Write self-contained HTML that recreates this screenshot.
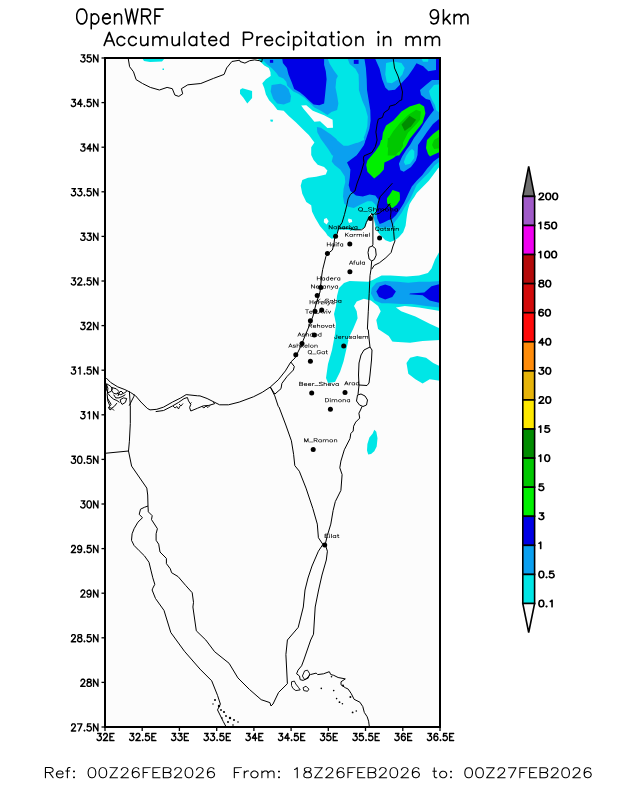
<!DOCTYPE html>
<html><head><meta charset="utf-8"><style>
html,body{margin:0;padding:0;background:#fff;}
svg{display:block;}
text{font-family:"Liberation Sans", sans-serif;fill:#000;}
.cl{font-size:7.2px;}
</style></head><body>
<svg width="618" height="800" viewBox="0 0 618 800">
<defs><clipPath id="mapclip"><rect x="105" y="58" width="335" height="669"/></clipPath></defs>
<rect x="106" y="59" width="333" height="667" fill="#fcfcfc"/>
<g clip-path="url(#mapclip)"><polygon points="256.2,57.0 441.0,57.0 441.0,167.0 438.5,167.8 433.7,174.3 428.8,180.7 422.4,187.2 416.7,192.9 414.3,197.0 412.1,199.9 409.6,203.9 408.0,209.6 407.2,213.6 406.4,219.3 405.6,225.7 403.2,232.2 399.1,237.1 395.1,240.3 390.2,241.9 385.4,240.3 381.3,236.3 378.1,232.2 375.7,228.2 374.5,221.7 374.0,219.3 371.2,212.8 368.8,216.0 367.2,221.7 364.7,227.4 359.9,229.8 353.4,230.6 346.9,229.8 338.8,229.8 334.8,237.9 331.6,238.7 327.5,235.5 325.8,232.7 320.1,226.2 315.2,218.1 312.0,211.6 311.2,205.2 306.3,201.9 302.3,193.8 300.7,185.7 302.3,180.1 308.0,177.7 316.1,176.8 325.8,174.4 327.4,170.4 324.1,167.1 317.7,164.7 313.6,159.9 311.2,155.0 311.2,147.2 314.4,142.4 308.8,135.1 303.1,129.4 295.8,122.2 288.5,115.7 283.7,110.8 277.5,110.0 273.2,104.4 269.1,100.3 265.9,94.6 264.3,88.2 262.3,83.3 265.9,79.3 270.7,76.0 270.4,72.0 268.8,67.9 264.3,65.5 260.2,61.5 256.2,57.0" fill="#00e6e6"/>
<polygon points="301.2,105.5 306.3,105.2 312.8,110.8 324.1,115.2 332.6,119.7 333.0,127.8 327.4,128.1 320.1,121.3 314.4,121.7 308.8,114.9 303.9,109.2" fill="#fcfcfc"/>
<polygon points="240.0,89.8 242.4,88.2 252.1,90.9 252.1,97.9 247.3,103.5 243.2,97.4 240.0,93.8" fill="#00e6e6"/>
<polygon points="270.4,119.4 273.2,119.7 272.4,122.0 270.4,121.3" fill="#00e6e6"/>
<polygon points="324.1,218.9 326.6,218.1 328.7,221.3 326.6,224.6 323.8,222.2" fill="#fcfcfc"/>
<polygon points="348.5,218.5 351.8,219.5 352.2,222.0 349.0,223.0 348.0,220.5" fill="#fcfcfc"/>
<polygon points="142.5,58.5 164.5,58.5 162.0,61.5 150.0,62.0 144.0,61.0" fill="#00e6e6"/>
<polygon points="162.5,68.5 164.0,68.5 164.0,70.0 162.5,70.0" fill="#00e6e6"/>
<polygon points="438.9,252.5 435.0,259.6 431.5,268.5 427.9,272.9 419.0,275.6 406.5,276.5 390.5,275.6 381.6,275.6 372.7,280.0 368.3,281.8 349.6,280.9 344.0,283.0 339.0,288.0 337.0,296.0 336.0,306.0 334.0,314.0 336.0,324.0 335.0,334.0 332.0,350.0 328.0,364.0 326.0,378.0 328.0,383.0 335.0,382.0 340.0,372.0 343.5,361.4 346.0,350.7 348.5,340.0 347.8,339.7 353.1,329.0 357.6,318.3 356.7,311.2 354.0,305.9 356.7,301.4 363.8,298.7 370.9,300.5 378.1,305.9 380.7,311.2 376.3,320.1 378.1,329.0 388.7,336.1 392.3,341.5 394.1,341.8 410.1,342.7 422.6,340.9 441.0,340.0 441.0,252.5" fill="#00e6e6"/>
<polygon points="441.0,329.0 429.7,323.7 415.4,316.5 401.2,311.2 395.9,307.6 404.8,305.9 419.0,307.6 441.0,311.2" fill="#fcfcfc"/>
<polygon points="441.0,280.9 429.7,281.8 419.0,281.8 408.3,282.7 397.6,281.8 385.2,280.9 376.3,282.7 371.8,288.1 370.9,293.4 374.5,300.5 381.6,303.2 388.7,303.2 401.2,304.1 411.9,304.1 426.1,305.9 441.0,307.6" fill="#0aa0f0"/>
<polygon points="376.3,291.6 379.8,286.3 385.2,284.5 390.5,286.3 395.9,291.6 392.3,297.0 385.2,299.6 379.0,297.0" fill="#0000e6"/>
<polygon points="441.0,283.6 431.5,286.3 424.3,292.5 410.1,293.4 409.2,294.3 422.6,295.2 429.7,300.5 441.0,303.2" fill="#0000e6"/>
<polygon points="406.5,363.1 410.1,357.8 417.2,356.0 426.1,357.8 433.2,363.1 441.0,366.7 441.0,380.9 429.7,379.2 422.6,383.6 415.4,379.2 408.3,373.8" fill="#00e6e6"/>
<polygon points="374.3,429.8 376.3,431.8 377.5,438.3 376.7,446.4 374.3,451.3 371.0,454.1 368.2,454.5 367.0,450.5 367.4,444.0 369.4,437.5 372.7,433.5" fill="#00e6e6"/>
<polygon points="261.0,57.9 266.7,63.9 272.4,68.8 276.4,73.1 278.8,76.5 283.4,78.6 286.3,81.7 287.2,85.7 290.2,88.5 293.4,91.4 298.3,93.8 304.7,97.9 309.6,102.7 314.4,107.6 320.9,110.8 327.4,114.9 331.4,112.0 337.1,110.0 338.4,103.5 337.1,95.5 335.5,87.4 336.3,79.3 337.9,76.0 333.9,70.4 329.8,63.9 327.4,57.9" fill="#0aa0f0"/>
<polygon points="271.6,84.9 280.5,83.8 285.3,85.7 288.5,89.3 291.0,96.3 290.2,101.9 283.7,104.4 277.2,103.5 273.2,98.7 270.7,91.4" fill="#0aa0f0"/>
<polygon points="316.9,127.0 320.9,127.8 330.6,134.3 340.6,142.4 340.6,155.6 332.2,155.6 328.2,148.9 320.9,139.1 317.3,132.3" fill="#0aa0f0"/>
<polygon points="347.3,57.9 349.7,63.9 355.4,68.8 358.6,74.4 358.9,83.3 358.9,90.0 362.2,100.5 365.4,107.8 367.8,116.7 367.3,126.4 365.4,133.6 362.8,140.0 356.2,144.0 346.5,145.6 339.5,146.4 339.5,155.6 439.0,155.6 439.0,57.9" fill="#0aa0f0"/>
<polygon points="330.0,146.8 332.3,147.9 333.4,154.7 331.7,161.5 334.5,164.9 340.2,169.4 344.7,176.2 345.3,181.9 343.6,188.7 343.0,196.6 344.2,203.4 348.1,206.8 353.8,208.0 360.6,204.6 367.4,201.2 371.9,201.2 375.3,204.6 377.6,210.0 374.0,217.7 374.9,221.7 376.5,224.9 379.7,227.4 386.2,227.4 392.7,227.4 394.3,222.5 397.5,218.5 401.6,212.8 404.8,207.1 409.8,199.5 413.0,193.0 416.7,184.8 422.4,179.1 428.8,172.7 434.5,165.4 441.0,160.5 441.0,150.0 330.0,140.0" fill="#0aa0f0"/>
<polygon points="336.8,140.0 343.6,145.7 348.1,145.7 358.3,142.3 364.0,140.0 364.0,138.0 336.8,138.0" fill="#00e6e6"/>
<polygon points="282.1,57.9 282.9,63.1 286.9,67.9 288.5,74.4 291.8,82.5 294.2,89.0 299.9,92.2 304.7,96.3 309.6,101.1 313.6,104.4 319.3,105.2 324.1,103.5 325.0,95.5 325.8,87.4 326.6,79.3 325.8,71.2 324.1,64.7 324.1,57.9" fill="#0000e6"/>
<polygon points="269.9,59.9 273.2,59.9 273.2,62.8 269.9,62.8" fill="#0000e6"/>
<polygon points="364.3,57.9 365.9,67.9 366.7,79.3 367.0,90.0 368.6,99.7 370.3,110.2 370.6,120.7 369.4,128.8 367.0,136.1 365.7,140.0 364.3,146.4 356.7,155.6 439.0,155.6 439.0,57.9" fill="#0000e6"/>
<polygon points="353.8,59.9 358.6,59.9 358.6,63.9 353.8,63.9" fill="#0000e6"/>
<polygon points="365.8,140.0 364.0,145.0 357.0,155.0 347.0,162.6 350.4,169.4 349.8,177.4 348.7,185.3 350.4,191.0 356.0,195.5 362.8,196.6 369.6,194.4 375.3,195.5 378.7,200.0 376.5,212.8 377.3,218.5 379.7,224.1 383.8,222.5 388.6,220.1 391.8,219.3 395.9,215.2 399.9,209.6 404.0,203.1 408.6,192.9 411.8,186.4 416.7,180.7 422.4,175.1 427.2,168.6 433.7,161.3 441.0,156.0 441.0,140.0" fill="#0000e6"/>
<polygon points="374.8,57.9 379.6,68.8 382.1,79.3 385.3,87.4 388.5,90.6 395.0,89.8 400.7,84.1 408.1,75.9 413.3,68.4 416.5,63.3 423.2,66.2 428.3,71.3 436.0,69.9 436.0,57.9" fill="#0aa0f0"/>
<polygon points="436.0,57.0 441.0,57.0 441.0,81.0 436.0,81.0" fill="#0000e6"/>
<polygon points="386.1,63.1 393.4,61.5 401.5,63.1 404.7,67.9 402.3,74.4 398.3,79.3 391.8,83.3 386.9,82.5 385.3,74.4" fill="#00e6e6"/>
<polygon points="421.0,58.0 428.5,58.0 428.0,61.7 423.0,61.7" fill="#00e6e6"/>
<polygon points="432.0,80.0 427.0,84.0 420.0,90.0 421.0,95.0 426.0,99.0 430.0,100.0 432.0,105.0 434.0,110.0 430.0,115.0 425.0,122.0 420.0,130.0 414.0,138.0 410.0,145.0 406.2,150.0 402.1,156.5 398.9,163.8 400.5,170.2 403.8,171.8 411.0,167.0 415.9,160.5 417.5,154.9 418.0,145.0 423.0,138.0 427.0,132.0 433.0,124.0 439.0,119.0 441.0,119.0 441.0,80.0" fill="#0aa0f0"/>
<polygon points="429.0,91.0 434.0,85.0 441.0,84.0 441.0,114.0 436.0,110.0 435.0,105.0 432.0,100.0 430.0,95.0" fill="#00e6e6"/>
<polygon points="412.0,149.0 409.4,151.0 406.2,155.7 403.8,162.1 405.4,165.0 410.2,163.8 414.3,158.1 414.3,151.0" fill="#00e6e6"/>
<polygon points="373.2,155.6 381.3,145.6 382.9,132.7 386.1,125.4 393.4,120.5 401.5,111.6 409.6,106.5 419.3,103.5 424.1,106.5 425.4,113.3 422.5,123.0 416.1,131.1 409.6,139.1 406.3,145.6 401.5,152.1 399.1,155.6" fill="#00f000"/>
<polygon points="381.0,140.0 379.8,144.5 375.3,151.3 367.4,160.4 366.2,164.9 367.4,171.7 374.2,178.5 379.8,174.0 383.8,169.4 384.4,162.6 388.9,160.4 393.4,158.1 399.1,153.6 403.0,148.0 400.0,138.0" fill="#00f000"/>
<polygon points="387.7,155.6 388.5,139.1 393.4,131.1 399.9,123.0 408.0,114.9 416.1,109.7 420.9,111.6 420.1,119.7 414.4,126.2 408.0,132.7 403.1,142.4 399.9,148.9 395.8,155.6" fill="#00c800"/>
<polygon points="387.8,138.0 387.8,140.0 387.2,146.8 391.2,152.5 395.7,153.6 400.0,151.3 403.0,146.0 403.0,138.0" fill="#00c800"/>
<polygon points="401.5,124.6 409.6,115.7 416.1,119.7 411.2,126.2 404.7,131.1" fill="#008c00"/>
<polygon points="441.0,128.0 433.0,134.0 427.0,140.0 426.0,148.0 428.0,154.0 430.0,156.5 432.9,154.9 438.5,152.4 441.0,152.0" fill="#00f000"/>
<polygon points="441.0,136.0 434.0,140.0 432.0,145.0 434.0,149.0 441.0,148.0" fill="#00c800"/>
<polygon points="392.6,190.0 399.4,192.3 399.9,195.0 399.9,199.9 396.7,204.7 392.7,207.9 388.6,206.3 387.0,202.3 387.0,198.2 389.8,194.5" fill="#00f000"/></g>
<g clip-path="url(#mapclip)"><polyline points="128.3,57.0 128.3,58.9 129.6,66.7 133.5,71.8 136.1,79.6 142.5,83.5 150.3,87.4 159.4,90.0 167.1,87.4 172.3,88.7 174.9,95.1 178.8,96.4 182.7,93.8 181.4,88.7 187.8,84.8 200.8,83.5 213.7,78.3 224.1,74.4 226.7,67.9 231.9,61.5 239.6,60.2 240.0,61.5 244.9,63.1 249.7,60.7 254.6,59.9 259.4,60.7 261.8,61.8 262.5,57.0" fill="none" stroke="#000" stroke-width="1.0" stroke-linejoin="round"/>
<polyline points="393.0,57.0 394.5,68.0 398.0,76.0 400.5,84.0 402.5,92.0 401.7,100.0 400.0,100.5 395.3,104.6 389.6,106.2 388.8,109.4 384.0,112.7 382.4,117.5 378.3,119.1 377.1,124.0 375.9,132.1 377.1,140.0 375.3,146.8 371.9,152.5 364.0,155.9 363.4,158.1 364.0,162.6 360.6,174.0 357.2,183.0 354.9,191.0 350.4,194.4 348.1,198.9 346.9,204.7 344.5,214.4 342.1,222.5 338.8,227.4 337.2,233.8 334.8,237.1 334.0,243.5 332.4,250.0 328.3,253.3 325.9,256.5 324.3,263.0 322.7,269.4 321.8,275.0 320.0,292.0 316.0,304.0 313.0,316.0 310.0,324.0 305.0,336.0 300.0,348.0 295.0,358.0 290.8,362.0 285.4,370.9 278.3,379.8 270.3,387.0 262.3,392.3 253.4,396.8 239.2,402.1 228.5,404.8 219.6,404.8 214.2,402.1 207.1,398.5 200.0,395.9 197.6,395.8 186.2,394.6 180.6,398.0 172.6,402.0 163.6,407.1 156.8,409.3 150.0,409.9 147.2,408.3 140.9,402.0 135.6,395.8 130.3,392.3 124.9,389.6 117.8,386.9 110.7,382.5 106.2,378.0" fill="none" stroke="#000" stroke-width="1.0" stroke-linejoin="round"/>
<polyline points="155.7,411.6 163.6,410.5 172.6,405.9 178.3,402.6 184.0,398.6 187.4,397.5 188.5,400.9 190.8,404.3 189.6,407.6 190.8,411.0 197.6,408.2 203.2,405.9 208.9,405.4 214.6,403.7 213.4,402.0" fill="none" stroke="#000" stroke-width="1.0" stroke-linejoin="round"/>
<polyline points="173.0,406.0 175.0,408.0 177.0,406.5 178.5,409.0 180.0,406.0" fill="none" stroke="#000" stroke-width="0.9" stroke-linejoin="round"/>
<polyline points="179.0,404.0 181.0,406.0 183.0,403.5" fill="none" stroke="#000" stroke-width="0.9" stroke-linejoin="round"/>
<polyline points="202.0,406.5 204.0,408.0 206.0,406.0 208.0,407.5 210.0,405.5" fill="none" stroke="#000" stroke-width="0.9" stroke-linejoin="round"/>
<polyline points="190.0,404.0 191.5,402.5" fill="none" stroke="#000" stroke-width="0.9" stroke-linejoin="round"/>
<polyline points="106.6,383.7 110.5,386.2 112.4,388.8 111.1,391.4 107.9,392.7 106.6,390.1 106.6,383.7" fill="none" stroke="#000" stroke-width="1.0" stroke-linejoin="round"/>
<polyline points="111.8,387.5 116.3,388.8 118.9,391.4 116.9,394.0 113.7,393.4 111.8,390.8 111.8,387.5" fill="none" stroke="#000" stroke-width="1.0" stroke-linejoin="round"/>
<polyline points="116.9,393.4 120.8,394.7 124.7,392.7 126.7,391.4" fill="none" stroke="#000" stroke-width="1.0" stroke-linejoin="round"/>
<polyline points="107.9,393.4 110.5,396.6 113.7,399.2 116.9,400.5 119.5,402.4" fill="none" stroke="#000" stroke-width="1.0" stroke-linejoin="round"/>
<polyline points="107.2,397.9 109.2,401.1 111.1,404.4 108.5,407.6 111.8,408.2 114.4,406.3 116.9,403.1" fill="none" stroke="#000" stroke-width="1.0" stroke-linejoin="round"/>
<polyline points="120.2,399.8 123.4,397.9 126.7,398.5 125.4,402.4 122.1,404.4 120.8,402.4 120.2,399.8" fill="none" stroke="#000" stroke-width="1.0" stroke-linejoin="round"/>
<polyline points="113.7,394.7 115.7,397.9 118.9,397.9 122.1,396.6 125.4,394.7" fill="none" stroke="#000" stroke-width="1.0" stroke-linejoin="round"/>
<polyline points="106.6,384.9 107.9,388.2 107.2,394.7 107.9,401.1 109.8,405.7" fill="none" stroke="#000" stroke-width="1.0" stroke-linejoin="round"/>
<polyline points="108.5,407.6 110.0,410.0 112.0,408.5 114.0,410.5" fill="none" stroke="#000" stroke-width="1.0" stroke-linejoin="round"/>
<polyline points="118.0,396.0 119.0,393.0 121.0,391.0 123.0,393.0" fill="none" stroke="#000" stroke-width="1.0" stroke-linejoin="round"/>
<polyline points="129.2,405.7 133.8,396.6 134.4,394.7" fill="none" stroke="#000" stroke-width="1.0" stroke-linejoin="round"/>
<polyline points="129.4,391.4 130.3,405.6 130.3,423.4 129.4,441.2 128.5,451.0 131.6,466.1 146.8,488.1 147.7,495.0 148.0,506.0" fill="none" stroke="#000" stroke-width="1.0" stroke-linejoin="round"/>
<polyline points="128.5,451.0 105.0,453.3" fill="none" stroke="#000" stroke-width="1.0" stroke-linejoin="round"/>
<polyline points="148.0,506.0 144.4,507.3 140.5,509.2 139.2,514.4 142.5,517.7 137.9,522.2 134.1,528.7 132.1,533.8 131.5,540.3 134.1,545.5 139.2,550.7 144.4,555.8 149.0,562.3 150.9,570.1 152.8,577.8 154.8,584.3 152.8,588.2 152.1,590.0 155.5,598.5 164.0,610.4 170.8,632.5 184.4,651.2 200.0,669.1 211.7,680.8 217.5,695.3 220.4,704.1 217.5,709.9 223.3,721.6 226.2,727.0" fill="none" stroke="#000" stroke-width="1.0" stroke-linejoin="round"/>
<polyline points="148.0,506.0 148.3,511.8 152.2,515.7 151.5,519.6 157.4,528.7 156.1,533.8 156.1,540.3 158.7,544.2 160.0,552.0 166.4,558.4 166.4,563.6 170.3,568.8 171.6,572.7 178.1,576.6 185.8,585.6 192.2,592.7 193.5,602.3 192.9,607.0 196.3,630.8 205.8,640.0 214.6,651.7 229.1,663.3 237.9,677.9 249.5,689.5 261.2,699.7 269.9,702.6 271.0,706.0 273.0,704.0 278.6,692.4 287.4,683.7 285.9,654.6 287.4,640.0 298.2,627.4 303.3,607.0 305.0,590.0 308.0,578.0 312.0,566.0 318.4,551.2 322.9,544.4" fill="none" stroke="#000" stroke-width="1.0" stroke-linejoin="round"/>
<polyline points="325.2,544.4 327.4,551.2 326.3,560.0 322.0,575.0 318.6,590.0 315.2,607.0 313.5,634.2 310.7,640.0 303.8,660.0 301.6,665.8 298.0,670.2 296.6,673.8 299.5,676.0 300.2,679.7 303.1,680.4 306.0,678.9 310.4,674.6 316.2,673.1 317.7,674.6 323.5,673.8 329.3,671.7 330.8,674.6 333.7,675.3 338.1,677.5 345.3,678.9 341.0,681.8 341.0,684.8 345.3,687.7 348.2,689.1 351.2,693.5 354.1,699.3 359.9,702.2 362.8,706.6 364.3,712.4 367.2,716.8 368.6,721.2 369.4,727.0" fill="none" stroke="#000" stroke-width="1.0" stroke-linejoin="round"/>
<polyline points="304.6,670.9 307.5,670.2 309.7,673.8 308.2,678.2 304.6,679.7 302.4,676.0 304.6,670.9" fill="none" stroke="#000" stroke-width="0.9" stroke-linejoin="round"/>
<polyline points="291.5,681.8 294.4,681.1 295.8,684.0 298.7,687.7 300.2,689.9 295.8,690.6 292.9,688.4 291.5,685.5 291.5,681.8" fill="none" stroke="#000" stroke-width="0.9" stroke-linejoin="round"/>
<polyline points="303.1,687.7 306.0,686.2 308.9,689.1 307.5,691.3 303.8,690.6 303.1,687.7" fill="none" stroke="#000" stroke-width="0.9" stroke-linejoin="round"/>
<polyline points="270.3,387.0 274.8,395.9 278.3,406.5 279.0,407.0 285.8,425.0 291.4,440.8 293.6,454.3 294.8,465.6 299.3,471.2 306.0,488.1 312.8,508.4 317.3,524.1 318.4,537.7 322.9,544.4" fill="none" stroke="#000" stroke-width="1.0" stroke-linejoin="round"/>
<polyline points="290.8,362.0 294.3,366.5 293.4,370.0 287.2,376.3 281.9,383.4 281.0,388.7 274.8,394.1 270.3,387.0" fill="none" stroke="#000" stroke-width="1.0" stroke-linejoin="round"/>
<polyline points="325.2,544.4 327.4,535.4 330.8,524.1 333.1,510.6 335.3,501.6 340.9,490.4 342.1,474.6 339.8,467.8 340.9,461.1 344.3,449.8 350.0,438.6 350.8,433.5 353.2,431.0 353.6,426.2 355.7,422.1 359.7,418.1 358.9,413.2 360.5,410.0 362.0,406.5" fill="none" stroke="#000" stroke-width="1.0" stroke-linejoin="round"/>
<polyline points="358.0,394.5 359.0,385.0" fill="none" stroke="#000" stroke-width="1.0" stroke-linejoin="round"/>
<polyline points="370.0,347.0 364.0,350.0 361.0,355.0 359.0,363.0 358.5,375.0 359.0,385.0 367.0,385.5 369.0,383.0 370.0,375.0 371.5,360.0 372.0,350.0 370.0,347.0" fill="none" stroke="#000" stroke-width="1.0" stroke-linejoin="round"/>
<polyline points="357.5,395.0 361.0,394.0 365.0,396.0 367.5,400.0 366.5,405.0 363.0,406.5 359.5,405.0 356.5,401.0 357.5,395.0" fill="none" stroke="#000" stroke-width="1.0" stroke-linejoin="round"/>
<polyline points="370.0,347.1 369.2,340.0 368.3,330.0 367.4,329.0 368.3,311.2 369.2,293.4 370.0,275.6 371.0,269.3 371.7,260.9" fill="none" stroke="#000" stroke-width="1.0" stroke-linejoin="round"/>
<polyline points="372.3,246.0 375.5,248.6 376.2,255.1 374.2,259.6 371.7,260.9 369.1,259.0 368.0,252.5 369.1,247.3 372.3,246.0" fill="none" stroke="#000" stroke-width="1.0" stroke-linejoin="round"/>
<polyline points="372.3,246.0 372.9,244.7 372.9,215.0 371.2,212.8" fill="none" stroke="#000" stroke-width="1.0" stroke-linejoin="round"/>
<polyline points="338.8,228.2 348.5,228.2 355.0,229.8 361.5,229.8 364.7,227.4 366.3,222.5 369.6,216.0 372.0,214.4 374.2,214.3" fill="none" stroke="#000" stroke-width="1.0" stroke-linejoin="round"/>
<polyline points="374.2,214.3 376.8,211.1 378.1,203.3 380.1,196.8 385.9,190.4 392.4,183.2" fill="none" stroke="#000" stroke-width="1.0" stroke-linejoin="round"/>
<polyline points="387.5,205.0 389.8,204.6 391.1,211.1 390.4,217.5 392.4,224.0 393.7,231.8 394.3,239.5 395.0,240.8 393.0,246.0 391.1,252.5 385.9,257.7 379.4,262.8 374.2,265.4 371.7,269.3" fill="none" stroke="#000" stroke-width="1.0" stroke-linejoin="round"/>
<polyline points="375.2,214.4 379.1,213.4 382.0,211.0 385.9,208.6 388.8,205.2 390.0,203.5" fill="none" stroke="#000" stroke-width="1.0" stroke-linejoin="round"/>
<circle cx="215" cy="700" r="1.0" fill="#000"/>
<circle cx="219" cy="706" r="1.2" fill="#000"/>
<circle cx="221" cy="710" r="0.9" fill="#000"/>
<circle cx="224" cy="712" r="1.1" fill="#000"/>
<circle cx="226" cy="716" r="0.9" fill="#000"/>
<circle cx="230" cy="718" r="1.2" fill="#000"/>
<circle cx="234" cy="720" r="1.0" fill="#000"/>
<circle cx="238" cy="722" r="0.8" fill="#000"/>
<circle cx="228" cy="722" r="1.0" fill="#000"/>
<circle cx="222" cy="718" r="0.8" fill="#000"/>
<circle cx="233" cy="725" r="0.8" fill="#000"/>
<circle cx="213" cy="704" r="0.7" fill="#000"/>
<circle cx="321.3" cy="688.4" r="0.8" fill="#000"/>
<circle cx="333.7" cy="690.6" r="0.8" fill="#000"/>
<circle cx="336.6" cy="698.6" r="0.8" fill="#000"/>
<circle cx="339.5" cy="702.2" r="0.9" fill="#000"/>
<circle cx="342.4" cy="703.7" r="0.8" fill="#000"/>
<circle cx="350.4" cy="697.1" r="1.0" fill="#000"/>
<circle cx="352.6" cy="712.4" r="0.9" fill="#000"/>
<circle cx="356.3" cy="711" r="0.8" fill="#000"/>
<circle cx="331.5" cy="676.7" r="0.8" fill="#000"/>
<circle cx="343" cy="685.5" r="1.0" fill="#000"/></g>
<circle cx="370.4" cy="218.5" r="2.5" fill="#000"/>
<circle cx="335.6" cy="236.3" r="2.5" fill="#000"/>
<circle cx="349.8" cy="243.9" r="2.5" fill="#000"/>
<circle cx="379.6" cy="237.9" r="2.5" fill="#000"/>
<circle cx="327.4" cy="253.5" r="2.5" fill="#000"/>
<circle cx="349.9" cy="271.7" r="2.5" fill="#000"/>
<circle cx="320.8" cy="287.5" r="2.5" fill="#000"/>
<circle cx="317.2" cy="295.6" r="2.5" fill="#000"/>
<circle cx="315.0" cy="311.2" r="2.5" fill="#000"/>
<circle cx="321.7" cy="309.9" r="2.5" fill="#000"/>
<circle cx="310.4" cy="320.7" r="2.5" fill="#000"/>
<circle cx="314.3" cy="334.9" r="2.5" fill="#000"/>
<circle cx="302.0" cy="343.6" r="2.5" fill="#000"/>
<circle cx="295.8" cy="354.7" r="2.5" fill="#000"/>
<circle cx="310.4" cy="361.2" r="2.5" fill="#000"/>
<circle cx="343.7" cy="345.9" r="2.5" fill="#000"/>
<circle cx="311.7" cy="393.1" r="2.5" fill="#000"/>
<circle cx="345.0" cy="392.4" r="2.5" fill="#000"/>
<circle cx="330.4" cy="409.3" r="2.5" fill="#000"/>
<circle cx="313.2" cy="449.4" r="2.5" fill="#000"/>
<circle cx="324.7" cy="545.1" r="2.5" fill="#000"/>
<path fill="#000" fill-rule="evenodd" d="M363.15 211.21L363.21 211.34L363.34 211.43L363.52 211.47L367.45 211.47L367.63 211.43L367.75 211.34L367.81 211.21L367.75 211.08L367.63 210.99L367.45 210.95L363.52 210.95L363.34 210.99L363.21 211.08ZM395.25 208.70L394.61 209.15L394.33 209.68L394.30 210.16L394.55 210.75L395.25 211.28L395.75 211.45L396.63 211.47L397.25 211.28L397.49 211.45L397.62 211.47L397.80 211.43L397.92 211.34L397.98 211.21L397.98 208.76L397.92 208.63L397.80 208.54L397.62 208.50L397.43 208.54L397.25 208.70L396.79 208.52L395.90 208.50ZM395.96 209.02L396.57 209.02L396.94 209.15L397.25 209.37L397.25 210.60L396.94 210.82L396.57 210.95L395.96 210.95L395.59 210.82L395.25 210.58L395.04 210.14L395.04 209.83L395.25 209.40L395.59 209.15ZM390.07 208.54L389.95 208.63L389.89 208.76L389.89 211.21L389.95 211.34L390.07 211.43L390.26 211.47L390.44 211.43L390.59 211.30L390.62 209.55L391.18 209.15L391.54 209.02L392.16 209.02L392.43 209.15L392.59 209.48L392.62 211.30L392.83 211.45L392.95 211.47L393.14 211.43L393.26 211.34L393.32 211.21L393.32 209.46L393.02 208.80L392.86 208.70L392.22 208.50L391.33 208.52L390.84 208.70L390.66 208.83L390.56 208.63L390.44 208.54L390.26 208.50ZM386.58 208.50L385.93 208.70L385.23 209.22L384.98 209.81L385.01 210.29L385.23 210.75L385.93 211.28L386.42 211.45L387.31 211.47L387.96 211.28L388.66 210.75L388.91 210.16L388.88 209.68L388.66 209.22L387.96 208.70L387.47 208.52ZM386.64 209.02L387.25 209.02L387.62 209.15L387.96 209.40L388.17 209.83L388.17 210.14L387.96 210.58L387.62 210.82L387.25 210.95L386.64 210.95L386.27 210.82L385.93 210.58L385.72 210.14L385.72 209.83L385.93 209.40L386.27 209.15ZM377.93 208.63L377.87 208.76L377.87 211.21L377.93 211.34L378.05 211.43L378.24 211.47L378.42 211.43L378.54 211.34L378.61 211.21L378.61 209.55L379.16 209.15L379.53 209.02L380.14 209.02L380.41 209.15L380.57 209.48L380.57 211.21L380.63 211.34L380.75 211.43L380.94 211.47L381.12 211.43L381.24 211.34L381.30 211.21L381.30 209.55L381.86 209.15L382.22 209.02L382.84 209.02L383.11 209.15L383.27 209.48L383.30 211.30L383.45 211.43L383.63 211.47L383.82 211.43L383.94 211.34L384.00 211.21L384.00 209.46L383.76 208.87L383.54 208.70L383.05 208.52L382.16 208.50L381.52 208.70L381.12 208.98L381.00 208.80L380.84 208.70L380.20 208.50L379.31 208.52L378.82 208.70L378.64 208.83L378.54 208.63L378.36 208.52L378.12 208.52ZM373.39 207.32L373.27 207.40L373.21 207.54L373.21 211.21L373.27 211.34L373.39 211.43L373.58 211.47L373.76 211.43L373.91 211.30L373.95 209.55L374.50 209.15L374.87 209.02L375.48 209.02L375.75 209.15L375.91 209.48L375.94 211.30L376.15 211.45L376.28 211.47L376.46 211.43L376.58 211.34L376.64 211.21L376.64 209.46L376.40 208.87L376.18 208.70L375.54 208.50L374.65 208.52L374.16 208.70L373.98 208.83L373.91 207.45L373.70 207.30L373.58 207.27ZM369.47 207.30L368.83 207.45L368.12 207.93L368.06 208.06L368.09 208.52L368.33 208.87L368.76 209.18L369.32 209.37L370.76 209.70L371.19 209.85L371.31 209.94L371.49 210.20L371.49 210.60L371.22 210.80L370.60 210.95L369.68 210.95L369.13 210.82L368.61 210.47L368.43 210.42L368.24 210.47L368.12 210.55L368.06 210.69L368.12 210.82L368.83 211.30L369.65 211.47L370.82 211.45L371.46 211.30L372.17 210.82L372.23 210.69L372.20 210.05L371.95 209.70L371.52 209.40L370.97 209.20L369.53 208.87L369.10 208.72L368.98 208.63L368.79 208.37L368.79 208.15L369.07 207.95L369.68 207.80L370.60 207.80L371.16 207.93L371.68 208.28L371.86 208.32L372.04 208.28L372.17 208.19L372.23 208.06L372.17 207.93L371.46 207.45L370.63 207.27ZM359.93 207.30L359.44 207.47L358.77 207.95L358.49 208.35L358.28 208.80L358.25 209.81L358.49 210.40L358.77 210.80L359.44 211.28L360.09 211.47L361.07 211.47L361.50 211.34L362.11 211.78L362.29 211.82L362.42 211.80L362.63 211.65L362.63 211.47L362.05 211.04L362.39 210.80L362.66 210.40L362.91 209.81L362.91 208.94L362.66 208.35L362.39 207.95L361.71 207.47L361.07 207.27ZM360.15 207.80L361.01 207.80L361.37 207.93L361.74 208.19L361.96 208.50L362.17 208.96L362.17 209.79L361.96 210.25L361.74 210.55L361.56 210.69L361.01 210.29L360.82 210.25L360.64 210.29L360.49 210.42L360.45 210.51L360.52 210.64L360.91 210.93L360.88 210.95L360.15 210.95L359.78 210.82L359.41 210.55L359.20 210.25L358.98 209.79L358.98 208.96L359.20 208.50L359.41 208.19L359.78 207.93ZM354.99 226.50L354.41 226.95L354.16 227.48L354.14 227.96L354.36 228.55L354.99 229.08L355.43 229.25L356.23 229.27L356.78 229.08L357.00 229.25L357.11 229.27L357.28 229.23L357.39 229.14L357.44 229.01L357.44 226.56L357.39 226.43L357.28 226.34L357.11 226.30L356.95 226.34L356.78 226.50L356.37 226.32L355.57 226.30ZM355.63 226.82L356.18 226.82L356.51 226.95L356.78 227.17L356.78 228.40L356.51 228.62L356.18 228.75L355.63 228.75L355.29 228.62L354.99 228.38L354.80 227.94L354.80 227.63L354.99 227.20L355.29 226.95ZM353.53 226.34L353.37 226.30L353.26 226.32L353.06 226.45L352.04 228.33L351.02 226.45L350.89 226.34L350.72 226.30L350.55 226.34L350.44 226.43L350.39 226.56L350.42 226.69L351.68 229.01L351.33 229.58L351.00 229.84L350.66 229.97L350.39 230.00L350.22 230.10L350.17 230.24L350.22 230.37L350.33 230.45L350.72 230.50L351.30 230.30L351.91 229.82L352.43 228.99L353.67 226.69L353.67 226.47ZM349.40 226.30L349.23 226.34L349.12 226.43L349.07 226.56L349.07 229.01L349.12 229.14L349.23 229.23L349.40 229.27L349.56 229.23L349.67 229.14L349.73 229.01L349.73 226.56L349.67 226.43L349.56 226.34ZM348.46 226.34L348.29 226.30L347.50 226.32L347.05 226.50L346.89 226.63L346.81 226.43L346.64 226.32L346.42 226.32L346.26 226.43L346.20 226.56L346.20 229.01L346.26 229.14L346.37 229.23L346.53 229.27L346.64 229.25L346.83 229.10L346.86 227.63L347.05 227.20L347.36 226.95L347.69 226.82L348.29 226.82L348.46 226.78L348.57 226.69L348.63 226.56L348.57 226.43ZM342.65 226.50L342.07 226.95L341.82 227.48L341.79 227.96L342.01 228.55L342.65 229.08L343.09 229.25L343.89 229.27L344.44 229.08L344.66 229.25L344.77 229.27L344.93 229.23L345.04 229.14L345.10 229.01L345.10 226.56L345.04 226.43L344.93 226.34L344.77 226.30L344.60 226.34L344.44 226.50L344.02 226.32L343.22 226.30ZM343.28 226.82L343.83 226.82L344.16 226.95L344.44 227.17L344.44 228.40L344.16 228.62L343.83 228.75L343.28 228.75L342.95 228.62L342.65 228.38L342.45 227.94L342.45 227.63L342.65 227.20L342.95 226.95ZM334.27 226.50L333.69 226.95L333.44 227.48L333.41 227.96L333.63 228.55L334.27 229.08L334.71 229.25L335.51 229.27L336.06 229.08L336.28 229.25L336.39 229.27L336.55 229.23L336.66 229.14L336.72 229.01L336.72 226.56L336.66 226.43L336.55 226.34L336.39 226.30L336.22 226.34L336.06 226.50L335.65 226.32L334.85 226.30ZM334.90 226.82L335.45 226.82L335.78 226.95L336.06 227.17L336.06 228.40L335.78 228.62L335.45 228.75L334.90 228.75L334.57 228.62L334.27 228.38L334.07 227.94L334.07 227.63L334.27 227.20L334.57 226.95ZM337.99 225.12L337.88 225.20L337.82 225.34L337.82 229.01L337.88 229.14L337.99 229.23L338.15 229.27L338.32 229.23L338.46 229.10L338.48 227.35L338.98 226.95L339.31 226.82L339.86 226.82L340.11 226.95L340.25 227.28L340.28 229.10L340.47 229.25L340.58 229.27L340.74 229.23L340.85 229.14L340.91 229.01L340.91 227.26L340.69 226.67L340.50 226.50L339.92 226.30L339.12 226.32L338.68 226.50L338.51 226.63L338.46 225.25L338.26 225.10L338.15 225.07ZM328.95 225.12L328.84 225.20L328.78 225.34L328.78 229.01L328.84 229.14L329.00 229.25L329.22 229.25L329.39 229.14L329.44 229.01L329.47 226.25L331.90 229.14L332.20 229.27L332.37 229.23L332.48 229.14L332.53 229.01L332.53 225.34L332.48 225.20L332.31 225.10L332.09 225.10L331.92 225.20L331.87 225.34L331.84 228.09L329.42 225.20L329.11 225.07ZM349.40 224.90L349.23 224.94L348.90 225.20L348.85 225.34L348.90 225.47L349.23 225.73L349.40 225.77L349.56 225.73L349.89 225.47L349.95 225.34L349.89 225.20L349.56 224.94ZM366.23 233.90L365.65 234.10L365.02 234.62L364.80 235.21L364.83 235.69L365.02 236.15L365.65 236.68L366.09 236.85L366.89 236.87L367.47 236.68L368.05 236.22L368.10 236.09L368.05 235.95L367.88 235.85L367.66 235.85L367.17 236.22L366.84 236.35L366.29 236.35L365.96 236.22L365.65 235.98L365.46 235.50L367.88 235.45L368.08 235.30L368.10 234.86L367.86 234.40L367.47 234.10L367.03 233.92ZM365.60 234.90L365.65 234.80L365.96 234.55L366.29 234.42L366.84 234.42L367.17 234.55L367.28 234.64L367.44 234.93L365.63 234.95ZM363.59 233.90L363.42 233.94L363.31 234.03L363.26 234.16L363.26 236.61L363.31 236.74L363.42 236.83L363.59 236.87L363.75 236.83L363.86 236.74L363.92 236.61L363.92 234.16L363.86 234.03L363.75 233.94ZM356.71 234.03L356.65 234.16L356.65 236.61L356.71 236.74L356.82 236.83L356.98 236.87L357.15 236.83L357.26 236.74L357.31 236.61L357.31 234.95L357.81 234.55L358.14 234.42L358.69 234.42L358.94 234.55L359.08 234.88L359.08 236.61L359.13 236.74L359.24 236.83L359.41 236.87L359.57 236.83L359.68 236.74L359.74 236.61L359.74 234.95L360.23 234.55L360.56 234.42L361.11 234.42L361.36 234.55L361.50 234.88L361.52 236.70L361.66 236.83L361.83 236.87L361.99 236.83L362.10 236.74L362.16 236.61L362.16 234.86L361.94 234.27L361.74 234.10L361.30 233.92L360.51 233.90L359.93 234.10L359.57 234.38L359.46 234.20L359.32 234.10L358.74 233.90L357.95 233.92L357.51 234.10L357.34 234.23L357.26 234.03L357.09 233.92L356.87 233.92ZM356.05 233.94L355.88 233.90L355.08 233.92L354.64 234.10L354.48 234.23L354.40 234.03L354.23 233.92L354.01 233.92L353.85 234.03L353.79 234.16L353.79 236.61L353.85 236.74L353.96 236.83L354.12 236.87L354.23 236.85L354.42 236.70L354.45 235.23L354.64 234.80L354.95 234.55L355.28 234.42L355.88 234.42L356.05 234.38L356.16 234.29L356.21 234.16L356.16 234.03ZM350.24 234.10L349.66 234.55L349.41 235.08L349.39 235.56L349.61 236.15L350.24 236.68L350.68 236.85L351.48 236.87L352.03 236.68L352.25 236.85L352.36 236.87L352.52 236.83L352.63 236.74L352.69 236.61L352.69 234.16L352.63 234.03L352.52 233.94L352.36 233.90L352.19 233.94L352.03 234.10L351.62 233.92L350.82 233.90ZM350.87 234.42L351.42 234.42L351.75 234.55L352.03 234.77L352.03 236.00L351.75 236.22L351.42 236.35L350.87 236.35L350.54 236.22L350.24 235.98L350.05 235.54L350.05 235.23L350.24 234.80L350.54 234.55ZM369.31 232.67L369.15 232.72L369.04 232.80L368.98 232.94L368.98 236.61L369.04 236.74L369.15 236.83L369.31 236.87L369.48 236.83L369.59 236.74L369.64 236.61L369.64 232.94L369.59 232.80L369.48 232.72ZM345.15 232.72L345.04 232.80L344.98 232.94L344.98 236.61L345.04 236.74L345.15 236.83L345.31 236.87L345.48 236.83L345.59 236.74L345.64 236.61L345.64 235.47L346.36 234.90L348.12 236.76L348.40 236.87L348.56 236.83L348.67 236.74L348.73 236.61L348.67 236.46L346.86 234.51L348.67 233.07L348.73 232.94L348.67 232.80L348.51 232.70L348.40 232.67L348.23 232.72L345.67 234.75L345.64 232.94L345.59 232.80L345.48 232.72L345.31 232.67ZM363.59 232.50L363.42 232.54L363.09 232.80L363.04 232.94L363.09 233.07L363.42 233.33L363.59 233.37L363.75 233.33L364.08 233.07L364.14 232.94L364.08 232.80L363.75 232.54ZM395.80 227.94L395.69 228.03L395.63 228.16L395.63 230.61L395.69 230.74L395.80 230.83L395.97 230.87L396.14 230.83L396.27 230.70L396.30 228.95L396.80 228.55L397.14 228.42L397.69 228.42L397.94 228.55L398.08 228.88L398.11 230.70L398.30 230.85L398.41 230.87L398.58 230.83L398.69 230.74L398.75 230.61L398.75 228.86L398.47 228.20L398.33 228.10L397.75 227.90L396.94 227.92L396.50 228.10L396.33 228.23L396.25 228.03L396.14 227.94L395.97 227.90ZM394.19 227.90L394.02 227.94L393.91 228.03L393.86 228.16L393.86 230.61L393.91 230.74L394.02 230.83L394.19 230.87L394.36 230.83L394.47 230.74L394.52 230.61L394.52 228.16L394.47 228.03L394.36 227.94ZM393.24 227.94L393.08 227.90L392.27 227.92L391.83 228.10L391.66 228.23L391.58 228.03L391.41 227.92L391.19 227.92L391.02 228.03L390.97 228.16L390.97 230.61L391.02 230.74L391.13 230.83L391.30 230.87L391.41 230.85L391.61 230.70L391.63 229.23L391.83 228.80L392.13 228.55L392.47 228.42L393.08 228.42L393.24 228.38L393.36 228.29L393.41 228.16L393.36 228.03ZM387.44 228.07L387.21 228.23L386.96 228.69L387.21 229.15L387.38 229.28L387.83 229.45L388.96 229.63L389.24 229.74L389.41 229.95L389.41 230.04L389.24 230.24L388.83 230.35L388.21 230.35L387.80 230.24L387.60 229.98L387.46 229.87L387.30 229.82L387.19 229.85L387.02 229.95L386.96 230.09L387.21 230.55L387.44 230.70L388.19 230.87L389.02 230.85L389.69 230.65L389.83 230.55L390.08 230.09L390.05 229.80L389.83 229.45L389.66 229.32L389.21 229.15L388.08 228.97L387.80 228.86L387.66 228.69L387.80 228.53L388.21 228.42L388.83 228.42L389.24 228.53L389.44 228.80L389.58 228.90L389.74 228.95L389.85 228.93L390.02 228.82L390.08 228.69L389.83 228.23L389.60 228.07L388.85 227.90L388.19 227.90ZM380.93 228.10L380.35 228.55L380.10 229.08L380.07 229.56L380.29 230.15L380.93 230.68L381.38 230.85L382.18 230.87L382.74 230.68L382.96 230.85L383.07 230.87L383.24 230.83L383.35 230.74L383.41 230.61L383.41 228.16L383.35 228.03L383.24 227.94L383.07 227.90L382.91 227.94L382.74 228.10L382.32 227.92L381.52 227.90ZM381.57 228.42L382.13 228.42L382.46 228.55L382.74 228.77L382.74 230.00L382.46 230.22L382.13 230.35L381.57 230.35L381.24 230.22L380.93 229.98L380.74 229.54L380.74 229.23L380.93 228.80L381.24 228.55ZM385.07 226.67L384.91 226.72L384.80 226.80L384.74 226.94L384.74 227.88L384.24 227.94L384.13 228.03L384.07 228.16L384.13 228.29L384.24 228.38L384.74 228.45L384.74 229.91L384.96 230.50L385.16 230.68L385.60 230.85L386.19 230.87L386.35 230.83L386.46 230.74L386.52 230.61L386.46 230.48L386.30 230.37L385.80 230.35L385.55 230.22L385.41 229.89L385.41 228.45L386.07 228.40L386.24 228.29L386.30 228.16L386.24 228.03L386.07 227.92L385.41 227.88L385.41 226.94L385.35 226.80L385.24 226.72ZM376.71 226.70L376.26 226.87L375.65 227.35L375.40 227.75L375.21 228.20L375.18 229.21L375.40 229.80L375.65 230.20L376.26 230.68L376.85 230.87L377.74 230.87L378.13 230.74L378.68 231.18L378.85 231.22L378.96 231.20L379.15 231.05L379.15 230.87L378.63 230.44L378.93 230.20L379.18 229.80L379.40 229.21L379.40 228.34L379.18 227.75L378.93 227.35L378.32 226.87L377.74 226.67ZM376.90 227.20L377.68 227.20L378.02 227.33L378.35 227.59L378.54 227.90L378.74 228.36L378.74 229.19L378.54 229.65L378.35 229.95L378.18 230.09L377.68 229.69L377.51 229.65L377.35 229.69L377.21 229.82L377.18 229.91L377.24 230.04L377.60 230.33L377.57 230.35L376.90 230.35L376.57 230.22L376.24 229.95L376.04 229.65L375.85 229.19L375.85 228.36L376.04 227.90L376.24 227.59L376.57 227.33ZM394.19 226.50L394.02 226.54L393.69 226.80L393.63 226.94L393.69 227.07L394.02 227.33L394.19 227.37L394.36 227.33L394.69 227.07L394.75 226.94L394.69 226.80L394.36 226.54ZM340.70 243.67L340.11 244.18L339.89 244.68L339.86 245.16L340.11 245.80L340.70 246.30L341.13 246.47L341.95 246.50L342.11 246.47L342.46 246.32L342.68 246.47L342.95 246.47L343.08 246.39L343.17 246.21L343.14 243.65L343.03 243.54L342.81 243.48L342.68 243.50L342.49 243.65L342.11 243.50L341.30 243.48L341.13 243.50ZM341.38 244.05L341.87 244.05L342.19 244.18L342.46 244.40L342.46 245.58L342.19 245.80L341.87 245.93L341.38 245.93L341.05 245.80L340.73 245.53L340.57 245.14L340.57 244.83L340.73 244.44L341.05 244.18ZM336.10 243.48L335.88 243.54L335.77 243.65L335.74 243.76L335.74 246.21L335.83 246.39L335.96 246.47L336.10 246.50L336.31 246.43L336.42 246.32L336.45 246.21L336.45 243.76L336.37 243.59L336.23 243.50ZM332.25 243.67L331.66 244.18L331.44 244.68L331.41 245.16L331.66 245.80L332.25 246.30L332.68 246.47L333.50 246.50L333.66 246.47L334.01 246.32L334.23 246.47L334.50 246.47L334.63 246.39L334.72 246.21L334.69 243.65L334.58 243.54L334.36 243.48L334.23 243.50L334.04 243.65L333.66 243.50L332.85 243.48L332.68 243.50ZM332.93 244.05L333.42 244.05L333.74 244.18L334.01 244.40L334.01 245.58L333.74 245.80L333.42 245.93L332.93 245.93L332.60 245.80L332.28 245.53L332.12 245.14L332.12 244.83L332.28 244.44L332.60 244.18ZM339.27 242.27L338.53 242.27L338.10 242.45L337.91 242.65L337.72 243.10L337.69 243.45L337.26 243.50L337.07 243.65L337.07 243.87L337.26 244.02L337.69 244.07L337.69 246.21L337.72 246.32L337.91 246.47L338.18 246.47L338.32 246.39L338.40 246.21L338.40 244.07L339.05 244.02L339.18 243.94L339.27 243.76L339.24 243.65L339.05 243.50L338.43 243.48L338.40 243.26L338.56 242.91L338.78 242.82L339.27 242.80L339.40 242.71L339.48 242.54L339.46 242.43ZM327.08 242.27L326.94 242.36L326.86 242.54L326.89 246.32L327.00 246.43L327.21 246.50L327.35 246.47L327.54 246.32L327.59 244.57L329.87 244.57L329.92 246.32L330.11 246.47L330.38 246.47L330.52 246.39L330.60 246.21L330.57 242.43L330.46 242.32L330.25 242.25L330.11 242.27L329.92 242.43L329.87 244.00L327.59 244.00L327.54 242.43L327.35 242.27ZM336.10 242.08L335.88 242.14L335.61 242.36L335.53 242.54L335.61 242.71L335.88 242.93L336.10 243.00L336.31 242.93L336.58 242.71L336.67 242.54L336.58 242.36L336.31 242.14ZM362.53 261.87L361.94 262.38L361.72 262.88L361.70 263.36L361.94 264.00L362.53 264.50L362.95 264.67L363.76 264.70L363.92 264.67L364.27 264.52L364.48 264.67L364.75 264.67L364.88 264.59L364.96 264.41L364.93 261.85L364.83 261.74L364.61 261.68L364.48 261.70L364.29 261.85L363.92 261.70L363.11 261.68L362.95 261.70ZM363.20 262.25L363.68 262.25L364.00 262.38L364.27 262.60L364.27 263.78L364.00 264.00L363.68 264.13L363.20 264.13L362.87 264.00L362.55 263.73L362.39 263.34L362.39 263.03L362.55 262.64L362.87 262.38ZM356.26 261.74L356.16 261.85L356.13 261.96L356.13 263.71L356.34 264.30L356.53 264.50L356.96 264.67L357.12 264.70L357.92 264.67L358.35 264.50L358.46 264.41L358.51 264.43L358.57 264.59L358.70 264.67L358.83 264.70L359.05 264.63L359.15 264.52L359.18 264.41L359.18 261.96L359.10 261.79L358.97 261.70L358.83 261.68L358.70 261.70L358.51 261.85L358.49 263.60L358.00 264.00L357.68 264.13L357.20 264.13L356.96 264.02L356.83 263.69L356.80 261.85L356.61 261.70L356.48 261.68ZM360.55 260.45L360.33 260.52L360.22 260.63L360.20 260.74L360.20 264.41L360.28 264.59L360.41 264.67L360.55 264.70L360.76 264.63L360.87 264.52L360.89 264.41L360.89 260.74L360.81 260.56L360.68 260.47ZM355.33 260.47L354.60 260.47L354.18 260.65L353.99 260.85L353.80 261.30L353.78 261.65L353.35 261.70L353.16 261.85L353.16 262.07L353.35 262.22L353.78 262.27L353.78 264.41L353.80 264.52L353.99 264.67L354.26 264.67L354.39 264.59L354.47 264.41L354.47 262.27L355.11 262.22L355.25 262.14L355.33 261.96L355.30 261.85L355.11 261.70L354.50 261.68L354.47 261.46L354.63 261.11L354.85 261.02L355.33 261.00L355.46 260.91L355.54 260.74L355.51 260.63ZM351.26 260.47L350.99 260.47L350.78 260.65L349.09 264.28L349.09 264.52L349.28 264.67L349.55 264.67L349.76 264.50L350.24 263.47L352.01 263.47L352.49 264.50L352.70 264.67L352.84 264.70L352.97 264.67L353.16 264.52L353.19 264.41L353.13 264.21L351.47 260.65ZM351.13 261.57L351.74 262.84L351.71 262.90L350.51 262.88ZM337.77 277.70L337.19 278.15L336.94 278.68L336.91 279.16L337.13 279.75L337.77 280.28L338.22 280.45L339.02 280.47L339.58 280.28L339.80 280.45L339.91 280.47L340.08 280.43L340.19 280.34L340.25 280.21L340.25 277.76L340.19 277.63L340.08 277.54L339.91 277.50L339.75 277.54L339.58 277.70L339.16 277.52L338.36 277.50ZM338.41 278.02L338.97 278.02L339.30 278.15L339.58 278.37L339.58 279.60L339.30 279.82L338.97 279.95L338.41 279.95L338.08 279.82L337.77 279.58L337.58 279.14L337.58 278.83L337.77 278.40L338.08 278.15ZM336.52 277.54L336.35 277.50L335.55 277.52L335.10 277.70L334.93 277.83L334.85 277.63L334.68 277.52L334.46 277.52L334.29 277.63L334.24 277.76L334.24 280.21L334.29 280.34L334.41 280.43L334.57 280.47L334.68 280.45L334.88 280.30L334.91 278.83L335.10 278.40L335.41 278.15L335.74 278.02L336.35 278.02L336.52 277.98L336.63 277.89L336.69 277.76L336.63 277.63ZM331.46 277.50L330.87 277.70L330.23 278.22L330.01 278.81L330.04 279.29L330.23 279.75L330.87 280.28L331.32 280.45L332.12 280.47L332.71 280.28L333.29 279.82L333.35 279.69L333.29 279.55L333.13 279.45L332.90 279.45L332.40 279.82L332.07 279.95L331.51 279.95L331.18 279.82L330.87 279.58L330.68 279.10L333.13 279.05L333.32 278.90L333.35 278.46L333.10 278.00L332.71 277.70L332.26 277.52ZM330.82 278.50L330.87 278.40L331.18 278.15L331.51 278.02L332.07 278.02L332.40 278.15L332.51 278.24L332.68 278.53L330.85 278.55ZM322.42 277.70L321.83 278.15L321.58 278.68L321.55 279.16L321.78 279.75L322.42 280.28L322.86 280.45L323.67 280.47L324.22 280.28L324.45 280.45L324.56 280.47L324.72 280.43L324.84 280.34L324.89 280.21L324.89 277.76L324.84 277.63L324.72 277.54L324.56 277.50L324.39 277.54L324.22 277.70L323.81 277.52L323.00 277.50ZM323.06 278.02L323.61 278.02L323.95 278.15L324.22 278.37L324.22 279.60L323.95 279.82L323.61 279.95L323.06 279.95L322.72 279.82L322.42 279.58L322.22 279.14L322.22 278.83L322.42 278.40L322.72 278.15ZM328.90 276.30L328.68 276.30L328.48 276.45L328.42 277.67L327.90 277.50L327.09 277.52L326.64 277.70L326.00 278.22L325.78 278.81L325.81 279.29L326.00 279.75L326.64 280.28L327.09 280.45L327.90 280.47L328.45 280.28L328.62 280.43L328.79 280.47L328.95 280.43L329.09 280.30L329.12 276.54L329.06 276.40ZM327.28 278.02L327.84 278.02L328.17 278.15L328.45 278.37L328.45 279.60L328.17 279.82L327.84 279.95L327.28 279.95L326.95 279.82L326.64 279.58L326.45 279.14L326.45 278.83L326.64 278.40L326.95 278.15ZM317.05 276.32L316.94 276.40L316.88 276.54L316.88 280.21L316.94 280.34L317.05 280.43L317.21 280.47L317.38 280.43L317.52 280.30L317.58 278.55L319.97 278.55L320.00 280.21L320.05 280.34L320.16 280.43L320.33 280.47L320.50 280.43L320.61 280.34L320.66 280.21L320.66 276.54L320.61 276.40L320.50 276.32L320.33 276.27L320.16 276.32L320.02 276.45L319.97 278.02L317.58 278.02L317.55 276.54L317.49 276.40L317.38 276.32L317.21 276.27ZM335.55 285.80L334.96 286.25L334.71 286.78L334.68 287.26L334.90 287.85L335.55 288.38L336.00 288.55L336.81 288.57L337.38 288.38L337.60 288.55L337.71 288.57L337.88 288.53L338.00 288.44L338.05 288.31L338.05 285.86L338.00 285.73L337.88 285.64L337.71 285.60L337.55 285.64L337.38 285.80L336.96 285.62L336.14 285.60ZM336.20 286.12L336.76 286.12L337.10 286.25L337.38 286.47L337.38 287.70L337.10 287.92L336.76 288.05L336.20 288.05L335.86 287.92L335.55 287.68L335.35 287.24L335.35 286.93L335.55 286.50L335.86 286.25ZM334.06 285.64L333.89 285.60L333.78 285.62L333.58 285.75L332.54 287.63L331.50 285.75L331.36 285.64L331.20 285.60L331.03 285.64L330.91 285.73L330.86 285.86L330.89 285.99L332.18 288.31L331.81 288.88L331.48 289.14L331.14 289.27L330.86 289.30L330.69 289.40L330.63 289.54L330.69 289.67L330.80 289.75L331.20 289.80L331.79 289.60L332.40 289.12L332.94 288.29L334.20 285.99L334.20 285.77ZM327.21 285.64L327.09 285.73L327.04 285.86L327.04 288.31L327.09 288.44L327.21 288.53L327.37 288.57L327.54 288.53L327.68 288.40L327.71 286.65L328.22 286.25L328.55 286.12L329.12 286.12L329.37 286.25L329.51 286.58L329.54 288.40L329.73 288.55L329.85 288.57L330.02 288.53L330.13 288.44L330.18 288.31L330.18 286.56L329.90 285.90L329.76 285.80L329.17 285.60L328.36 285.62L327.91 285.80L327.74 285.93L327.65 285.73L327.54 285.64L327.37 285.60ZM323.41 285.80L322.82 286.25L322.57 286.78L322.54 287.26L322.77 287.85L323.41 288.38L323.86 288.55L324.68 288.57L325.24 288.38L325.46 288.55L325.58 288.57L325.74 288.53L325.86 288.44L325.91 288.31L325.91 285.86L325.86 285.73L325.74 285.64L325.58 285.60L325.41 285.64L325.24 285.80L324.82 285.62L324.00 285.60ZM324.06 286.12L324.62 286.12L324.96 286.25L325.24 286.47L325.24 287.70L324.96 287.92L324.62 288.05L324.06 288.05L323.72 287.92L323.41 287.68L323.22 287.24L323.22 286.93L323.41 286.50L323.72 286.25ZM317.26 285.60L316.67 285.80L316.02 286.32L315.80 286.91L315.83 287.39L316.02 287.85L316.67 288.38L317.12 288.55L317.93 288.57L318.52 288.38L319.11 287.92L319.17 287.79L319.11 287.65L318.94 287.55L318.72 287.55L318.21 287.92L317.88 288.05L317.31 288.05L316.98 287.92L316.67 287.68L316.47 287.20L318.94 287.15L319.14 287.00L319.17 286.56L318.92 286.10L318.52 285.80L318.07 285.62ZM316.61 286.60L316.67 286.50L316.98 286.25L317.31 286.12L317.88 286.12L318.21 286.25L318.33 286.34L318.49 286.63L316.64 286.65ZM320.63 284.37L320.46 284.42L320.35 284.50L320.29 284.64L320.29 285.58L319.79 285.64L319.67 285.73L319.62 285.86L319.67 285.99L319.79 286.08L320.29 286.15L320.29 287.61L320.52 288.20L320.71 288.38L321.16 288.55L321.75 288.57L321.92 288.53L322.04 288.44L322.09 288.31L322.04 288.18L321.87 288.07L321.36 288.05L321.11 287.92L320.97 287.59L320.97 286.15L321.64 286.10L321.81 285.99L321.87 285.86L321.81 285.73L321.64 285.62L320.97 285.58L320.97 284.64L320.91 284.50L320.80 284.42ZM311.25 284.42L311.13 284.50L311.08 284.64L311.08 288.31L311.13 288.44L311.30 288.55L311.53 288.55L311.70 288.44L311.75 288.31L311.78 285.55L314.25 288.44L314.56 288.57L314.73 288.53L314.84 288.44L314.90 288.31L314.90 284.64L314.84 284.50L314.67 284.40L314.45 284.40L314.28 284.50L314.22 284.64L314.20 287.39L311.72 284.50L311.41 284.37ZM332.03 301.37L331.45 301.88L331.23 302.38L331.21 302.86L331.45 303.50L332.03 304.00L332.46 304.17L333.26 304.20L333.42 304.17L333.77 304.02L333.98 304.17L334.25 304.17L334.38 304.09L334.46 303.91L334.43 301.35L334.33 301.24L334.11 301.18L333.98 301.20L333.79 301.35L333.42 301.20L332.62 301.18L332.46 301.20ZM332.70 301.75L333.18 301.75L333.50 301.88L333.77 302.10L333.77 303.28L333.50 303.50L333.18 303.63L332.70 303.63L332.38 303.50L332.06 303.23L331.90 302.84L331.90 302.53L332.06 302.14L332.38 301.88ZM330.62 301.20L330.35 301.20L330.17 301.35L329.21 303.17L328.19 301.29L328.06 301.20L327.93 301.18L327.80 301.20L327.61 301.35L327.61 301.59L328.81 303.85L328.81 303.93L328.49 304.46L328.17 304.72L327.85 304.85L327.58 304.87L327.45 304.96L327.37 305.14L327.40 305.25L327.58 305.40L328.09 305.40L328.51 305.22L329.10 304.74L329.53 304.04L330.81 301.59L330.81 301.35ZM326.65 301.18L326.44 301.24L326.33 301.35L326.30 301.46L326.30 303.91L326.38 304.09L326.52 304.17L326.65 304.20L326.86 304.13L326.97 304.02L327.00 303.91L327.00 301.46L326.92 301.29L326.78 301.20ZM320.89 301.24L320.78 301.35L320.76 301.46L320.78 301.57L320.97 301.72L322.68 301.75L322.70 301.79L320.86 303.69L320.76 303.91L320.84 304.09L320.97 304.17L321.10 304.20L323.45 304.20L323.66 304.13L323.77 304.02L323.80 303.91L323.77 303.80L323.58 303.65L321.88 303.63L321.85 303.58L323.69 301.68L323.80 301.46L323.72 301.29L323.58 301.20L323.45 301.18L321.10 301.18ZM320.38 301.20L319.45 301.20L319.02 301.37L318.92 301.46L318.86 301.44L318.86 301.35L318.76 301.24L318.54 301.18L318.41 301.20L318.22 301.35L318.20 303.91L318.22 304.02L318.41 304.17L318.68 304.17L318.86 304.02L318.89 302.53L319.05 302.14L319.37 301.88L319.69 301.75L320.25 301.75L320.46 301.68L320.57 301.57L320.60 301.46L320.57 301.35ZM315.40 301.20L314.97 301.37L314.39 301.88L314.15 302.51L314.17 302.99L314.39 303.50L314.97 304.00L315.40 304.17L315.56 304.20L316.36 304.17L316.78 304.00L317.32 303.56L317.40 303.39L317.32 303.21L317.18 303.12L316.92 303.12L316.44 303.50L316.12 303.63L315.64 303.63L315.32 303.50L315.00 303.23L314.84 302.82L317.18 302.77L317.37 302.62L317.37 302.03L317.16 301.68L316.78 301.37L316.36 301.20L316.20 301.18ZM314.97 302.20L315.00 302.14L315.32 301.88L315.64 301.75L316.12 301.75L316.44 301.88L316.54 301.96L316.68 302.18L316.65 302.23ZM324.94 299.95L324.73 300.02L324.62 300.13L324.60 300.24L324.60 303.91L324.68 304.09L324.81 304.17L324.94 304.20L325.16 304.13L325.26 304.02L325.29 303.91L325.29 300.24L325.21 300.06L325.08 299.97ZM309.88 299.97L309.75 300.06L309.67 300.24L309.69 304.02L309.80 304.13L310.01 304.20L310.15 304.17L310.33 304.02L310.39 302.27L312.63 302.27L312.68 304.02L312.87 304.17L313.13 304.17L313.27 304.09L313.35 303.91L313.32 300.13L313.21 300.02L313.00 299.95L312.87 299.97L312.68 300.13L312.63 301.70L310.39 301.70L310.33 300.13L310.15 299.97ZM326.65 299.78L326.44 299.84L326.17 300.06L326.09 300.24L326.17 300.41L326.44 300.63L326.65 300.70L326.86 300.63L327.13 300.41L327.21 300.24L327.13 300.06L326.86 299.84ZM320.83 302.61L320.88 302.74L320.99 302.83L321.16 302.87L324.69 302.87L324.86 302.83L324.97 302.74L325.03 302.61L324.97 302.48L324.86 302.39L324.69 302.35L321.16 302.35L320.99 302.39L320.88 302.48ZM338.92 300.10L338.34 300.55L338.09 301.08L338.06 301.56L338.29 302.15L338.92 302.68L339.36 302.85L340.16 302.87L340.72 302.68L340.94 302.85L341.05 302.87L341.21 302.83L341.32 302.74L341.38 302.61L341.38 300.16L341.32 300.03L341.21 299.94L341.05 299.90L340.88 299.94L340.72 300.10L340.30 299.92L339.50 299.90ZM339.56 300.42L340.11 300.42L340.44 300.55L340.72 300.77L340.72 302.00L340.44 302.22L340.11 302.35L339.56 302.35L339.22 302.22L338.92 301.98L338.73 301.54L338.73 301.23L338.92 300.80L339.22 300.55ZM330.52 300.10L329.94 300.55L329.69 301.08L329.67 301.56L329.89 302.15L330.52 302.68L330.96 302.85L331.77 302.87L332.32 302.68L332.54 302.85L332.65 302.87L332.82 302.83L332.93 302.74L332.98 302.61L332.98 300.16L332.93 300.03L332.82 299.94L332.65 299.90L332.48 299.94L332.32 300.10L331.90 299.92L331.10 299.90ZM331.16 300.42L331.71 300.42L332.04 300.55L332.32 300.77L332.32 302.00L332.04 302.22L331.71 302.35L331.16 302.35L330.83 302.22L330.52 301.98L330.33 301.54L330.33 301.23L330.52 300.80L330.83 300.55ZM334.31 298.70L334.14 298.80L334.09 298.94L334.11 302.70L334.25 302.83L334.42 302.87L334.58 302.83L334.75 302.68L335.30 302.87L336.10 302.85L336.54 302.68L337.18 302.15L337.40 301.56L337.37 301.08L337.18 300.62L336.54 300.10L336.10 299.92L335.30 299.90L334.78 300.07L334.72 298.85L334.53 298.70ZM335.36 300.42L335.91 300.42L336.24 300.55L336.54 300.80L336.74 301.23L336.74 301.54L336.54 301.98L336.24 302.22L335.91 302.35L335.36 302.35L335.03 302.22L334.75 302.00L334.75 300.77L335.03 300.55ZM326.52 298.70L325.94 298.85L325.30 299.33L325.25 299.46L325.27 299.92L325.49 300.27L325.88 300.58L326.38 300.77L327.68 301.10L328.06 301.25L328.17 301.34L328.34 301.60L328.34 302.00L328.09 302.20L327.54 302.35L326.71 302.35L326.21 302.22L325.74 301.87L325.58 301.82L325.41 301.87L325.30 301.95L325.25 302.09L325.30 302.22L325.94 302.70L326.68 302.87L327.73 302.85L328.31 302.70L328.95 302.22L329.00 302.09L328.98 301.45L328.75 301.10L328.37 300.80L327.87 300.60L326.57 300.27L326.19 300.12L326.08 300.03L325.91 299.77L325.91 299.55L326.16 299.35L326.71 299.20L327.54 299.20L328.04 299.33L328.51 299.68L328.67 299.72L328.84 299.68L328.95 299.59L329.00 299.46L328.95 299.33L328.31 298.85L327.57 298.67ZM317.01 298.72L316.90 298.80L316.85 298.94L316.85 302.61L316.90 302.74L317.01 302.83L317.18 302.87L317.35 302.83L317.46 302.74L317.51 302.61L317.51 301.47L318.23 300.90L320.00 302.76L320.27 302.87L320.44 302.83L320.55 302.74L320.61 302.61L320.55 302.46L318.73 300.51L320.55 299.07L320.61 298.94L320.55 298.80L320.38 298.70L320.27 298.67L320.11 298.72L317.54 300.75L317.51 298.94L317.46 298.80L317.35 298.72L317.18 298.67ZM328.06 310.72L327.87 310.87L327.87 311.09L329.19 313.52L329.38 313.65L329.60 313.65L329.80 313.52L331.12 311.09L331.12 310.87L330.98 310.74L330.81 310.70L330.65 310.74L330.51 310.85L329.49 312.73L328.48 310.85L328.28 310.72ZM326.85 310.70L326.69 310.74L326.58 310.83L326.52 310.96L326.52 313.41L326.58 313.54L326.69 313.63L326.85 313.67L327.02 313.63L327.13 313.54L327.18 313.41L327.18 310.96L327.13 310.83L327.02 310.74ZM322.78 310.72L322.59 310.87L322.59 311.09L323.91 313.52L324.10 313.65L324.32 313.65L324.52 313.52L325.84 311.09L325.84 310.87L325.70 310.74L325.53 310.70L325.37 310.74L325.23 310.85L324.21 312.73L323.20 310.85L323.00 310.72ZM310.57 310.70L310.00 310.90L309.36 311.42L309.14 312.01L309.17 312.49L309.36 312.95L310.00 313.48L310.44 313.65L311.23 313.67L311.81 313.48L312.39 313.02L312.44 312.89L312.39 312.75L312.22 312.65L312.00 312.65L311.51 313.02L311.18 313.15L310.63 313.15L310.30 313.02L310.00 312.78L309.80 312.30L312.22 312.25L312.42 312.10L312.44 311.66L312.20 311.20L311.81 310.90L311.37 310.72ZM309.94 311.70L310.00 311.60L310.30 311.35L310.63 311.22L311.18 311.22L311.51 311.35L311.62 311.44L311.78 311.73L309.97 311.75ZM322.56 313.41L320.80 309.67L320.64 309.52L320.47 309.47L320.31 309.52L320.14 309.67L318.58 313.00L318.44 313.19L318.27 313.15L314.75 313.15L314.59 313.19L314.48 313.28L314.42 313.41L314.48 313.54L314.59 313.63L314.75 313.67L318.27 313.67L318.49 313.59L318.71 313.67L318.88 313.63L319.04 313.48L319.54 312.45L321.41 312.45L321.96 313.54L322.12 313.65L322.34 313.65L322.51 313.54ZM320.47 310.48L321.16 311.88L321.13 311.92L319.79 311.90ZM313.65 309.47L313.49 309.52L313.38 309.60L313.32 309.74L313.32 313.41L313.38 313.54L313.49 313.63L313.65 313.67L313.82 313.63L313.93 313.54L313.98 313.41L313.98 309.74L313.93 309.60L313.82 309.52ZM305.40 309.50L305.24 309.60L305.18 309.74L305.24 309.87L305.35 309.95L305.51 310.00L306.72 310.02L306.72 313.41L306.78 313.54L306.89 313.63L307.05 313.67L307.16 313.65L307.33 313.54L307.38 313.41L307.38 310.02L308.70 309.98L308.90 309.82L308.90 309.65L308.76 309.52L308.59 309.47ZM326.85 309.30L326.69 309.34L326.36 309.60L326.30 309.74L326.36 309.87L326.69 310.13L326.85 310.17L327.02 310.13L327.35 309.87L327.40 309.74L327.35 309.60L327.02 309.34ZM330.10 324.90L329.53 325.10L328.90 325.62L328.68 326.21L328.71 326.69L328.90 327.15L329.53 327.68L329.97 327.85L330.76 327.87L331.34 327.68L331.97 327.15L332.19 326.56L332.16 326.08L331.97 325.62L331.34 325.10L330.90 324.92ZM330.16 325.42L330.71 325.42L331.04 325.55L331.34 325.80L331.53 326.23L331.53 326.54L331.34 326.98L331.04 327.22L330.71 327.35L330.16 327.35L329.83 327.22L329.53 326.98L329.34 326.54L329.34 326.23L329.53 325.80L329.83 325.55ZM325.17 324.92L324.97 325.07L324.97 325.29L326.29 327.72L326.48 327.85L326.70 327.85L326.89 327.72L328.21 325.29L328.21 325.07L328.07 324.94L327.91 324.90L327.74 324.94L327.61 325.05L326.59 326.93L325.58 325.05L325.39 324.92ZM322.42 324.90L321.85 325.10L321.21 325.62L321.00 326.21L321.02 326.69L321.21 327.15L321.85 327.68L322.29 327.85L323.08 327.87L323.66 327.68L324.29 327.15L324.51 326.56L324.48 326.08L324.29 325.62L323.66 325.10L323.22 324.92ZM322.48 325.42L323.03 325.42L323.36 325.55L323.66 325.80L323.85 326.23L323.85 326.54L323.66 326.98L323.36 327.22L323.03 327.35L322.48 327.35L322.15 327.22L321.85 326.98L321.65 326.54L321.65 326.23L321.85 325.80L322.15 325.55ZM314.30 324.90L313.72 325.10L313.09 325.62L312.87 326.21L312.90 326.69L313.09 327.15L313.72 327.68L314.16 327.85L314.96 327.87L315.54 327.68L316.11 327.22L316.17 327.09L316.11 326.95L315.95 326.85L315.73 326.85L315.23 327.22L314.90 327.35L314.36 327.35L314.03 327.22L313.72 326.98L313.53 326.50L315.95 326.45L316.14 326.30L316.17 325.86L315.92 325.40L315.54 325.10L315.10 324.92ZM313.67 325.90L313.72 325.80L314.03 325.55L314.36 325.42L314.90 325.42L315.23 325.55L315.34 325.64L315.51 325.93L313.70 325.95ZM333.62 323.67L333.45 323.72L333.34 323.80L333.29 323.94L333.29 324.88L332.79 324.94L332.68 325.03L332.63 325.16L332.68 325.29L332.79 325.38L333.29 325.45L333.29 326.91L333.51 327.50L333.70 327.68L334.14 327.85L334.71 327.87L334.88 327.83L334.99 327.74L335.04 327.61L334.99 327.48L334.82 327.37L334.33 327.35L334.08 327.22L333.95 326.89L333.95 325.45L334.60 325.40L334.77 325.29L334.82 325.16L334.77 325.03L334.60 324.92L333.95 324.88L333.95 323.94L333.89 323.80L333.78 323.72ZM317.21 323.72L317.10 323.80L317.04 323.94L317.04 327.61L317.10 327.74L317.21 327.83L317.37 327.87L317.54 327.83L317.68 327.70L317.70 325.95L318.20 325.55L318.53 325.42L319.07 325.42L319.32 325.55L319.46 325.88L319.49 327.70L319.68 327.85L319.79 327.87L319.95 327.83L320.06 327.74L320.12 327.61L320.12 325.86L319.90 325.27L319.71 325.10L319.13 324.90L318.33 324.92L317.90 325.10L317.73 325.23L317.68 323.85L317.48 323.70L317.37 323.67ZM308.65 323.72L308.54 323.80L308.48 323.94L308.48 327.61L308.54 327.74L308.65 327.83L308.81 327.87L308.98 327.83L309.12 327.70L309.14 325.97L310.16 325.95L311.58 327.72L311.78 327.85L311.89 327.87L312.05 327.83L312.19 327.70L312.19 327.52L310.95 325.97L310.98 325.90L311.61 325.73L311.97 325.45L312.19 325.10L312.22 324.64L311.97 324.18L311.53 323.85L310.95 323.70L308.81 323.67ZM309.14 324.22L310.76 324.20L311.26 324.33L311.39 324.42L311.56 324.68L311.56 324.94L311.31 325.27L310.76 325.42L309.17 325.42ZM315.40 333.60L314.82 333.80L314.19 334.32L313.97 334.91L314.00 335.39L314.19 335.85L314.82 336.38L315.26 336.55L316.06 336.57L316.64 336.38L317.27 335.85L317.49 335.26L317.46 334.78L317.27 334.32L316.64 333.80L316.20 333.62ZM315.45 334.12L316.00 334.12L316.33 334.25L316.64 334.50L316.83 334.93L316.83 335.24L316.64 335.68L316.33 335.92L316.00 336.05L315.45 336.05L315.12 335.92L314.82 335.68L314.63 335.24L314.63 334.93L314.82 334.50L315.12 334.25ZM302.35 333.77L302.13 333.93L301.88 334.39L302.13 334.85L302.29 334.98L302.73 335.15L303.86 335.33L304.13 335.44L304.30 335.65L304.30 335.74L304.13 335.94L303.72 336.05L303.12 336.05L302.70 335.94L302.51 335.68L302.37 335.57L302.21 335.52L302.10 335.55L301.94 335.65L301.88 335.79L302.13 336.25L302.35 336.40L303.09 336.57L303.91 336.55L304.57 336.35L304.71 336.25L304.96 335.79L304.93 335.50L304.71 335.15L304.55 335.02L304.11 334.85L302.98 334.67L302.70 334.56L302.57 334.39L302.70 334.23L303.12 334.12L303.72 334.12L304.13 334.23L304.33 334.50L304.46 334.60L304.63 334.65L304.74 334.63L304.90 334.52L304.96 334.39L304.71 333.93L304.49 333.77L303.75 333.60L303.09 333.60ZM321.22 332.40L321.00 332.40L320.81 332.55L320.76 333.77L320.23 333.60L319.44 333.62L319.00 333.80L318.37 334.32L318.15 334.91L318.17 335.39L318.37 335.85L319.00 336.38L319.44 336.55L320.23 336.57L320.78 336.38L320.95 336.53L321.11 336.57L321.28 336.53L321.42 336.40L321.44 332.64L321.39 332.50ZM319.63 334.12L320.18 334.12L320.51 334.25L320.78 334.47L320.78 335.70L320.51 335.92L320.18 336.05L319.63 336.05L319.30 335.92L319.00 335.68L318.81 335.24L318.81 334.93L319.00 334.50L319.30 334.25ZM312.87 332.40L312.65 332.40L312.46 332.55L312.40 333.77L311.88 333.60L311.08 333.62L310.65 333.80L310.01 334.32L309.79 334.91L309.82 335.39L310.01 335.85L310.65 336.38L311.08 336.55L311.88 336.57L312.43 336.38L312.60 336.53L312.76 336.57L312.93 336.53L313.06 336.40L313.09 332.64L313.04 332.50ZM311.28 334.12L311.83 334.12L312.16 334.25L312.43 334.47L312.43 335.70L312.16 335.92L311.83 336.05L311.28 336.05L310.95 335.92L310.65 335.68L310.45 335.24L310.45 334.93L310.65 334.50L310.95 334.25ZM306.00 332.42L305.89 332.50L305.84 332.64L305.84 336.31L305.89 336.44L306.00 336.53L306.17 336.57L306.33 336.53L306.47 336.40L306.50 334.65L306.99 334.25L307.32 334.12L307.87 334.12L308.12 334.25L308.25 334.58L308.28 336.40L308.47 336.55L308.58 336.57L308.75 336.53L308.86 336.44L308.91 336.31L308.91 334.56L308.69 333.97L308.50 333.80L307.93 333.60L307.13 333.62L306.69 333.80L306.52 333.93L306.47 332.55L306.28 332.40L306.17 332.37ZM299.68 332.40L299.46 332.40L299.24 332.57L297.57 336.07L297.48 336.31L297.54 336.44L297.70 336.55L297.92 336.55L298.14 336.38L298.64 335.35L300.51 335.35L301.06 336.44L301.17 336.53L301.33 336.57L301.50 336.53L301.63 336.40L301.66 336.31L301.58 336.07L299.90 332.57ZM299.57 333.38L300.26 334.78L300.23 334.82L298.89 334.80ZM314.64 344.74L314.53 344.83L314.47 344.96L314.47 347.41L314.53 347.54L314.64 347.63L314.80 347.67L314.97 347.63L315.10 347.50L315.13 345.75L315.62 345.35L315.95 345.22L316.50 345.22L316.75 345.35L316.88 345.68L316.91 347.50L317.10 347.65L317.21 347.67L317.38 347.63L317.49 347.54L317.54 347.41L317.54 345.66L317.27 345.00L317.13 344.90L316.56 344.70L315.76 344.72L315.32 344.90L315.16 345.03L315.08 344.83L314.97 344.74L314.80 344.70ZM311.51 344.70L310.94 344.90L310.31 345.42L310.09 346.01L310.12 346.49L310.31 346.95L310.94 347.48L311.38 347.65L312.17 347.67L312.75 347.48L313.38 346.95L313.60 346.36L313.57 345.88L313.38 345.42L312.75 344.90L312.31 344.72ZM311.57 345.22L312.12 345.22L312.45 345.35L312.75 345.60L312.94 346.03L312.94 346.34L312.75 346.78L312.45 347.02L312.12 347.15L311.57 347.15L311.24 347.02L310.94 346.78L310.75 346.34L310.75 346.03L310.94 345.60L311.24 345.35ZM305.81 344.70L305.24 344.90L304.61 345.42L304.39 346.01L304.42 346.49L304.61 346.95L305.24 347.48L305.68 347.65L306.47 347.67L307.05 347.48L307.62 347.02L307.68 346.89L307.62 346.75L307.46 346.65L307.24 346.65L306.75 347.02L306.42 347.15L305.87 347.15L305.54 347.02L305.24 346.78L305.05 346.30L307.46 346.25L307.65 346.10L307.68 345.66L307.43 345.20L307.05 344.90L306.61 344.72ZM305.18 345.70L305.24 345.60L305.54 345.35L305.87 345.22L306.42 345.22L306.75 345.35L306.86 345.44L307.02 345.73L305.21 345.75ZM293.24 344.87L293.02 345.03L292.77 345.49L293.02 345.95L293.18 346.08L293.62 346.25L294.74 346.43L295.02 346.54L295.18 346.75L295.18 346.84L295.02 347.04L294.61 347.15L294.00 347.15L293.59 347.04L293.40 346.78L293.26 346.67L293.10 346.62L292.99 346.65L292.82 346.75L292.77 346.89L293.02 347.35L293.24 347.50L293.98 347.67L294.80 347.65L295.46 347.45L295.59 347.35L295.84 346.89L295.81 346.60L295.59 346.25L295.43 346.12L294.99 345.95L293.87 345.77L293.59 345.66L293.45 345.49L293.59 345.33L294.00 345.22L294.61 345.22L295.02 345.33L295.21 345.60L295.35 345.70L295.51 345.75L295.62 345.73L295.78 345.62L295.84 345.49L295.59 345.03L295.37 344.87L294.63 344.70L293.98 344.70ZM308.88 343.47L308.72 343.52L308.61 343.60L308.55 343.74L308.55 347.41L308.61 347.54L308.72 347.63L308.88 347.67L309.05 347.63L309.16 347.54L309.21 347.41L309.21 343.74L309.16 343.60L309.05 343.52ZM301.05 343.52L300.94 343.60L300.88 343.74L300.88 347.41L300.94 347.54L301.05 347.63L301.21 347.67L301.37 347.63L301.48 347.54L301.54 347.41L301.54 346.80L302.06 346.38L303.37 347.59L303.62 347.67L303.79 347.63L303.90 347.54L303.95 347.41L303.87 347.24L302.53 346.01L303.68 345.09L303.73 344.96L303.68 344.83L303.51 344.72L303.40 344.70L303.24 344.74L301.57 346.08L301.54 343.74L301.48 343.60L301.37 343.52L301.21 343.47ZM296.88 343.52L296.77 343.60L296.72 343.74L296.72 347.41L296.77 347.54L296.88 347.63L297.04 347.67L297.21 347.63L297.35 347.50L297.37 345.75L297.87 345.35L298.20 345.22L298.74 345.22L298.99 345.35L299.13 345.68L299.15 347.50L299.35 347.65L299.46 347.67L299.62 347.63L299.73 347.54L299.78 347.41L299.78 345.66L299.57 345.07L299.37 344.90L298.80 344.70L298.00 344.72L297.57 344.90L297.40 345.03L297.35 343.65L297.15 343.50L297.04 343.47ZM290.58 343.50L290.36 343.50L290.14 343.67L288.47 347.17L288.38 347.41L288.44 347.54L288.60 347.65L288.82 347.65L289.04 347.48L289.54 346.45L291.40 346.45L291.95 347.54L292.06 347.63L292.22 347.67L292.39 347.63L292.52 347.50L292.55 347.41L292.47 347.17L290.80 343.67ZM290.47 344.48L291.15 345.88L291.13 345.92L289.78 345.90ZM312.26 353.91L312.32 354.04L312.43 354.13L312.60 354.17L316.18 354.17L316.35 354.13L316.46 354.04L316.52 353.91L316.46 353.78L316.35 353.69L316.18 353.65L312.60 353.65L312.43 353.69L312.32 353.78ZM322.32 351.40L321.73 351.85L321.48 352.38L321.45 352.86L321.67 353.45L322.32 353.98L322.77 354.15L323.58 354.17L324.14 353.98L324.36 354.15L324.48 354.17L324.64 354.13L324.76 354.04L324.81 353.91L324.81 351.46L324.76 351.33L324.64 351.24L324.48 351.20L324.31 351.24L324.14 351.40L323.72 351.22L322.91 351.20ZM322.96 351.72L323.52 351.72L323.86 351.85L324.14 352.07L324.14 353.30L323.86 353.52L323.52 353.65L322.96 353.65L322.63 353.52L322.32 353.28L322.12 352.84L322.12 352.53L322.32 352.10L322.63 351.85ZM326.49 349.97L326.33 350.02L326.21 350.10L326.16 350.24L326.16 351.18L325.65 351.24L325.54 351.33L325.48 351.46L325.54 351.59L325.65 351.68L326.16 351.75L326.16 353.21L326.38 353.80L326.58 353.98L327.03 354.15L327.61 354.17L327.78 354.13L327.89 354.04L327.95 353.91L327.89 353.78L327.73 353.67L327.22 353.65L326.97 353.52L326.83 353.19L326.83 351.75L327.50 351.70L327.67 351.59L327.73 351.46L327.67 351.33L327.50 351.22L326.83 351.18L326.83 350.24L326.77 350.10L326.66 350.02ZM318.42 349.97L317.84 350.17L317.22 350.65L316.97 351.05L316.77 351.50L316.74 352.51L316.97 353.10L317.22 353.50L317.84 353.98L318.42 354.17L319.32 354.17L319.91 353.98L320.53 353.50L320.78 353.04L320.75 352.42L320.61 352.29L320.44 352.25L319.32 352.25L319.15 352.29L319.04 352.38L318.98 352.51L319.04 352.64L319.15 352.73L319.32 352.77L320.08 352.77L320.11 352.99L319.94 353.25L319.60 353.52L319.26 353.65L318.48 353.65L318.14 353.52L317.81 353.25L317.61 352.95L317.42 352.49L317.42 351.66L317.61 351.20L317.81 350.89L318.14 350.63L318.48 350.50L319.26 350.50L319.60 350.63L319.94 350.89L320.13 351.22L320.33 351.35L320.44 351.37L320.61 351.33L320.72 351.24L320.78 351.11L320.53 350.65L319.91 350.17L319.32 349.97ZM309.32 350.00L308.87 350.17L308.25 350.65L308.00 351.05L307.81 351.50L307.78 352.51L308.00 353.10L308.25 353.50L308.87 353.98L309.46 354.17L310.36 354.17L310.75 354.04L311.31 354.48L311.48 354.52L311.59 354.50L311.78 354.35L311.78 354.17L311.25 353.74L311.56 353.50L311.81 353.10L312.04 352.51L312.04 351.64L311.81 351.05L311.56 350.65L310.94 350.17L310.36 349.97ZM309.51 350.50L310.30 350.50L310.64 350.63L310.97 350.89L311.17 351.20L311.36 351.66L311.36 352.49L311.17 352.95L310.97 353.25L310.80 353.39L310.30 352.99L310.13 352.95L309.96 352.99L309.82 353.12L309.80 353.21L309.85 353.34L310.22 353.63L310.19 353.65L309.51 353.65L309.18 353.52L308.84 353.25L308.65 352.95L308.45 352.49L308.45 351.66L308.65 351.20L308.84 350.89L309.18 350.63ZM362.67 336.03L362.61 336.16L362.61 338.61L362.67 338.74L362.77 338.83L362.94 338.87L363.10 338.83L363.21 338.74L363.26 338.61L363.26 336.95L363.75 336.55L364.08 336.42L364.62 336.42L364.86 336.55L365.00 336.88L365.00 338.61L365.05 338.74L365.16 338.83L365.33 338.87L365.49 338.83L365.60 338.74L365.65 338.61L365.65 336.95L366.14 336.55L366.47 336.42L367.01 336.42L367.25 336.55L367.39 336.88L367.42 338.70L367.55 338.83L367.71 338.87L367.88 338.83L367.98 338.74L368.04 338.61L368.04 336.86L367.82 336.27L367.63 336.10L367.20 335.92L366.41 335.90L365.84 336.10L365.49 336.38L365.38 336.20L365.24 336.10L364.67 335.90L363.89 335.92L363.45 336.10L363.29 336.23L363.21 336.03L363.05 335.92L362.83 335.92ZM359.90 335.90L359.33 336.10L358.70 336.62L358.49 337.21L358.51 337.69L358.70 338.15L359.33 338.68L359.76 338.85L360.55 338.87L361.12 338.68L361.69 338.22L361.74 338.09L361.69 337.95L361.53 337.85L361.31 337.85L360.82 338.22L360.49 338.35L359.95 338.35L359.63 338.22L359.33 337.98L359.14 337.50L361.53 337.45L361.72 337.30L361.74 336.86L361.50 336.40L361.12 336.10L360.68 335.92ZM359.27 336.90L359.33 336.80L359.63 336.55L359.95 336.42L360.49 336.42L360.82 336.55L360.93 336.64L361.09 336.93L359.30 336.95ZM353.47 336.10L352.90 336.55L352.65 337.08L352.62 337.56L352.84 338.15L353.47 338.68L353.90 338.85L354.69 338.87L355.23 338.68L355.45 338.85L355.56 338.87L355.72 338.83L355.83 338.74L355.88 338.61L355.88 336.16L355.83 336.03L355.72 335.94L355.56 335.90L355.39 335.94L355.23 336.10L354.82 335.92L354.04 335.90ZM354.09 336.42L354.63 336.42L354.96 336.55L355.23 336.77L355.23 338.00L354.96 338.22L354.63 338.35L354.09 338.35L353.76 338.22L353.47 337.98L353.28 337.54L353.28 337.23L353.47 336.80L353.76 336.55ZM349.40 336.07L349.18 336.23L348.93 336.69L349.18 337.15L349.34 337.28L349.78 337.45L350.89 337.63L351.16 337.74L351.32 337.95L351.32 338.04L351.16 338.24L350.75 338.35L350.16 338.35L349.75 338.24L349.56 337.98L349.42 337.87L349.26 337.82L349.15 337.85L348.99 337.95L348.93 338.09L349.18 338.55L349.40 338.70L350.13 338.87L350.94 338.85L351.59 338.65L351.73 338.55L351.97 338.09L351.95 337.80L351.73 337.45L351.57 337.32L351.13 337.15L350.02 336.97L349.75 336.86L349.61 336.69L349.75 336.53L350.16 336.42L350.75 336.42L351.16 336.53L351.35 336.80L351.48 336.90L351.65 336.95L351.76 336.93L351.92 336.82L351.97 336.69L351.73 336.23L351.51 336.07L350.78 335.90L350.13 335.90ZM345.19 335.94L345.08 336.03L345.03 336.16L345.03 337.91L345.30 338.57L345.43 338.68L346.00 338.87L346.79 338.85L347.22 338.68L347.39 338.55L347.47 338.74L347.58 338.83L347.74 338.87L347.90 338.83L348.01 338.74L348.07 338.61L348.07 336.16L348.01 336.03L347.90 335.94L347.74 335.90L347.58 335.94L347.44 336.07L347.41 337.82L346.93 338.22L346.60 338.35L346.06 338.35L345.81 338.22L345.68 337.89L345.65 336.07L345.46 335.92L345.35 335.90ZM344.43 335.94L344.27 335.90L343.48 335.92L343.04 336.10L342.88 336.23L342.80 336.03L342.64 335.92L342.42 335.92L342.26 336.03L342.20 336.16L342.20 338.61L342.26 338.74L342.37 338.83L342.53 338.87L342.64 338.85L342.83 338.70L342.86 337.23L343.04 336.80L343.34 336.55L343.67 336.42L344.27 336.42L344.43 336.38L344.54 336.29L344.59 336.16L344.54 336.03ZM339.49 335.90L338.92 336.10L338.30 336.62L338.08 337.21L338.11 337.69L338.30 338.15L338.92 338.68L339.35 338.85L340.14 338.87L340.71 338.68L341.28 338.22L341.34 338.09L341.28 337.95L341.12 337.85L340.90 337.85L340.41 338.22L340.09 338.35L339.54 338.35L339.22 338.22L338.92 337.98L338.73 337.50L341.12 337.45L341.31 337.30L341.34 336.86L341.09 336.40L340.71 336.10L340.28 335.92ZM338.87 336.90L338.92 336.80L339.22 336.55L339.54 336.42L340.09 336.42L340.41 336.55L340.52 336.64L340.68 336.93L338.89 336.95ZM357.29 334.67L357.13 334.72L357.02 334.80L356.97 334.94L356.97 338.61L357.02 338.74L357.13 338.83L357.29 338.87L357.46 338.83L357.56 338.74L357.62 338.61L357.62 334.94L357.56 334.80L357.46 334.72ZM336.99 334.70L336.88 334.67L336.72 334.72L336.61 334.80L336.56 334.94L336.56 337.71L336.37 338.15L335.96 338.35L335.64 338.35L335.31 338.22L335.20 338.11L335.04 337.71L335.04 337.39L334.98 337.25L334.88 337.17L334.71 337.12L334.55 337.17L334.42 337.30L334.39 337.74L334.61 338.33L335.01 338.68L335.45 338.85L336.02 338.87L336.59 338.68L336.99 338.33L337.18 337.87L337.21 334.94L337.16 334.80ZM314.39 385.81L314.45 385.94L314.56 386.03L314.73 386.07L318.34 386.07L318.51 386.03L318.62 385.94L318.68 385.81L318.62 385.68L318.51 385.59L318.34 385.55L314.73 385.55L314.56 385.59L314.45 385.68ZM336.24 383.30L335.65 383.75L335.40 384.28L335.37 384.76L335.59 385.35L336.24 385.88L336.69 386.05L337.51 386.07L338.08 385.88L338.30 386.05L338.41 386.07L338.58 386.03L338.70 385.94L338.75 385.81L338.75 383.36L338.70 383.23L338.58 383.14L338.41 383.10L338.24 383.14L338.08 383.30L337.65 383.12L336.84 383.10ZM336.89 383.62L337.46 383.62L337.79 383.75L338.08 383.97L338.08 385.20L337.79 385.42L337.46 385.55L336.89 385.55L336.55 385.42L336.24 385.18L336.05 384.74L336.05 384.43L336.24 384.00L336.55 383.75ZM331.76 383.12L331.56 383.27L331.56 383.49L332.92 385.92L333.11 386.05L333.34 386.05L333.54 385.92L334.89 383.49L334.89 383.27L334.75 383.14L334.58 383.10L334.41 383.14L334.27 383.25L333.23 385.13L332.18 383.25L331.99 383.12ZM329.17 383.10L328.57 383.30L327.92 383.82L327.70 384.41L327.73 384.89L327.92 385.35L328.57 385.88L329.02 386.05L329.84 386.07L330.43 385.88L331.03 385.42L331.08 385.29L331.03 385.15L330.86 385.05L330.63 385.05L330.12 385.42L329.79 385.55L329.22 385.55L328.88 385.42L328.57 385.18L328.38 384.70L330.86 384.65L331.05 384.50L331.08 384.06L330.83 383.60L330.43 383.30L329.98 383.12ZM328.52 384.10L328.57 384.00L328.88 383.75L329.22 383.62L329.79 383.62L330.12 383.75L330.24 383.84L330.41 384.13L328.54 384.15ZM314.45 383.14L314.28 383.10L313.46 383.12L313.01 383.30L312.84 383.43L312.75 383.23L312.59 383.12L312.36 383.12L312.19 383.23L312.13 383.36L312.13 385.81L312.19 385.94L312.30 386.03L312.47 386.07L312.59 386.05L312.78 385.90L312.81 384.43L313.01 384.00L313.32 383.75L313.66 383.62L314.28 383.62L314.45 383.58L314.56 383.49L314.62 383.36L314.56 383.23ZM309.31 383.10L308.72 383.30L308.07 383.82L307.85 384.41L307.88 384.89L308.07 385.35L308.72 385.88L309.17 386.05L309.99 386.07L310.58 385.88L311.18 385.42L311.23 385.29L311.18 385.15L311.01 385.05L310.78 385.05L310.27 385.42L309.93 385.55L309.37 385.55L309.03 385.42L308.72 385.18L308.52 384.70L311.01 384.65L311.20 384.50L311.23 384.06L310.98 383.60L310.58 383.30L310.13 383.12ZM308.67 384.10L308.72 384.00L309.03 383.75L309.37 383.62L309.93 383.62L310.27 383.75L310.39 383.84L310.55 384.13L308.69 384.15ZM305.25 383.10L304.66 383.30L304.01 383.82L303.79 384.41L303.82 384.89L304.01 385.35L304.66 385.88L305.11 386.05L305.93 386.07L306.52 385.88L307.11 385.42L307.17 385.29L307.11 385.15L306.95 385.05L306.72 385.05L306.21 385.42L305.87 385.55L305.31 385.55L304.97 385.42L304.66 385.18L304.46 384.70L306.95 384.65L307.14 384.50L307.17 384.06L306.92 383.60L306.52 383.30L306.07 383.12ZM304.61 384.10L304.66 384.00L304.97 383.75L305.31 383.62L305.87 383.62L306.21 383.75L306.33 383.84L306.49 384.13L304.63 384.15ZM323.81 381.92L323.69 382.00L323.64 382.14L323.64 385.81L323.69 385.94L323.81 386.03L323.98 386.07L324.15 386.03L324.29 385.90L324.32 384.15L324.82 383.75L325.16 383.62L325.73 383.62L325.98 383.75L326.12 384.08L326.15 385.90L326.35 386.05L326.46 386.07L326.63 386.03L326.74 385.94L326.80 385.81L326.80 384.06L326.57 383.47L326.37 383.30L325.78 383.10L324.96 383.12L324.51 383.30L324.34 383.43L324.29 382.05L324.09 381.90L323.98 381.87ZM320.20 381.90L319.61 382.05L318.96 382.53L318.90 382.66L318.93 383.12L319.16 383.47L319.55 383.78L320.06 383.97L321.38 384.30L321.78 384.45L321.89 384.54L322.06 384.80L322.06 385.20L321.81 385.40L321.24 385.55L320.40 385.55L319.89 385.42L319.41 385.07L319.24 385.02L319.07 385.07L318.96 385.15L318.90 385.29L318.96 385.42L319.61 385.90L320.37 386.07L321.44 386.05L322.03 385.90L322.68 385.42L322.74 385.29L322.71 384.65L322.48 384.30L322.09 384.00L321.58 383.80L320.25 383.47L319.86 383.32L319.75 383.23L319.58 382.97L319.58 382.75L319.83 382.55L320.40 382.40L321.24 382.40L321.75 382.53L322.23 382.88L322.40 382.92L322.57 382.88L322.68 382.79L322.74 382.66L322.68 382.53L322.03 382.05L321.27 381.87ZM299.44 381.92L299.33 382.00L299.28 382.14L299.28 385.81L299.33 385.94L299.44 386.03L299.61 386.07L301.64 386.07L302.41 385.90L302.86 385.57L303.11 385.11L303.08 384.48L302.86 384.13L302.55 383.89L302.86 383.65L303.11 383.19L303.08 382.73L302.86 382.38L302.41 382.05L301.81 381.90L299.61 381.87ZM299.95 384.17L301.62 384.15L302.18 384.30L302.43 384.63L302.43 385.07L302.26 385.33L302.12 385.42L301.62 385.55L299.98 385.55ZM299.95 382.42L301.62 382.40L302.12 382.53L302.26 382.62L302.43 382.88L302.43 383.14L302.18 383.47L301.62 383.62L299.98 383.62ZM352.41 382.60L351.83 383.05L351.58 383.58L351.55 384.06L351.77 384.65L352.41 385.18L352.85 385.35L353.65 385.37L354.20 385.18L354.42 385.35L354.53 385.37L354.69 385.33L354.80 385.24L354.86 385.11L354.86 382.66L354.80 382.53L354.69 382.44L354.53 382.40L354.36 382.44L354.20 382.60L353.78 382.42L352.99 382.40ZM353.04 382.92L353.59 382.92L353.92 383.05L354.20 383.27L354.20 384.50L353.92 384.72L353.59 384.85L353.04 384.85L352.71 384.72L352.41 384.48L352.21 384.04L352.21 383.73L352.41 383.30L352.71 383.05ZM351.17 382.44L351.00 382.40L350.20 382.42L349.76 382.60L349.60 382.73L349.52 382.53L349.35 382.42L349.13 382.42L348.96 382.53L348.91 382.66L348.91 385.11L348.96 385.24L349.08 385.33L349.24 385.37L349.35 385.35L349.54 385.20L349.57 383.73L349.76 383.30L350.07 383.05L350.40 382.92L351.00 382.92L351.17 382.88L351.28 382.79L351.33 382.66L351.28 382.53ZM358.82 381.20L358.60 381.20L358.41 381.35L358.36 382.57L357.83 382.40L357.03 382.42L356.59 382.60L355.96 383.12L355.74 383.71L355.77 384.19L355.96 384.65L356.59 385.18L357.03 385.35L357.83 385.37L358.38 385.18L358.55 385.33L358.71 385.37L358.88 385.33L359.02 385.20L359.04 381.44L358.99 381.30ZM357.23 382.92L357.78 382.92L358.11 383.05L358.38 383.27L358.38 384.50L358.11 384.72L357.78 384.85L357.23 384.85L356.90 384.72L356.59 384.48L356.40 384.04L356.40 383.73L356.59 383.30L356.90 383.05ZM346.49 381.20L346.27 381.20L346.05 381.37L344.37 384.87L344.28 385.11L344.34 385.24L344.50 385.35L344.72 385.35L344.94 385.18L345.44 384.15L347.31 384.15L347.86 385.24L347.97 385.33L348.14 385.37L348.30 385.33L348.44 385.20L348.47 385.11L348.39 384.87L346.71 381.37ZM346.38 382.18L347.06 383.58L347.04 383.62L345.69 383.60ZM347.56 399.50L346.97 399.95L346.72 400.48L346.69 400.96L346.91 401.55L347.56 402.08L348.01 402.25L348.82 402.27L349.38 402.08L349.60 402.25L349.71 402.27L349.88 402.23L349.99 402.14L350.05 402.01L350.05 399.56L349.99 399.43L349.88 399.34L349.71 399.30L349.55 399.34L349.38 399.50L348.96 399.32L348.15 399.30ZM348.20 399.82L348.76 399.82L349.10 399.95L349.38 400.17L349.38 401.40L349.10 401.62L348.76 401.75L348.20 401.75L347.87 401.62L347.56 401.38L347.36 400.94L347.36 400.63L347.56 400.20L347.87 399.95ZM342.82 399.34L342.71 399.43L342.66 399.56L342.66 402.01L342.71 402.14L342.82 402.23L342.99 402.27L343.16 402.23L343.30 402.10L343.33 400.35L343.83 399.95L344.17 399.82L344.73 399.82L344.98 399.95L345.12 400.28L345.15 402.10L345.34 402.25L345.46 402.27L345.62 402.23L345.74 402.14L345.79 402.01L345.79 400.26L345.51 399.60L345.37 399.50L344.78 399.30L343.97 399.32L343.52 399.50L343.36 399.63L343.27 399.43L343.16 399.34L342.99 399.30ZM339.63 399.30L339.04 399.50L338.40 400.02L338.17 400.61L338.20 401.09L338.40 401.55L339.04 402.08L339.49 402.25L340.30 402.27L340.89 402.08L341.54 401.55L341.76 400.96L341.73 400.48L341.54 400.02L340.89 399.50L340.44 399.32ZM339.69 399.82L340.25 399.82L340.58 399.95L340.89 400.20L341.09 400.63L341.09 400.94L340.89 401.38L340.58 401.62L340.25 401.75L339.69 401.75L339.35 401.62L339.04 401.38L338.85 400.94L338.85 400.63L339.04 400.20L339.35 399.95ZM331.73 399.43L331.68 399.56L331.68 402.01L331.73 402.14L331.84 402.23L332.01 402.27L332.18 402.23L332.29 402.14L332.35 402.01L332.35 400.35L332.85 399.95L333.19 399.82L333.75 399.82L334.00 399.95L334.14 400.28L334.14 402.01L334.20 402.14L334.31 402.23L334.48 402.27L334.65 402.23L334.76 402.14L334.81 402.01L334.81 400.35L335.32 399.95L335.65 399.82L336.21 399.82L336.47 399.95L336.61 400.28L336.63 402.10L336.77 402.23L336.94 402.27L337.11 402.23L337.22 402.14L337.28 402.01L337.28 400.26L337.05 399.67L336.86 399.50L336.41 399.32L335.60 399.30L335.01 399.50L334.65 399.78L334.53 399.60L334.39 399.50L333.80 399.30L332.99 399.32L332.54 399.50L332.38 399.63L332.29 399.43L332.12 399.32L331.90 399.32ZM330.22 399.30L330.05 399.34L329.94 399.43L329.88 399.56L329.88 402.01L329.94 402.14L330.05 402.23L330.22 402.27L330.39 402.23L330.50 402.14L330.56 402.01L330.56 399.56L330.50 399.43L330.39 399.34ZM325.40 398.10L325.23 398.20L325.18 398.34L325.21 402.10L325.35 402.23L325.51 402.27L327.08 402.27L327.84 402.10L328.51 401.60L328.76 401.20L328.96 400.74L328.99 399.74L328.76 399.15L328.51 398.75L327.84 398.25L327.08 398.07ZM325.88 398.60L327.05 398.60L327.56 398.73L327.92 398.99L328.12 399.30L328.31 399.76L328.31 400.59L328.12 401.05L327.92 401.35L327.56 401.62L327.05 401.75L325.85 401.73ZM330.22 397.90L330.05 397.94L329.72 398.20L329.66 398.34L329.72 398.47L330.05 398.73L330.22 398.77L330.39 398.73L330.72 398.47L330.78 398.34L330.72 398.20L330.39 397.94ZM308.95 442.11L309.01 442.24L309.12 442.33L309.29 442.37L312.93 442.37L313.10 442.33L313.21 442.24L313.27 442.11L313.21 441.98L313.10 441.89L312.93 441.85L309.29 441.85L309.12 441.89L309.01 441.98ZM334.14 439.44L334.03 439.53L333.97 439.66L333.97 442.11L334.03 442.24L334.14 442.33L334.31 442.37L334.48 442.33L334.62 442.20L334.65 440.45L335.17 440.05L335.51 439.92L336.07 439.92L336.33 440.05L336.47 440.38L336.50 442.20L336.70 442.35L336.81 442.37L336.98 442.33L337.10 442.24L337.16 442.11L337.16 440.36L336.87 439.70L336.73 439.60L336.13 439.40L335.31 439.42L334.85 439.60L334.68 439.73L334.60 439.53L334.48 439.44L334.31 439.40ZM330.90 439.40L330.30 439.60L329.65 440.12L329.42 440.71L329.45 441.19L329.65 441.65L330.30 442.18L330.76 442.35L331.58 442.37L332.18 442.18L332.83 441.65L333.06 441.06L333.03 440.58L332.83 440.12L332.18 439.60L331.72 439.42ZM330.96 439.92L331.53 439.92L331.87 440.05L332.18 440.30L332.38 440.73L332.38 441.04L332.18 441.48L331.87 441.72L331.53 441.85L330.96 441.85L330.62 441.72L330.30 441.48L330.10 441.04L330.10 440.73L330.30 440.30L330.62 440.05ZM322.88 439.53L322.83 439.66L322.83 442.11L322.88 442.24L323.00 442.33L323.17 442.37L323.34 442.33L323.45 442.24L323.51 442.11L323.51 440.45L324.02 440.05L324.36 439.92L324.93 439.92L325.19 440.05L325.33 440.38L325.33 442.11L325.38 442.24L325.50 442.33L325.67 442.37L325.84 442.33L325.95 442.24L326.01 442.11L326.01 440.45L326.52 440.05L326.86 439.92L327.43 439.92L327.69 440.05L327.83 440.38L327.86 442.20L328.00 442.33L328.17 442.37L328.34 442.33L328.45 442.24L328.51 442.11L328.51 440.36L328.28 439.77L328.09 439.60L327.63 439.42L326.81 439.40L326.21 439.60L325.84 439.88L325.73 439.70L325.58 439.60L324.99 439.40L324.16 439.42L323.71 439.60L323.54 439.73L323.45 439.53L323.28 439.42L323.05 439.42ZM319.16 439.60L318.56 440.05L318.30 440.58L318.28 441.06L318.50 441.65L319.16 442.18L319.61 442.35L320.44 442.37L321.01 442.18L321.23 442.35L321.35 442.37L321.52 442.33L321.63 442.24L321.69 442.11L321.69 439.66L321.63 439.53L321.52 439.44L321.35 439.40L321.18 439.44L321.01 439.60L320.58 439.42L319.75 439.40ZM319.81 439.92L320.38 439.92L320.72 440.05L321.01 440.27L321.01 441.50L320.72 441.72L320.38 441.85L319.81 441.85L319.47 441.72L319.16 441.48L318.96 441.04L318.96 440.73L319.16 440.30L319.47 440.05ZM313.90 438.22L313.78 438.30L313.73 438.44L313.73 442.11L313.78 442.24L313.90 442.33L314.07 442.37L314.24 442.33L314.38 442.20L314.41 440.47L315.46 440.45L316.94 442.22L317.14 442.35L317.25 442.37L317.42 442.33L317.57 442.20L317.57 442.02L316.29 440.47L316.31 440.40L316.97 440.23L317.34 439.95L317.57 439.60L317.59 439.14L317.34 438.68L316.88 438.35L316.29 438.20L314.07 438.17ZM314.41 438.72L316.09 438.70L316.60 438.83L316.74 438.92L316.91 439.18L316.91 439.44L316.66 439.77L316.09 439.92L314.44 439.92ZM304.34 438.22L304.23 438.30L304.17 438.44L304.17 442.11L304.23 442.24L304.40 442.35L304.63 442.35L304.80 442.24L304.86 442.11L304.88 439.92L305.99 442.18L306.16 442.33L306.33 442.37L306.50 442.33L306.68 442.18L307.78 439.92L307.81 442.11L307.87 442.24L307.98 442.33L308.15 442.37L308.32 442.33L308.44 442.24L308.49 442.11L308.49 438.44L308.44 438.30L308.32 438.22L308.15 438.17L307.98 438.22L307.81 438.37L306.33 441.37L304.86 438.37L304.63 438.20L304.51 438.17ZM333.56 535.30L332.95 535.75L332.68 536.28L332.65 536.76L332.89 537.35L333.56 537.88L334.03 538.05L334.88 538.07L335.47 537.88L335.71 538.05L335.82 538.07L336.00 538.03L336.12 537.94L336.18 537.81L336.18 535.36L336.12 535.23L336.00 535.14L335.82 535.10L335.65 535.14L335.47 535.30L335.03 535.12L334.18 535.10ZM334.24 535.62L334.83 535.62L335.18 535.75L335.47 535.97L335.47 537.20L335.18 537.42L334.83 537.55L334.24 537.55L333.89 537.42L333.56 537.18L333.36 536.74L333.36 536.43L333.56 536.00L333.89 535.75ZM329.48 535.10L329.30 535.14L329.19 535.23L329.13 535.36L329.13 537.81L329.19 537.94L329.30 538.03L329.48 538.07L329.66 538.03L329.77 537.94L329.83 537.81L329.83 535.36L329.77 535.23L329.66 535.14ZM337.94 533.87L337.76 533.92L337.65 534.00L337.59 534.14L337.59 535.08L337.06 535.14L336.94 535.23L336.88 535.36L336.94 535.49L337.06 535.58L337.59 535.65L337.59 537.11L337.82 537.70L338.03 537.88L338.50 538.05L339.11 538.07L339.29 538.03L339.41 537.94L339.47 537.81L339.41 537.68L339.23 537.57L338.70 537.55L338.44 537.42L338.29 537.09L338.29 535.65L339.00 535.60L339.17 535.49L339.23 535.36L339.17 535.23L339.00 535.12L338.29 535.08L338.29 534.14L338.23 534.00L338.12 533.92ZM331.36 533.87L331.18 533.92L331.07 534.00L331.01 534.14L331.01 537.81L331.07 537.94L331.18 538.03L331.36 538.07L331.54 538.03L331.65 537.94L331.71 537.81L331.71 534.14L331.65 534.00L331.54 533.92ZM324.84 533.92L324.72 534.00L324.66 534.14L324.66 537.81L324.72 537.94L324.84 538.03L325.01 538.07L328.07 538.07L328.25 538.03L328.39 537.90L328.39 537.72L328.25 537.59L328.07 537.55L325.37 537.53L325.37 536.17L326.89 536.15L327.07 536.10L327.19 536.02L327.25 535.89L327.19 535.75L327.07 535.67L326.89 535.62L325.37 535.60L325.37 534.42L328.07 534.40L328.25 534.35L328.36 534.27L328.42 534.14L328.36 534.00L328.25 533.92L328.07 533.87L325.01 533.87ZM329.48 533.70L329.30 533.74L328.95 534.00L328.89 534.14L328.95 534.27L329.30 534.53L329.48 534.57L329.66 534.53L330.01 534.27L330.07 534.14L330.01 534.00L329.66 533.74Z"/>
<rect x="105" y="58" width="335" height="669" fill="none" stroke="#000" stroke-width="2"/>
<line x1="101.5" y1="58.0" x2="105" y2="58.0" stroke="#000" stroke-width="1.3"/>
<line x1="101.5" y1="102.6" x2="105" y2="102.6" stroke="#000" stroke-width="1.3"/>
<line x1="101.5" y1="147.2" x2="105" y2="147.2" stroke="#000" stroke-width="1.3"/>
<line x1="101.5" y1="191.8" x2="105" y2="191.8" stroke="#000" stroke-width="1.3"/>
<line x1="101.5" y1="236.4" x2="105" y2="236.4" stroke="#000" stroke-width="1.3"/>
<line x1="101.5" y1="281.0" x2="105" y2="281.0" stroke="#000" stroke-width="1.3"/>
<line x1="101.5" y1="325.6" x2="105" y2="325.6" stroke="#000" stroke-width="1.3"/>
<line x1="101.5" y1="370.2" x2="105" y2="370.2" stroke="#000" stroke-width="1.3"/>
<line x1="101.5" y1="414.8" x2="105" y2="414.8" stroke="#000" stroke-width="1.3"/>
<line x1="101.5" y1="459.4" x2="105" y2="459.4" stroke="#000" stroke-width="1.3"/>
<line x1="101.5" y1="504.0" x2="105" y2="504.0" stroke="#000" stroke-width="1.3"/>
<line x1="101.5" y1="548.6" x2="105" y2="548.6" stroke="#000" stroke-width="1.3"/>
<line x1="101.5" y1="593.2" x2="105" y2="593.2" stroke="#000" stroke-width="1.3"/>
<line x1="101.5" y1="637.8" x2="105" y2="637.8" stroke="#000" stroke-width="1.3"/>
<line x1="101.5" y1="682.4" x2="105" y2="682.4" stroke="#000" stroke-width="1.3"/>
<line x1="101.5" y1="727.0" x2="105" y2="727.0" stroke="#000" stroke-width="1.3"/>
<line x1="105.0" y1="727" x2="105.0" y2="731" stroke="#000" stroke-width="1.3"/>
<line x1="142.2" y1="727" x2="142.2" y2="731" stroke="#000" stroke-width="1.3"/>
<line x1="179.4" y1="727" x2="179.4" y2="731" stroke="#000" stroke-width="1.3"/>
<line x1="216.7" y1="727" x2="216.7" y2="731" stroke="#000" stroke-width="1.3"/>
<line x1="253.9" y1="727" x2="253.9" y2="731" stroke="#000" stroke-width="1.3"/>
<line x1="291.1" y1="727" x2="291.1" y2="731" stroke="#000" stroke-width="1.3"/>
<line x1="328.3" y1="727" x2="328.3" y2="731" stroke="#000" stroke-width="1.3"/>
<line x1="365.5" y1="727" x2="365.5" y2="731" stroke="#000" stroke-width="1.3"/>
<line x1="402.8" y1="727" x2="402.8" y2="731" stroke="#000" stroke-width="1.3"/>
<line x1="440.0" y1="727" x2="440.0" y2="731" stroke="#000" stroke-width="1.3"/>
<polygon points="522.8,196.4 528.7,166.3 534.6,196.4" fill="#6e6e6e" stroke="#000" stroke-width="1.6" stroke-linejoin="miter"/>
<rect x="522.8" y="196.40" width="11.80" height="29.08" fill="#a05ac8" stroke="#000" stroke-width="1.6"/>
<rect x="522.8" y="225.48" width="11.80" height="29.08" fill="#f000f0" stroke="#000" stroke-width="1.6"/>
<rect x="522.8" y="254.56" width="11.80" height="29.08" fill="#b40a0a" stroke="#000" stroke-width="1.6"/>
<rect x="522.8" y="283.64" width="11.80" height="29.08" fill="#d20a0a" stroke="#000" stroke-width="1.6"/>
<rect x="522.8" y="312.72" width="11.80" height="29.08" fill="#ff0a0a" stroke="#000" stroke-width="1.6"/>
<rect x="522.8" y="341.80" width="11.80" height="29.08" fill="#ff8c0a" stroke="#000" stroke-width="1.6"/>
<rect x="522.8" y="370.88" width="11.80" height="29.08" fill="#e6b40a" stroke="#000" stroke-width="1.6"/>
<rect x="522.8" y="399.96" width="11.80" height="29.08" fill="#fde800" stroke="#000" stroke-width="1.6"/>
<rect x="522.8" y="429.04" width="11.80" height="29.08" fill="#008c00" stroke="#000" stroke-width="1.6"/>
<rect x="522.8" y="458.12" width="11.80" height="29.08" fill="#00c800" stroke="#000" stroke-width="1.6"/>
<rect x="522.8" y="487.20" width="11.80" height="29.08" fill="#00f000" stroke="#000" stroke-width="1.6"/>
<rect x="522.8" y="516.28" width="11.80" height="29.08" fill="#0000e6" stroke="#000" stroke-width="1.6"/>
<rect x="522.8" y="545.36" width="11.80" height="29.08" fill="#0aa0f0" stroke="#000" stroke-width="1.6"/>
<rect x="522.8" y="574.44" width="11.80" height="29.08" fill="#00e6e6" stroke="#000" stroke-width="1.6"/>
<polygon points="522.8,603.52 528.7,632.5 534.6,603.52" fill="#fcfcfc" stroke="#000" stroke-width="1.6"/>
<path fill="#000" fill-rule="evenodd" d="M93.24 54.22L92.97 54.52L92.89 54.86L92.89 61.95L92.97 62.28L93.24 62.58L93.55 62.66L93.87 62.58L94.18 62.16L94.26 57.26L97.47 62.45L97.94 62.66L98.26 62.58L98.53 62.28L98.61 61.95L98.61 54.86L98.53 54.52L98.26 54.22L97.94 54.14L97.63 54.22L97.32 54.65L97.24 59.54L94.02 54.35L93.55 54.14ZM87.40 54.18L87.13 54.35L86.93 54.77L86.62 57.68L86.69 58.23L86.97 58.53L87.28 58.61L87.60 58.53L87.99 58.15L88.58 57.94L89.44 57.94L90.03 58.15L90.50 58.65L90.69 59.29L90.69 59.88L90.50 60.51L90.03 61.02L89.44 61.23L88.58 61.23L87.99 61.02L87.44 60.09L86.97 59.88L86.65 59.96L86.38 60.26L86.30 60.60L86.38 60.98L86.65 61.57L87.13 62.11L88.30 62.62L89.48 62.66L90.73 62.24L91.63 61.27L91.99 60.17L92.03 59.25L91.63 57.89L90.73 56.92L89.48 56.50L88.54 56.50L88.14 56.63L88.11 56.25L88.22 55.57L90.73 55.57L91.05 55.49L91.36 55.07L91.32 54.52L91.05 54.22L90.73 54.14ZM81.13 54.18L80.85 54.35L80.66 54.86L80.74 55.19L81.01 55.49L81.32 55.57L83.40 55.62L82.34 57.14L82.23 57.56L82.26 57.77L82.58 58.19L83.68 58.27L84.07 58.49L84.22 58.65L84.42 59.29L84.42 59.88L84.22 60.51L83.75 61.02L83.17 61.23L82.30 61.23L81.72 61.02L81.17 60.09L80.70 59.88L80.38 59.96L80.11 60.26L80.03 60.60L80.11 60.98L80.38 61.57L80.85 62.11L82.03 62.62L83.21 62.66L84.46 62.24L85.36 61.27L85.75 59.92L85.71 58.99L85.36 57.89L84.73 57.22L84.19 56.92L85.32 55.28L85.44 54.86L85.36 54.52L85.09 54.22L84.77 54.14ZM84.46 105.15L83.99 105.36L83.56 105.87L83.48 106.21L83.68 106.71L84.15 107.18L84.46 107.26L84.93 107.05L85.36 106.55L85.44 106.21L85.24 105.70L84.77 105.24ZM93.24 98.82L92.97 99.12L92.89 99.46L92.89 106.55L92.97 106.88L93.24 107.18L93.55 107.26L93.87 107.18L94.18 106.76L94.26 101.86L97.47 107.05L97.94 107.26L98.26 107.18L98.53 106.88L98.61 106.55L98.61 99.46L98.53 99.12L98.26 98.82L97.94 98.74L97.63 98.82L97.32 99.25L97.24 104.14L94.02 98.95L93.55 98.74ZM87.40 98.78L87.13 98.95L86.93 99.37L86.62 102.28L86.69 102.83L86.97 103.13L87.28 103.21L87.60 103.13L87.99 102.75L88.58 102.54L89.44 102.54L90.03 102.75L90.50 103.25L90.69 103.89L90.69 104.48L90.50 105.11L90.03 105.62L89.44 105.83L88.58 105.83L87.99 105.62L87.44 104.69L86.97 104.48L86.65 104.56L86.38 104.86L86.30 105.20L86.38 105.58L86.65 106.17L87.13 106.71L88.30 107.22L89.48 107.26L90.73 106.84L91.63 105.87L91.99 104.77L92.03 103.85L91.63 102.49L90.73 101.52L89.48 101.10L88.54 101.10L88.14 101.23L88.11 100.85L88.22 100.17L90.73 100.17L91.05 100.09L91.36 99.67L91.32 99.12L91.05 98.82L90.73 98.74ZM80.70 98.74L80.38 98.82L80.11 99.08L77.17 103.51L76.89 104.18L76.97 104.52L77.36 104.86L79.99 104.90L80.07 106.76L80.23 107.05L80.70 107.26L81.01 107.18L81.32 106.76L81.36 104.94L82.58 104.82L82.85 104.52L82.93 104.18L82.85 103.85L82.58 103.55L81.36 103.42L81.36 99.46L81.17 98.95ZM79.99 101.78L80.03 103.42L78.93 103.47L79.01 103.21ZM71.72 98.78L71.45 98.95L71.25 99.46L71.33 99.79L71.60 100.09L71.92 100.17L73.99 100.22L72.93 101.74L72.82 102.16L72.86 102.37L73.17 102.79L74.27 102.87L74.66 103.09L74.82 103.25L75.01 103.89L75.01 104.48L74.82 105.11L74.35 105.62L73.76 105.83L72.90 105.83L72.31 105.62L71.76 104.69L71.29 104.48L70.97 104.56L70.70 104.86L70.62 105.20L70.70 105.58L70.97 106.17L71.45 106.71L72.62 107.22L73.80 107.26L75.05 106.84L75.95 105.87L76.35 104.52L76.31 103.59L75.95 102.49L75.33 101.82L74.78 101.52L75.91 99.88L76.03 99.46L75.95 99.12L75.68 98.82L75.37 98.74ZM93.24 143.42L92.97 143.72L92.89 144.06L92.89 151.15L92.97 151.48L93.24 151.78L93.55 151.86L93.87 151.78L94.18 151.36L94.26 146.46L97.47 151.65L97.94 151.86L98.26 151.78L98.53 151.48L98.61 151.15L98.61 144.06L98.53 143.72L98.26 143.42L97.94 143.34L97.63 143.42L97.32 143.85L97.24 148.74L94.02 143.55L93.55 143.34ZM90.10 143.34L89.79 143.42L89.52 143.68L86.58 148.11L86.30 148.78L86.38 149.12L86.77 149.46L89.40 149.50L89.48 151.36L89.63 151.65L90.10 151.86L90.42 151.78L90.73 151.36L90.77 149.54L91.99 149.42L92.26 149.12L92.34 148.78L92.26 148.45L91.99 148.15L90.77 148.02L90.77 144.06L90.57 143.55ZM89.40 146.38L89.44 148.02L88.34 148.07L88.42 147.81ZM81.13 143.38L80.85 143.55L80.66 144.06L80.74 144.39L81.01 144.69L81.32 144.77L83.40 144.82L82.34 146.34L82.23 146.76L82.26 146.97L82.58 147.39L83.68 147.47L84.07 147.69L84.22 147.85L84.42 148.49L84.42 149.08L84.22 149.71L83.75 150.22L83.17 150.43L82.30 150.43L81.72 150.22L81.17 149.29L80.70 149.08L80.38 149.16L80.11 149.46L80.03 149.80L80.11 150.18L80.38 150.77L80.85 151.31L82.03 151.82L83.21 151.86L84.46 151.44L85.36 150.47L85.75 149.12L85.71 148.19L85.36 147.09L84.73 146.42L84.19 146.12L85.32 144.48L85.44 144.06L85.36 143.72L85.09 143.42L84.77 143.34ZM84.46 194.35L83.99 194.56L83.56 195.07L83.48 195.41L83.68 195.91L84.15 196.38L84.46 196.46L84.93 196.25L85.36 195.75L85.44 195.41L85.24 194.90L84.77 194.44ZM93.24 188.02L92.97 188.32L92.89 188.66L92.89 195.75L92.97 196.08L93.24 196.38L93.55 196.46L93.87 196.38L94.18 195.96L94.26 191.06L97.47 196.25L97.94 196.46L98.26 196.38L98.53 196.08L98.61 195.75L98.61 188.66L98.53 188.32L98.26 188.02L97.94 187.94L97.63 188.02L97.32 188.45L97.24 193.34L94.02 188.15L93.55 187.94ZM87.40 187.98L87.13 188.15L86.93 188.57L86.62 191.48L86.69 192.03L86.97 192.33L87.28 192.41L87.60 192.33L87.99 191.95L88.58 191.74L89.44 191.74L90.03 191.95L90.50 192.45L90.69 193.09L90.69 193.68L90.50 194.31L90.03 194.82L89.44 195.03L88.58 195.03L87.99 194.82L87.44 193.89L86.97 193.68L86.65 193.76L86.38 194.06L86.30 194.40L86.38 194.78L86.65 195.37L87.13 195.91L88.30 196.42L89.48 196.46L90.73 196.04L91.63 195.07L91.99 193.97L92.03 193.05L91.63 191.69L90.73 190.72L89.48 190.30L88.54 190.30L88.14 190.43L88.11 190.05L88.22 189.37L90.73 189.37L91.05 189.29L91.36 188.87L91.32 188.32L91.05 188.02L90.73 187.94ZM77.99 187.98L77.72 188.15L77.52 188.66L77.60 188.99L77.87 189.29L78.19 189.37L80.27 189.42L79.21 190.94L79.09 191.36L79.13 191.57L79.44 191.99L80.54 192.07L80.93 192.29L81.09 192.45L81.28 193.09L81.28 193.68L81.09 194.31L80.62 194.82L80.03 195.03L79.17 195.03L78.58 194.82L78.03 193.89L77.56 193.68L77.25 193.76L76.97 194.06L76.89 194.40L76.97 194.78L77.25 195.37L77.72 195.91L78.89 196.42L80.07 196.46L81.32 196.04L82.23 195.07L82.62 193.72L82.58 192.79L82.23 191.69L81.60 191.02L81.05 190.72L82.19 189.08L82.30 188.66L82.23 188.32L81.95 188.02L81.64 187.94ZM71.72 187.98L71.45 188.15L71.25 188.66L71.33 188.99L71.60 189.29L71.92 189.37L73.99 189.42L72.93 190.94L72.82 191.36L72.86 191.57L73.17 191.99L74.27 192.07L74.66 192.29L74.82 192.45L75.01 193.09L75.01 193.68L74.82 194.31L74.35 194.82L73.76 195.03L72.90 195.03L72.31 194.82L71.76 193.89L71.29 193.68L70.97 193.76L70.70 194.06L70.62 194.40L70.70 194.78L70.97 195.37L71.45 195.91L72.62 196.42L73.80 196.46L75.05 196.04L75.95 195.07L76.35 193.72L76.31 192.79L75.95 191.69L75.33 191.02L74.78 190.72L75.91 189.08L76.03 188.66L75.95 188.32L75.68 188.02L75.37 187.94ZM93.24 232.62L92.97 232.92L92.89 233.26L92.89 240.35L92.97 240.68L93.24 240.98L93.55 241.06L93.87 240.98L94.18 240.56L94.26 235.66L97.47 240.85L97.94 241.06L98.26 240.98L98.53 240.68L98.61 240.35L98.61 233.26L98.53 232.92L98.26 232.62L97.94 232.54L97.63 232.62L97.32 233.05L97.24 237.94L94.02 232.75L93.55 232.54ZM87.40 232.58L87.13 232.75L86.93 233.26L87.01 233.59L87.28 233.89L87.60 233.97L89.67 234.02L88.61 235.54L88.50 235.96L88.54 236.17L88.85 236.59L89.95 236.67L90.34 236.89L90.50 237.05L90.69 237.69L90.69 238.28L90.50 238.91L90.03 239.42L89.44 239.63L88.58 239.63L87.99 239.42L87.44 238.49L86.97 238.28L86.65 238.36L86.38 238.66L86.30 239.00L86.38 239.38L86.65 239.97L87.13 240.51L88.30 241.02L89.48 241.06L90.73 240.64L91.63 239.67L92.03 238.32L91.99 237.39L91.63 236.29L91.01 235.62L90.46 235.32L91.59 233.68L91.71 233.26L91.63 232.92L91.36 232.62L91.05 232.54ZM81.13 232.58L80.85 232.75L80.66 233.26L80.74 233.59L81.01 233.89L81.32 233.97L83.40 234.02L82.34 235.54L82.23 235.96L82.26 236.17L82.58 236.59L83.68 236.67L84.07 236.89L84.22 237.05L84.42 237.69L84.42 238.28L84.22 238.91L83.75 239.42L83.17 239.63L82.30 239.63L81.72 239.42L81.17 238.49L80.70 238.28L80.38 238.36L80.11 238.66L80.03 239.00L80.11 239.38L80.38 239.97L80.85 240.51L82.03 241.02L83.21 241.06L84.46 240.64L85.36 239.67L85.75 238.32L85.71 237.39L85.36 236.29L84.73 235.62L84.19 235.32L85.32 233.68L85.44 233.26L85.36 232.92L85.09 232.62L84.77 232.54ZM84.46 283.55L83.99 283.76L83.56 284.27L83.48 284.61L83.68 285.11L84.15 285.58L84.46 285.66L84.93 285.45L85.36 284.95L85.44 284.61L85.24 284.10L84.77 283.64ZM93.24 277.22L92.97 277.52L92.89 277.86L92.89 284.95L92.97 285.28L93.24 285.58L93.55 285.66L93.87 285.58L94.18 285.16L94.26 280.26L97.47 285.45L97.94 285.66L98.26 285.58L98.53 285.28L98.61 284.95L98.61 277.86L98.53 277.52L98.26 277.22L97.94 277.14L97.63 277.22L97.32 277.65L97.24 282.54L94.02 277.35L93.55 277.14ZM87.40 277.18L87.13 277.35L86.93 277.77L86.62 280.68L86.69 281.23L86.97 281.53L87.28 281.61L87.60 281.53L87.99 281.15L88.58 280.94L89.44 280.94L90.03 281.15L90.50 281.65L90.69 282.29L90.69 282.88L90.50 283.51L90.03 284.02L89.44 284.23L88.58 284.23L87.99 284.02L87.44 283.09L86.97 282.88L86.65 282.96L86.38 283.26L86.30 283.60L86.38 283.98L86.65 284.57L87.13 285.11L88.30 285.62L89.48 285.66L90.73 285.24L91.63 284.27L91.99 283.17L92.03 282.25L91.63 280.89L90.73 279.92L89.48 279.50L88.54 279.50L88.14 279.63L88.11 279.25L88.22 278.57L90.73 278.57L91.05 278.49L91.36 278.07L91.32 277.52L91.05 277.22L90.73 277.14ZM78.78 277.22L78.23 277.52L77.56 278.24L77.21 279.21L77.25 279.76L77.40 280.05L77.87 280.26L78.19 280.18L78.46 279.88L78.54 279.38L78.74 278.95L79.29 278.57L80.23 278.57L80.62 278.78L80.97 279.38L80.97 279.71L80.27 281.02L77.09 284.44L76.89 284.95L76.97 285.28L77.25 285.58L77.56 285.66L81.95 285.66L82.26 285.58L82.54 285.28L82.62 284.95L82.54 284.61L82.26 284.31L81.95 284.23L79.21 284.19L81.17 282.08L81.95 280.85L82.30 279.88L82.23 278.83L81.79 278.03L81.28 277.52L80.74 277.22L80.38 277.14L79.13 277.14ZM71.72 277.18L71.45 277.35L71.25 277.86L71.33 278.19L71.60 278.49L71.92 278.57L73.99 278.62L72.93 280.14L72.82 280.56L72.86 280.77L73.17 281.19L74.27 281.27L74.66 281.49L74.82 281.65L75.01 282.29L75.01 282.88L74.82 283.51L74.35 284.02L73.76 284.23L72.90 284.23L72.31 284.02L71.76 283.09L71.29 282.88L70.97 282.96L70.70 283.26L70.62 283.60L70.70 283.98L70.97 284.57L71.45 285.11L72.62 285.62L73.80 285.66L75.05 285.24L75.95 284.27L76.35 282.92L76.31 281.99L75.95 280.89L75.33 280.22L74.78 279.92L75.91 278.28L76.03 277.86L75.95 277.52L75.68 277.22L75.37 277.14ZM93.24 321.82L92.97 322.12L92.89 322.46L92.89 329.55L92.97 329.88L93.24 330.18L93.55 330.26L93.87 330.18L94.18 329.76L94.26 324.86L97.47 330.05L97.94 330.26L98.26 330.18L98.53 329.88L98.61 329.55L98.61 322.46L98.53 322.12L98.26 321.82L97.94 321.74L97.63 321.82L97.32 322.25L97.24 327.14L94.02 321.95L93.55 321.74ZM88.18 321.82L87.63 322.12L86.97 322.84L86.62 323.81L86.65 324.36L86.81 324.65L87.28 324.86L87.60 324.78L87.87 324.48L87.95 323.98L88.14 323.55L88.69 323.17L89.63 323.17L90.03 323.38L90.38 323.98L90.38 324.31L89.67 325.62L86.50 329.04L86.30 329.55L86.38 329.88L86.65 330.18L86.97 330.26L91.36 330.26L91.67 330.18L91.95 329.88L92.03 329.55L91.95 329.21L91.67 328.91L91.36 328.83L88.61 328.79L90.57 326.68L91.36 325.45L91.71 324.48L91.63 323.43L91.20 322.63L90.69 322.12L90.14 321.82L89.79 321.74L88.54 321.74ZM81.13 321.78L80.85 321.95L80.66 322.46L80.74 322.79L81.01 323.09L81.32 323.17L83.40 323.22L82.34 324.74L82.23 325.16L82.26 325.37L82.58 325.79L83.68 325.87L84.07 326.09L84.22 326.25L84.42 326.89L84.42 327.48L84.22 328.11L83.75 328.62L83.17 328.83L82.30 328.83L81.72 328.62L81.17 327.69L80.70 327.48L80.38 327.56L80.11 327.86L80.03 328.20L80.11 328.58L80.38 329.17L80.85 329.71L82.03 330.22L83.21 330.26L84.46 329.84L85.36 328.87L85.75 327.52L85.71 326.59L85.36 325.49L84.73 324.82L84.19 324.52L85.32 322.88L85.44 322.46L85.36 322.12L85.09 321.82L84.77 321.74ZM84.46 372.75L83.99 372.96L83.56 373.47L83.48 373.81L83.68 374.31L84.15 374.78L84.46 374.86L84.93 374.65L85.36 374.15L85.44 373.81L85.24 373.30L84.77 372.84ZM93.24 366.42L92.97 366.72L92.89 367.06L92.89 374.15L92.97 374.48L93.24 374.78L93.55 374.86L93.87 374.78L94.18 374.36L94.26 369.46L97.47 374.65L97.94 374.86L98.26 374.78L98.53 374.48L98.61 374.15L98.61 367.06L98.53 366.72L98.26 366.42L97.94 366.34L97.63 366.42L97.32 366.85L97.24 371.74L94.02 366.55L93.55 366.34ZM87.40 366.38L87.13 366.55L86.93 366.97L86.62 369.88L86.69 370.43L86.97 370.73L87.28 370.81L87.60 370.73L87.99 370.35L88.58 370.14L89.44 370.14L90.03 370.35L90.50 370.85L90.69 371.49L90.69 372.08L90.50 372.71L90.03 373.22L89.44 373.43L88.58 373.43L87.99 373.22L87.44 372.29L86.97 372.08L86.65 372.16L86.38 372.46L86.30 372.80L86.38 373.18L86.65 373.77L87.13 374.31L88.30 374.82L89.48 374.86L90.73 374.44L91.63 373.47L91.99 372.37L92.03 371.45L91.63 370.09L90.73 369.12L89.48 368.70L88.54 368.70L88.14 368.83L88.11 368.45L88.22 367.77L90.73 367.77L91.05 367.69L91.36 367.27L91.32 366.72L91.05 366.42L90.73 366.34ZM80.07 366.34L79.76 366.42L78.74 367.48L78.03 367.90L77.83 368.41L77.91 368.74L78.31 369.08L78.70 369.08L79.40 368.79L79.40 374.15L79.60 374.65L80.07 374.86L80.54 374.65L80.74 374.15L80.74 367.06L80.54 366.55ZM71.72 366.38L71.45 366.55L71.25 367.06L71.33 367.39L71.60 367.69L71.92 367.77L73.99 367.82L72.93 369.34L72.82 369.76L72.86 369.97L73.17 370.39L74.27 370.47L74.66 370.69L74.82 370.85L75.01 371.49L75.01 372.08L74.82 372.71L74.35 373.22L73.76 373.43L72.90 373.43L72.31 373.22L71.76 372.29L71.29 372.08L70.97 372.16L70.70 372.46L70.62 372.80L70.70 373.18L70.97 373.77L71.45 374.31L72.62 374.82L73.80 374.86L75.05 374.44L75.95 373.47L76.35 372.12L76.31 371.19L75.95 370.09L75.33 369.42L74.78 369.12L75.91 367.48L76.03 367.06L75.95 366.72L75.68 366.42L75.37 366.34ZM93.24 411.02L92.97 411.32L92.89 411.66L92.89 418.75L92.97 419.08L93.24 419.38L93.55 419.46L93.87 419.38L94.18 418.96L94.26 414.06L97.47 419.25L97.94 419.46L98.26 419.38L98.53 419.08L98.61 418.75L98.61 411.66L98.53 411.32L98.26 411.02L97.94 410.94L97.63 411.02L97.32 411.45L97.24 416.34L94.02 411.15L93.55 410.94ZM89.48 410.94L89.16 411.02L88.14 412.08L87.44 412.50L87.24 413.01L87.32 413.34L87.71 413.68L88.11 413.68L88.81 413.39L88.81 418.75L89.01 419.25L89.48 419.46L89.95 419.25L90.14 418.75L90.14 411.66L89.95 411.15ZM81.13 410.98L80.85 411.15L80.66 411.66L80.74 411.99L81.01 412.29L81.32 412.37L83.40 412.42L82.34 413.94L82.23 414.36L82.26 414.57L82.58 414.99L83.68 415.07L84.07 415.29L84.22 415.45L84.42 416.09L84.42 416.68L84.22 417.31L83.75 417.82L83.17 418.03L82.30 418.03L81.72 417.82L81.17 416.89L80.70 416.68L80.38 416.76L80.11 417.06L80.03 417.40L80.11 417.78L80.38 418.37L80.85 418.91L82.03 419.42L83.21 419.46L84.46 419.04L85.36 418.07L85.75 416.72L85.71 415.79L85.36 414.69L84.73 414.02L84.19 413.72L85.32 412.08L85.44 411.66L85.36 411.32L85.09 411.02L84.77 410.94ZM84.46 461.95L83.99 462.16L83.56 462.67L83.48 463.01L83.68 463.51L84.15 463.98L84.46 464.06L84.93 463.85L85.36 463.35L85.44 463.01L85.24 462.50L84.77 462.04ZM93.24 455.62L92.97 455.92L92.89 456.26L92.89 463.35L92.97 463.68L93.24 463.98L93.55 464.06L93.87 463.98L94.18 463.56L94.26 458.66L97.47 463.85L97.94 464.06L98.26 463.98L98.53 463.68L98.61 463.35L98.61 456.26L98.53 455.92L98.26 455.62L97.94 455.54L97.63 455.62L97.32 456.05L97.24 460.94L94.02 455.75L93.55 455.54ZM87.40 455.58L87.13 455.75L86.93 456.17L86.62 459.08L86.69 459.63L86.97 459.93L87.28 460.01L87.60 459.93L87.99 459.55L88.58 459.34L89.44 459.34L90.03 459.55L90.50 460.05L90.69 460.69L90.69 461.28L90.50 461.91L90.03 462.42L89.44 462.63L88.58 462.63L87.99 462.42L87.44 461.49L86.97 461.28L86.65 461.36L86.38 461.66L86.30 462.00L86.38 462.38L86.65 462.97L87.13 463.51L88.30 464.02L89.48 464.06L90.73 463.64L91.63 462.67L91.99 461.57L92.03 460.65L91.63 459.29L90.73 458.32L89.48 457.90L88.54 457.90L88.14 458.03L88.11 457.65L88.22 456.97L90.73 456.97L91.05 456.89L91.36 456.47L91.32 455.92L91.05 455.62L90.73 455.54ZM79.44 455.54L78.19 455.96L77.29 457.27L76.89 459.17L76.89 460.43L77.21 462.12L78.03 463.51L79.21 464.02L80.07 464.06L81.32 463.64L82.23 462.33L82.62 460.43L82.62 459.17L82.30 457.48L81.48 456.09L80.30 455.58ZM79.48 456.97L80.03 456.97L80.66 457.27L81.01 457.86L81.28 459.25L81.28 460.35L81.01 461.74L80.58 462.42L80.03 462.63L79.48 462.63L78.85 462.33L78.50 461.74L78.23 460.35L78.23 459.25L78.50 457.86L78.93 457.18ZM71.72 455.58L71.45 455.75L71.25 456.26L71.33 456.59L71.60 456.89L71.92 456.97L73.99 457.02L72.93 458.54L72.82 458.96L72.86 459.17L73.17 459.59L74.27 459.67L74.66 459.89L74.82 460.05L75.01 460.69L75.01 461.28L74.82 461.91L74.35 462.42L73.76 462.63L72.90 462.63L72.31 462.42L71.76 461.49L71.29 461.28L70.97 461.36L70.70 461.66L70.62 462.00L70.70 462.38L70.97 462.97L71.45 463.51L72.62 464.02L73.80 464.06L75.05 463.64L75.95 462.67L76.35 461.32L76.31 460.39L75.95 459.29L75.33 458.62L74.78 458.32L75.91 456.68L76.03 456.26L75.95 455.92L75.68 455.62L75.37 455.54ZM93.24 500.22L92.97 500.52L92.89 500.86L92.89 507.95L92.97 508.28L93.24 508.58L93.55 508.66L93.87 508.58L94.18 508.16L94.26 503.26L97.47 508.45L97.94 508.66L98.26 508.58L98.53 508.28L98.61 507.95L98.61 500.86L98.53 500.52L98.26 500.22L97.94 500.14L97.63 500.22L97.32 500.65L97.24 505.54L94.02 500.35L93.55 500.14ZM88.85 500.14L87.60 500.56L86.69 501.87L86.30 503.77L86.30 505.03L86.62 506.72L87.44 508.11L88.61 508.62L89.48 508.66L90.73 508.24L91.63 506.93L92.03 505.03L92.03 503.77L91.71 502.08L90.89 500.69L89.71 500.18ZM88.89 501.57L89.44 501.57L90.07 501.87L90.42 502.46L90.69 503.85L90.69 504.95L90.42 506.34L89.99 507.02L89.44 507.23L88.89 507.23L88.26 506.93L87.91 506.34L87.63 504.95L87.63 503.85L87.91 502.46L88.34 501.78ZM81.13 500.18L80.85 500.35L80.66 500.86L80.74 501.19L81.01 501.49L81.32 501.57L83.40 501.62L82.34 503.14L82.23 503.56L82.26 503.77L82.58 504.19L83.68 504.27L84.07 504.49L84.22 504.65L84.42 505.29L84.42 505.88L84.22 506.51L83.75 507.02L83.17 507.23L82.30 507.23L81.72 507.02L81.17 506.09L80.70 505.88L80.38 505.96L80.11 506.26L80.03 506.60L80.11 506.98L80.38 507.57L80.85 508.11L82.03 508.62L83.21 508.66L84.46 508.24L85.36 507.27L85.75 505.92L85.71 504.99L85.36 503.89L84.73 503.22L84.19 502.92L85.32 501.28L85.44 500.86L85.36 500.52L85.09 500.22L84.77 500.14ZM84.46 551.15L83.99 551.36L83.56 551.87L83.48 552.21L83.68 552.71L84.15 553.18L84.46 553.26L84.93 553.05L85.36 552.55L85.44 552.21L85.24 551.70L84.77 551.24ZM93.24 544.82L92.97 545.12L92.89 545.46L92.89 552.55L92.97 552.88L93.24 553.18L93.55 553.26L93.87 553.18L94.18 552.76L94.26 547.86L97.47 553.05L97.94 553.26L98.26 553.18L98.53 552.88L98.61 552.55L98.61 545.46L98.53 545.12L98.26 544.82L97.94 544.74L97.63 544.82L97.32 545.25L97.24 550.14L94.02 544.95L93.55 544.74ZM87.40 544.78L87.13 544.95L86.93 545.37L86.62 548.28L86.69 548.83L86.97 549.13L87.28 549.21L87.60 549.13L87.99 548.75L88.58 548.54L89.44 548.54L90.03 548.75L90.50 549.25L90.69 549.89L90.69 550.48L90.50 551.11L90.03 551.62L89.44 551.83L88.58 551.83L87.99 551.62L87.44 550.69L86.97 550.48L86.65 550.56L86.38 550.86L86.30 551.20L86.38 551.58L86.65 552.17L87.13 552.71L88.30 553.22L89.48 553.26L90.73 552.84L91.63 551.87L91.99 550.77L92.03 549.85L91.63 548.49L90.73 547.52L89.48 547.10L88.54 547.10L88.14 547.23L88.11 546.85L88.22 546.17L90.73 546.17L91.05 546.09L91.36 545.67L91.32 545.12L91.05 544.82L90.73 544.74ZM79.76 544.74L79.21 544.78L78.03 545.29L77.29 546.13L76.89 547.48L76.93 548.07L77.29 549.17L78.19 550.14L79.44 550.56L79.99 550.52L80.74 550.23L80.81 550.27L80.70 550.94L80.34 551.53L79.72 551.83L79.17 551.83L78.70 551.66L78.34 551.03L78.07 550.86L77.56 550.90L77.29 551.20L77.21 551.53L77.29 551.91L77.72 552.71L78.07 552.93L79.13 553.26L79.99 553.22L81.17 552.71L81.99 551.32L82.30 549.63L82.30 547.82L81.91 546.13L81.01 545.16ZM79.48 546.17L80.30 546.38L80.74 546.85L80.93 547.65L80.77 548.41L80.30 548.92L79.72 549.13L78.89 548.92L78.42 548.41L78.23 547.78L78.42 546.89L78.89 546.38ZM72.50 544.82L71.95 545.12L71.29 545.84L70.94 546.81L70.97 547.36L71.13 547.65L71.60 547.86L71.92 547.78L72.19 547.48L72.27 546.98L72.46 546.55L73.01 546.17L73.95 546.17L74.35 546.38L74.70 546.98L74.70 547.31L73.99 548.62L70.82 552.04L70.62 552.55L70.70 552.88L70.97 553.18L71.29 553.26L75.68 553.26L75.99 553.18L76.27 552.88L76.35 552.55L76.27 552.21L75.99 551.91L75.68 551.83L72.93 551.79L74.89 549.68L75.68 548.45L76.03 547.48L75.95 546.43L75.52 545.63L75.01 545.12L74.46 544.82L74.11 544.74L72.86 544.74ZM93.24 589.42L92.97 589.72L92.89 590.06L92.89 597.15L92.97 597.48L93.24 597.78L93.55 597.86L93.87 597.78L94.18 597.36L94.26 592.46L97.47 597.65L97.94 597.86L98.26 597.78L98.53 597.48L98.61 597.15L98.61 590.06L98.53 589.72L98.26 589.42L97.94 589.34L97.63 589.42L97.32 589.85L97.24 594.74L94.02 589.55L93.55 589.34ZM89.16 589.34L88.61 589.38L87.44 589.89L86.69 590.73L86.30 592.08L86.34 592.67L86.69 593.77L87.60 594.74L88.85 595.16L89.40 595.12L90.14 594.83L90.22 594.87L90.10 595.54L89.75 596.13L89.12 596.43L88.58 596.43L88.11 596.26L87.75 595.63L87.48 595.46L86.97 595.50L86.69 595.80L86.62 596.13L86.69 596.51L87.13 597.31L87.48 597.53L88.54 597.86L89.40 597.82L90.57 597.31L91.40 595.92L91.71 594.23L91.71 592.42L91.32 590.73L90.42 589.76ZM88.89 590.77L89.71 590.98L90.14 591.45L90.34 592.25L90.18 593.01L89.71 593.52L89.12 593.73L88.30 593.52L87.83 593.01L87.63 592.38L87.83 591.49L88.30 590.98ZM81.91 589.42L81.36 589.72L80.70 590.44L80.34 591.41L80.38 591.96L80.54 592.25L81.01 592.46L81.32 592.38L81.60 592.08L81.68 591.58L81.87 591.15L82.42 590.77L83.36 590.77L83.75 590.98L84.11 591.58L84.11 591.91L83.40 593.22L80.23 596.64L80.03 597.15L80.11 597.48L80.38 597.78L80.70 597.86L85.09 597.86L85.40 597.78L85.67 597.48L85.75 597.15L85.67 596.81L85.40 596.51L85.09 596.43L82.34 596.39L84.30 594.28L85.09 593.05L85.44 592.08L85.36 591.03L84.93 590.23L84.42 589.72L83.87 589.42L83.52 589.34L82.26 589.34ZM84.46 640.35L83.99 640.56L83.56 641.07L83.48 641.41L83.68 641.91L84.15 642.38L84.46 642.46L84.93 642.25L85.36 641.75L85.44 641.41L85.24 640.90L84.77 640.44ZM93.24 634.02L92.97 634.32L92.89 634.66L92.89 641.75L92.97 642.08L93.24 642.38L93.55 642.46L93.87 642.38L94.18 641.96L94.26 637.06L97.47 642.25L97.94 642.46L98.26 642.38L98.53 642.08L98.61 641.75L98.61 634.66L98.53 634.32L98.26 634.02L97.94 633.94L97.63 634.02L97.32 634.45L97.24 639.34L94.02 634.15L93.55 633.94ZM87.40 633.98L87.13 634.15L86.93 634.57L86.62 637.48L86.69 638.03L86.97 638.33L87.28 638.41L87.60 638.33L87.99 637.95L88.58 637.74L89.44 637.74L90.03 637.95L90.50 638.45L90.69 639.09L90.69 639.68L90.50 640.31L90.03 640.82L89.44 641.03L88.58 641.03L87.99 640.82L87.44 639.89L86.97 639.68L86.65 639.76L86.38 640.06L86.30 640.40L86.38 640.78L86.65 641.37L87.13 641.91L88.30 642.42L89.48 642.46L90.73 642.04L91.63 641.07L91.99 639.97L92.03 639.05L91.63 637.69L90.73 636.72L89.48 636.30L88.54 636.30L88.14 636.43L88.11 636.05L88.22 635.37L90.73 635.37L91.05 635.29L91.36 634.87L91.32 634.32L91.05 634.02L90.73 633.94ZM78.89 633.98L77.72 634.49L77.29 635.29L77.21 635.67L77.29 636.72L77.56 637.32L77.87 637.69L77.25 638.41L76.97 639.00L76.89 639.38L76.93 640.61L77.25 641.37L77.87 642.04L79.13 642.46L80.62 642.42L81.79 641.91L82.26 641.37L82.54 640.78L82.62 640.40L82.54 639.00L82.26 638.41L81.64 637.69L81.95 637.32L82.23 636.72L82.30 636.34L82.26 635.46L81.95 634.70L81.64 634.36L80.38 633.94ZM78.42 639.13L78.89 638.62L79.76 638.33L80.62 638.62L81.09 639.13L81.28 639.55L81.28 640.23L80.93 640.82L80.34 641.03L79.17 641.03L78.58 640.82L78.23 640.23L78.23 639.55ZM78.54 635.84L78.70 635.54L79.17 635.37L80.34 635.37L80.85 635.58L80.97 635.84L80.97 636.18L80.77 636.51L79.76 636.89L78.74 636.51L78.54 636.18ZM72.50 634.02L71.95 634.32L71.29 635.04L70.94 636.01L70.97 636.56L71.13 636.85L71.60 637.06L71.92 636.98L72.19 636.68L72.27 636.18L72.46 635.75L73.01 635.37L73.95 635.37L74.35 635.58L74.70 636.18L74.70 636.51L73.99 637.82L70.82 641.24L70.62 641.75L70.70 642.08L70.97 642.38L71.29 642.46L75.68 642.46L75.99 642.38L76.27 642.08L76.35 641.75L76.27 641.41L75.99 641.11L75.68 641.03L72.93 640.99L74.89 638.88L75.68 637.65L76.03 636.68L75.95 635.63L75.52 634.83L75.01 634.32L74.46 634.02L74.11 633.94L72.86 633.94ZM93.24 678.62L92.97 678.92L92.89 679.26L92.89 686.35L92.97 686.68L93.24 686.98L93.55 687.06L93.87 686.98L94.18 686.56L94.26 681.66L97.47 686.85L97.94 687.06L98.26 686.98L98.53 686.68L98.61 686.35L98.61 679.26L98.53 678.92L98.26 678.62L97.94 678.54L97.63 678.62L97.32 679.05L97.24 683.94L94.02 678.75L93.55 678.54ZM88.30 678.58L87.13 679.09L86.69 679.89L86.62 680.27L86.69 681.32L86.97 681.92L87.28 682.29L86.65 683.01L86.38 683.60L86.30 683.98L86.34 685.21L86.65 685.97L87.28 686.64L88.54 687.06L90.03 687.02L91.20 686.51L91.67 685.97L91.95 685.38L92.03 685.00L91.95 683.60L91.67 683.01L91.05 682.29L91.36 681.92L91.63 681.32L91.71 680.94L91.67 680.06L91.36 679.30L91.05 678.96L89.79 678.54ZM87.83 683.73L88.30 683.22L89.16 682.93L90.03 683.22L90.50 683.73L90.69 684.15L90.69 684.83L90.34 685.42L89.75 685.63L88.58 685.63L87.99 685.42L87.63 684.83L87.63 684.15ZM87.95 680.44L88.11 680.14L88.58 679.97L89.75 679.97L90.26 680.18L90.38 680.44L90.38 680.78L90.18 681.11L89.16 681.49L88.14 681.11L87.95 680.78ZM81.91 678.62L81.36 678.92L80.70 679.64L80.34 680.61L80.38 681.16L80.54 681.45L81.01 681.66L81.32 681.58L81.60 681.28L81.68 680.78L81.87 680.35L82.42 679.97L83.36 679.97L83.75 680.18L84.11 680.78L84.11 681.11L83.40 682.42L80.23 685.84L80.03 686.35L80.11 686.68L80.38 686.98L80.70 687.06L85.09 687.06L85.40 686.98L85.67 686.68L85.75 686.35L85.67 686.01L85.40 685.71L85.09 685.63L82.34 685.59L84.30 683.48L85.09 682.25L85.44 681.28L85.36 680.23L84.93 679.43L84.42 678.92L83.87 678.62L83.52 678.54L82.26 678.54ZM84.46 729.55L83.99 729.76L83.56 730.27L83.48 730.61L83.68 731.11L84.15 731.58L84.46 731.66L84.93 731.45L85.36 730.95L85.44 730.61L85.24 730.10L84.77 729.64ZM93.24 723.22L92.97 723.52L92.89 723.86L92.89 730.95L92.97 731.28L93.24 731.58L93.55 731.66L93.87 731.58L94.18 731.16L94.26 726.26L97.47 731.45L97.94 731.66L98.26 731.58L98.53 731.28L98.61 730.95L98.61 723.86L98.53 723.52L98.26 723.22L97.94 723.14L97.63 723.22L97.32 723.65L97.24 728.54L94.02 723.35L93.55 723.14ZM87.40 723.18L87.13 723.35L86.93 723.77L86.62 726.68L86.69 727.23L86.97 727.53L87.28 727.61L87.60 727.53L87.99 727.15L88.58 726.94L89.44 726.94L90.03 727.15L90.50 727.65L90.69 728.29L90.69 728.88L90.50 729.51L90.03 730.02L89.44 730.23L88.58 730.23L87.99 730.02L87.44 729.09L86.97 728.88L86.65 728.96L86.38 729.26L86.30 729.60L86.38 729.98L86.65 730.57L87.13 731.11L88.30 731.62L89.48 731.66L90.73 731.24L91.63 730.27L91.99 729.17L92.03 728.25L91.63 726.89L90.73 725.92L89.48 725.50L88.54 725.50L88.14 725.63L88.11 725.25L88.22 724.57L90.73 724.57L91.05 724.49L91.36 724.07L91.32 723.52L91.05 723.22L90.73 723.14ZM82.26 723.22L81.95 723.14L77.56 723.14L77.25 723.22L76.97 723.52L76.89 723.86L76.97 724.19L77.36 724.53L80.89 724.62L78.23 730.61L78.19 731.16L78.50 731.58L78.81 731.66L79.13 731.58L79.40 731.28L82.54 724.19L82.58 723.65ZM72.50 723.22L71.95 723.52L71.29 724.24L70.94 725.21L70.97 725.76L71.13 726.05L71.60 726.26L71.92 726.18L72.19 725.88L72.27 725.38L72.46 724.95L73.01 724.57L73.95 724.57L74.35 724.78L74.70 725.38L74.70 725.71L73.99 727.02L70.82 730.44L70.62 730.95L70.70 731.28L70.97 731.58L71.29 731.66L75.68 731.66L75.99 731.58L76.27 731.28L76.35 730.95L76.27 730.61L75.99 730.31L75.68 730.23L72.93 730.19L74.89 728.08L75.68 726.85L76.03 725.88L75.95 724.83L75.52 724.03L75.01 723.52L74.46 723.22L74.11 723.14L72.86 723.14ZM109.60 732.82L109.32 733.12L109.24 733.46L109.24 740.55L109.32 740.88L109.60 741.18L109.91 741.26L113.99 741.26L114.30 741.18L114.57 740.88L114.65 740.55L114.57 740.21L114.30 739.91L113.99 739.83L110.58 739.79L110.58 737.59L112.61 737.51L112.89 737.34L113.09 736.83L113.01 736.49L112.61 736.16L110.62 736.12L110.58 734.22L114.18 734.13L114.57 733.79L114.65 733.46L114.57 733.12L114.30 732.82L113.99 732.74L109.91 732.74ZM104.54 732.82L103.99 733.12L103.32 733.84L102.97 734.81L103.01 735.36L103.17 735.65L103.64 735.86L103.95 735.78L104.23 735.48L104.30 734.98L104.50 734.55L105.05 734.17L105.99 734.17L106.38 734.38L106.73 734.98L106.73 735.31L106.03 736.62L102.85 740.04L102.66 740.55L102.74 740.88L103.01 741.18L103.32 741.26L107.71 741.26L108.03 741.18L108.30 740.88L108.38 740.55L108.30 740.21L108.03 739.91L107.71 739.83L104.97 739.79L106.93 737.68L107.71 736.45L108.07 735.48L107.99 734.43L107.56 733.63L107.05 733.12L106.50 732.82L106.15 732.74L104.89 732.74ZM97.48 732.78L97.21 732.95L97.01 733.46L97.09 733.79L97.37 734.09L97.68 734.17L99.76 734.22L98.70 735.74L98.58 736.16L98.62 736.37L98.93 736.79L100.03 736.87L100.42 737.09L100.58 737.25L100.78 737.89L100.78 738.48L100.58 739.11L100.11 739.62L99.52 739.83L98.66 739.83L98.07 739.62L97.52 738.69L97.05 738.48L96.74 738.56L96.46 738.86L96.39 739.20L96.46 739.58L96.74 740.17L97.21 740.71L98.39 741.22L99.56 741.26L100.82 740.84L101.72 739.87L102.11 738.52L102.07 737.59L101.72 736.49L101.09 735.82L100.54 735.52L101.68 733.88L101.80 733.46L101.72 733.12L101.44 732.82L101.13 732.74ZM142.74 739.15L142.27 739.36L141.84 739.87L141.76 740.21L141.96 740.71L142.43 741.18L142.74 741.26L143.21 741.05L143.64 740.55L143.72 740.21L143.52 739.70L143.05 739.24ZM151.52 732.82L151.25 733.12L151.17 733.46L151.17 740.55L151.25 740.88L151.52 741.18L151.83 741.26L155.91 741.26L156.22 741.18L156.50 740.88L156.58 740.55L156.50 740.21L156.22 739.91L155.91 739.83L152.50 739.79L152.50 737.59L154.54 737.51L154.81 737.34L155.01 736.83L154.93 736.49L154.54 736.16L152.54 736.12L152.50 734.22L156.11 734.13L156.50 733.79L156.58 733.46L156.50 733.12L156.22 732.82L155.91 732.74L151.83 732.74ZM145.68 732.78L145.41 732.95L145.21 733.37L144.90 736.28L144.97 736.83L145.25 737.13L145.56 737.21L145.88 737.13L146.27 736.75L146.86 736.54L147.72 736.54L148.31 736.75L148.78 737.25L148.97 737.89L148.97 738.48L148.78 739.11L148.31 739.62L147.72 739.83L146.86 739.83L146.27 739.62L145.72 738.69L145.25 738.48L144.93 738.56L144.66 738.86L144.58 739.20L144.66 739.58L144.93 740.17L145.41 740.71L146.58 741.22L147.76 741.26L149.01 740.84L149.91 739.87L150.27 738.77L150.31 737.85L149.91 736.49L149.01 735.52L147.76 735.10L146.82 735.10L146.42 735.23L146.39 734.85L146.50 734.17L149.01 734.17L149.33 734.09L149.64 733.67L149.60 733.12L149.33 732.82L149.01 732.74ZM137.06 732.82L136.51 733.12L135.84 733.84L135.49 734.81L135.53 735.36L135.68 735.65L136.15 735.86L136.47 735.78L136.74 735.48L136.82 734.98L137.02 734.55L137.57 734.17L138.51 734.17L138.90 734.38L139.25 734.98L139.25 735.31L138.55 736.62L135.37 740.04L135.17 740.55L135.25 740.88L135.53 741.18L135.84 741.26L140.23 741.26L140.54 741.18L140.82 740.88L140.90 740.55L140.82 740.21L140.54 739.91L140.23 739.83L137.49 739.79L139.45 737.68L140.23 736.45L140.58 735.48L140.51 734.43L140.07 733.63L139.56 733.12L139.02 732.82L138.66 732.74L137.41 732.74ZM130.00 732.78L129.73 732.95L129.53 733.46L129.61 733.79L129.88 734.09L130.20 734.17L132.27 734.22L131.21 735.74L131.10 736.16L131.14 736.37L131.45 736.79L132.55 736.87L132.94 737.09L133.10 737.25L133.29 737.89L133.29 738.48L133.10 739.11L132.63 739.62L132.04 739.83L131.18 739.83L130.59 739.62L130.04 738.69L129.57 738.48L129.25 738.56L128.98 738.86L128.90 739.20L128.98 739.58L129.25 740.17L129.73 740.71L130.90 741.22L132.08 741.26L133.33 740.84L134.23 739.87L134.63 738.52L134.59 737.59L134.23 736.49L133.61 735.82L133.06 735.52L134.19 733.88L134.31 733.46L134.23 733.12L133.96 732.82L133.65 732.74ZM184.04 732.82L183.76 733.12L183.68 733.46L183.68 740.55L183.76 740.88L184.04 741.18L184.35 741.26L188.43 741.26L188.74 741.18L189.01 740.88L189.09 740.55L189.01 740.21L188.74 739.91L188.43 739.83L185.02 739.79L185.02 737.59L187.05 737.51L187.33 737.34L187.53 736.83L187.45 736.49L187.05 736.16L185.06 736.12L185.02 734.22L188.62 734.13L189.01 733.79L189.09 733.46L189.01 733.12L188.74 732.82L188.43 732.74L184.35 732.74ZM178.20 732.78L177.92 732.95L177.73 733.46L177.80 733.79L178.08 734.09L178.39 734.17L180.47 734.22L179.41 735.74L179.29 736.16L179.33 736.37L179.65 736.79L180.74 736.87L181.14 737.09L181.29 737.25L181.49 737.89L181.49 738.48L181.29 739.11L180.82 739.62L180.23 739.83L179.37 739.83L178.78 739.62L178.23 738.69L177.76 738.48L177.45 738.56L177.18 738.86L177.10 739.20L177.18 739.58L177.45 740.17L177.92 740.71L179.10 741.22L180.27 741.26L181.53 740.84L182.43 739.87L182.82 738.52L182.78 737.59L182.43 736.49L181.80 735.82L181.25 735.52L182.39 733.88L182.51 733.46L182.43 733.12L182.15 732.82L181.84 732.74ZM171.92 732.78L171.65 732.95L171.45 733.46L171.53 733.79L171.81 734.09L172.12 734.17L174.20 734.22L173.14 735.74L173.02 736.16L173.06 736.37L173.37 736.79L174.47 736.87L174.86 737.09L175.02 737.25L175.22 737.89L175.22 738.48L175.02 739.11L174.55 739.62L173.96 739.83L173.10 739.83L172.51 739.62L171.96 738.69L171.49 738.48L171.18 738.56L170.90 738.86L170.83 739.20L170.90 739.58L171.18 740.17L171.65 740.71L172.83 741.22L174.00 741.26L175.26 740.84L176.16 739.87L176.55 738.52L176.51 737.59L176.16 736.49L175.53 735.82L174.98 735.52L176.12 733.88L176.24 733.46L176.16 733.12L175.88 732.82L175.57 732.74ZM217.18 739.15L216.71 739.36L216.28 739.87L216.20 740.21L216.40 740.71L216.87 741.18L217.18 741.26L217.65 741.05L218.08 740.55L218.16 740.21L217.96 739.70L217.49 739.24ZM225.96 732.82L225.69 733.12L225.61 733.46L225.61 740.55L225.69 740.88L225.96 741.18L226.27 741.26L230.35 741.26L230.66 741.18L230.94 740.88L231.02 740.55L230.94 740.21L230.66 739.91L230.35 739.83L226.94 739.79L226.94 737.59L228.98 737.51L229.25 737.34L229.45 736.83L229.37 736.49L228.98 736.16L226.98 736.12L226.94 734.22L230.55 734.13L230.94 733.79L231.02 733.46L230.94 733.12L230.66 732.82L230.35 732.74L226.27 732.74ZM220.12 732.78L219.85 732.95L219.65 733.37L219.34 736.28L219.41 736.83L219.69 737.13L220.00 737.21L220.32 737.13L220.71 736.75L221.30 736.54L222.16 736.54L222.75 736.75L223.22 737.25L223.41 737.89L223.41 738.48L223.22 739.11L222.75 739.62L222.16 739.83L221.30 739.83L220.71 739.62L220.16 738.69L219.69 738.48L219.37 738.56L219.10 738.86L219.02 739.20L219.10 739.58L219.37 740.17L219.85 740.71L221.02 741.22L222.20 741.26L223.45 740.84L224.35 739.87L224.71 738.77L224.75 737.85L224.35 736.49L223.45 735.52L222.20 735.10L221.26 735.10L220.86 735.23L220.83 734.85L220.94 734.17L223.45 734.17L223.77 734.09L224.08 733.67L224.04 733.12L223.77 732.82L223.45 732.74ZM210.71 732.78L210.44 732.95L210.24 733.46L210.32 733.79L210.59 734.09L210.91 734.17L212.99 734.22L211.93 735.74L211.81 736.16L211.85 736.37L212.16 736.79L213.26 736.87L213.65 737.09L213.81 737.25L214.00 737.89L214.00 738.48L213.81 739.11L213.34 739.62L212.75 739.83L211.89 739.83L211.30 739.62L210.75 738.69L210.28 738.48L209.97 738.56L209.69 738.86L209.61 739.20L209.69 739.58L209.97 740.17L210.44 740.71L211.61 741.22L212.79 741.26L214.04 740.84L214.95 739.87L215.34 738.52L215.30 737.59L214.95 736.49L214.32 735.82L213.77 735.52L214.91 733.88L215.02 733.46L214.95 733.12L214.67 732.82L214.36 732.74ZM204.44 732.78L204.17 732.95L203.97 733.46L204.05 733.79L204.32 734.09L204.64 734.17L206.71 734.22L205.65 735.74L205.54 736.16L205.58 736.37L205.89 736.79L206.99 736.87L207.38 737.09L207.54 737.25L207.73 737.89L207.73 738.48L207.54 739.11L207.07 739.62L206.48 739.83L205.62 739.83L205.03 739.62L204.48 738.69L204.01 738.48L203.69 738.56L203.42 738.86L203.34 739.20L203.42 739.58L203.69 740.17L204.17 740.71L205.34 741.22L206.52 741.26L207.77 740.84L208.67 739.87L209.07 738.52L209.03 737.59L208.67 736.49L208.05 735.82L207.50 735.52L208.63 733.88L208.75 733.46L208.67 733.12L208.40 732.82L208.09 732.74ZM258.48 732.82L258.20 733.12L258.12 733.46L258.12 740.55L258.20 740.88L258.48 741.18L258.79 741.26L262.87 741.26L263.18 741.18L263.45 740.88L263.53 740.55L263.45 740.21L263.18 739.91L262.87 739.83L259.46 739.79L259.46 737.59L261.49 737.51L261.77 737.34L261.97 736.83L261.89 736.49L261.49 736.16L259.50 736.12L259.46 734.22L263.06 734.13L263.45 733.79L263.53 733.46L263.45 733.12L263.18 732.82L262.87 732.74L258.79 732.74ZM255.34 732.74L255.03 732.82L254.75 733.08L251.81 737.51L251.54 738.18L251.62 738.52L252.01 738.86L254.63 738.90L254.71 740.76L254.87 741.05L255.34 741.26L255.65 741.18L255.97 740.76L256.01 738.94L257.22 738.82L257.50 738.52L257.57 738.18L257.50 737.85L257.22 737.55L256.01 737.42L256.01 733.46L255.81 732.95ZM254.63 735.78L254.67 737.42L253.58 737.47L253.65 737.21ZM246.36 732.78L246.09 732.95L245.89 733.46L245.97 733.79L246.25 734.09L246.56 734.17L248.64 734.22L247.58 735.74L247.46 736.16L247.50 736.37L247.81 736.79L248.91 736.87L249.30 737.09L249.46 737.25L249.66 737.89L249.66 738.48L249.46 739.11L248.99 739.62L248.40 739.83L247.54 739.83L246.95 739.62L246.40 738.69L245.93 738.48L245.62 738.56L245.34 738.86L245.27 739.20L245.34 739.58L245.62 740.17L246.09 740.71L247.27 741.22L248.44 741.26L249.70 740.84L250.60 739.87L250.99 738.52L250.95 737.59L250.60 736.49L249.97 735.82L249.42 735.52L250.56 733.88L250.68 733.46L250.60 733.12L250.32 732.82L250.01 732.74ZM291.62 739.15L291.15 739.36L290.72 739.87L290.64 740.21L290.84 740.71L291.31 741.18L291.62 741.26L292.09 741.05L292.52 740.55L292.60 740.21L292.40 739.70L291.93 739.24ZM300.40 732.82L300.13 733.12L300.05 733.46L300.05 740.55L300.13 740.88L300.40 741.18L300.71 741.26L304.79 741.26L305.10 741.18L305.38 740.88L305.46 740.55L305.38 740.21L305.10 739.91L304.79 739.83L301.38 739.79L301.38 737.59L303.42 737.51L303.69 737.34L303.89 736.83L303.81 736.49L303.42 736.16L301.42 736.12L301.38 734.22L304.99 734.13L305.38 733.79L305.46 733.46L305.38 733.12L305.10 732.82L304.79 732.74L300.71 732.74ZM294.56 732.78L294.29 732.95L294.09 733.37L293.78 736.28L293.85 736.83L294.13 737.13L294.44 737.21L294.76 737.13L295.15 736.75L295.74 736.54L296.60 736.54L297.19 736.75L297.66 737.25L297.85 737.89L297.85 738.48L297.66 739.11L297.19 739.62L296.60 739.83L295.74 739.83L295.15 739.62L294.60 738.69L294.13 738.48L293.81 738.56L293.54 738.86L293.46 739.20L293.54 739.58L293.81 740.17L294.29 740.71L295.46 741.22L296.64 741.26L297.89 740.84L298.79 739.87L299.15 738.77L299.19 737.85L298.79 736.49L297.89 735.52L296.64 735.10L295.70 735.10L295.30 735.23L295.27 734.85L295.38 734.17L297.89 734.17L298.21 734.09L298.52 733.67L298.48 733.12L298.21 732.82L297.89 732.74ZM287.86 732.74L287.54 732.82L287.27 733.08L284.33 737.51L284.05 738.18L284.13 738.52L284.52 738.86L287.15 738.90L287.23 740.76L287.39 741.05L287.86 741.26L288.17 741.18L288.48 740.76L288.52 738.94L289.74 738.82L290.01 738.52L290.09 738.18L290.01 737.85L289.74 737.55L288.52 737.42L288.52 733.46L288.33 732.95ZM287.15 735.78L287.19 737.42L286.09 737.47L286.17 737.21ZM278.88 732.78L278.61 732.95L278.41 733.46L278.49 733.79L278.76 734.09L279.08 734.17L281.15 734.22L280.09 735.74L279.98 736.16L280.02 736.37L280.33 736.79L281.43 736.87L281.82 737.09L281.98 737.25L282.17 737.89L282.17 738.48L281.98 739.11L281.51 739.62L280.92 739.83L280.06 739.83L279.47 739.62L278.92 738.69L278.45 738.48L278.13 738.56L277.86 738.86L277.78 739.20L277.86 739.58L278.13 740.17L278.61 740.71L279.78 741.22L280.96 741.26L282.21 740.84L283.11 739.87L283.51 738.52L283.47 737.59L283.11 736.49L282.49 735.82L281.94 735.52L283.07 733.88L283.19 733.46L283.11 733.12L282.84 732.82L282.53 732.74ZM332.92 732.82L332.64 733.12L332.56 733.46L332.56 740.55L332.64 740.88L332.92 741.18L333.23 741.26L337.31 741.26L337.62 741.18L337.89 740.88L337.97 740.55L337.89 740.21L337.62 739.91L337.31 739.83L333.90 739.79L333.90 737.59L335.93 737.51L336.21 737.34L336.41 736.83L336.33 736.49L335.93 736.16L333.94 736.12L333.90 734.22L337.50 734.13L337.89 733.79L337.97 733.46L337.89 733.12L337.62 732.82L337.31 732.74L333.23 732.74ZM327.08 732.78L326.80 732.95L326.61 733.37L326.29 736.28L326.37 736.83L326.64 737.13L326.96 737.21L327.27 737.13L327.66 736.75L328.25 736.54L329.11 736.54L329.70 736.75L330.17 737.25L330.37 737.89L330.37 738.48L330.17 739.11L329.70 739.62L329.11 739.83L328.25 739.83L327.66 739.62L327.11 738.69L326.64 738.48L326.33 738.56L326.06 738.86L325.98 739.20L326.06 739.58L326.33 740.17L326.80 740.71L327.98 741.22L329.15 741.26L330.41 740.84L331.31 739.87L331.66 738.77L331.70 737.85L331.31 736.49L330.41 735.52L329.15 735.10L328.21 735.10L327.82 735.23L327.78 734.85L327.90 734.17L330.41 734.17L330.72 734.09L331.03 733.67L331.00 733.12L330.72 732.82L330.41 732.74ZM320.80 732.78L320.53 732.95L320.33 733.46L320.41 733.79L320.69 734.09L321.00 734.17L323.08 734.22L322.02 735.74L321.90 736.16L321.94 736.37L322.25 736.79L323.35 736.87L323.74 737.09L323.90 737.25L324.10 737.89L324.10 738.48L323.90 739.11L323.43 739.62L322.84 739.83L321.98 739.83L321.39 739.62L320.84 738.69L320.37 738.48L320.06 738.56L319.78 738.86L319.71 739.20L319.78 739.58L320.06 740.17L320.53 740.71L321.71 741.22L322.88 741.26L324.14 740.84L325.04 739.87L325.43 738.52L325.39 737.59L325.04 736.49L324.41 735.82L323.86 735.52L325.00 733.88L325.12 733.46L325.04 733.12L324.76 732.82L324.45 732.74ZM366.06 739.15L365.59 739.36L365.16 739.87L365.08 740.21L365.28 740.71L365.75 741.18L366.06 741.26L366.53 741.05L366.96 740.55L367.04 740.21L366.84 739.70L366.37 739.24ZM374.84 732.82L374.57 733.12L374.49 733.46L374.49 740.55L374.57 740.88L374.84 741.18L375.15 741.26L379.23 741.26L379.54 741.18L379.82 740.88L379.90 740.55L379.82 740.21L379.54 739.91L379.23 739.83L375.82 739.79L375.82 737.59L377.86 737.51L378.13 737.34L378.33 736.83L378.25 736.49L377.86 736.16L375.86 736.12L375.82 734.22L379.43 734.13L379.82 733.79L379.90 733.46L379.82 733.12L379.54 732.82L379.23 732.74L375.15 732.74ZM369.00 732.78L368.73 732.95L368.53 733.37L368.22 736.28L368.29 736.83L368.57 737.13L368.88 737.21L369.20 737.13L369.59 736.75L370.18 736.54L371.04 736.54L371.63 736.75L372.10 737.25L372.29 737.89L372.29 738.48L372.10 739.11L371.63 739.62L371.04 739.83L370.18 739.83L369.59 739.62L369.04 738.69L368.57 738.48L368.25 738.56L367.98 738.86L367.90 739.20L367.98 739.58L368.25 740.17L368.73 740.71L369.90 741.22L371.08 741.26L372.33 740.84L373.23 739.87L373.59 738.77L373.63 737.85L373.23 736.49L372.33 735.52L371.08 735.10L370.14 735.10L369.74 735.23L369.71 734.85L369.82 734.17L372.33 734.17L372.65 734.09L372.96 733.67L372.92 733.12L372.65 732.82L372.33 732.74ZM359.59 732.78L359.32 732.95L359.12 733.37L358.81 736.28L358.89 736.83L359.16 737.13L359.47 737.21L359.79 737.13L360.18 736.75L360.77 736.54L361.63 736.54L362.22 736.75L362.69 737.25L362.88 737.89L362.88 738.48L362.69 739.11L362.22 739.62L361.63 739.83L360.77 739.83L360.18 739.62L359.63 738.69L359.16 738.48L358.85 738.56L358.57 738.86L358.49 739.20L358.57 739.58L358.85 740.17L359.32 740.71L360.49 741.22L361.67 741.26L362.92 740.84L363.83 739.87L364.18 738.77L364.22 737.85L363.83 736.49L362.92 735.52L361.67 735.10L360.73 735.10L360.34 735.23L360.30 734.85L360.41 734.17L362.92 734.17L363.24 734.09L363.55 733.67L363.51 733.12L363.24 732.82L362.92 732.74ZM353.32 732.78L353.05 732.95L352.85 733.46L352.93 733.79L353.20 734.09L353.52 734.17L355.59 734.22L354.53 735.74L354.42 736.16L354.46 736.37L354.77 736.79L355.87 736.87L356.26 737.09L356.42 737.25L356.61 737.89L356.61 738.48L356.42 739.11L355.95 739.62L355.36 739.83L354.50 739.83L353.91 739.62L353.36 738.69L352.89 738.48L352.57 738.56L352.30 738.86L352.22 739.20L352.30 739.58L352.57 740.17L353.05 740.71L354.22 741.22L355.40 741.26L356.65 740.84L357.55 739.87L357.95 738.52L357.91 737.59L357.55 736.49L356.93 735.82L356.38 735.52L357.51 733.88L357.63 733.46L357.55 733.12L357.28 732.82L356.97 732.74ZM407.36 732.82L407.08 733.12L407.00 733.46L407.00 740.55L407.08 740.88L407.36 741.18L407.67 741.26L411.75 741.26L412.06 741.18L412.33 740.88L412.41 740.55L412.33 740.21L412.06 739.91L411.75 739.83L408.34 739.79L408.34 737.59L410.37 737.51L410.65 737.34L410.85 736.83L410.77 736.49L410.37 736.16L408.38 736.12L408.34 734.22L411.94 734.13L412.33 733.79L412.41 733.46L412.33 733.12L412.06 732.82L411.75 732.74L407.67 732.74ZM403.91 732.74L403.04 732.78L401.87 733.29L401.05 734.68L400.73 736.37L400.73 738.18L401.12 739.87L402.03 740.84L403.28 741.26L403.83 741.22L405.00 740.71L405.75 739.87L406.14 738.52L406.10 737.93L405.75 736.83L404.85 735.86L403.59 735.44L403.04 735.48L402.30 735.78L402.22 735.74L402.34 735.06L402.69 734.47L403.32 734.17L403.87 734.17L404.34 734.34L404.69 734.98L404.97 735.14L405.47 735.10L405.75 734.81L405.83 734.47L405.75 734.09L405.32 733.29L404.97 733.08ZM403.32 736.87L404.14 737.09L404.61 737.59L404.81 738.23L404.61 739.11L404.14 739.62L403.55 739.83L402.73 739.62L402.30 739.15L402.10 738.35L402.26 737.59L402.73 737.09ZM395.24 732.78L394.97 732.95L394.77 733.46L394.85 733.79L395.13 734.09L395.44 734.17L397.52 734.22L396.46 735.74L396.34 736.16L396.38 736.37L396.69 736.79L397.79 736.87L398.18 737.09L398.34 737.25L398.54 737.89L398.54 738.48L398.34 739.11L397.87 739.62L397.28 739.83L396.42 739.83L395.83 739.62L395.28 738.69L394.81 738.48L394.50 738.56L394.22 738.86L394.15 739.20L394.22 739.58L394.50 740.17L394.97 740.71L396.15 741.22L397.32 741.26L398.58 740.84L399.48 739.87L399.87 738.52L399.83 737.59L399.48 736.49L398.85 735.82L398.30 735.52L399.44 733.88L399.56 733.46L399.48 733.12L399.20 732.82L398.89 732.74ZM440.50 739.15L440.03 739.36L439.60 739.87L439.52 740.21L439.72 740.71L440.19 741.18L440.50 741.26L440.97 741.05L441.40 740.55L441.48 740.21L441.28 739.70L440.81 739.24ZM449.28 732.82L449.01 733.12L448.93 733.46L448.93 740.55L449.01 740.88L449.28 741.18L449.59 741.26L453.67 741.26L453.98 741.18L454.26 740.88L454.34 740.55L454.26 740.21L453.98 739.91L453.67 739.83L450.26 739.79L450.26 737.59L452.30 737.51L452.57 737.34L452.77 736.83L452.69 736.49L452.30 736.16L450.30 736.12L450.26 734.22L453.87 734.13L454.26 733.79L454.34 733.46L454.26 733.12L453.98 732.82L453.67 732.74L449.59 732.74ZM443.44 732.78L443.17 732.95L442.97 733.37L442.66 736.28L442.73 736.83L443.01 737.13L443.32 737.21L443.64 737.13L444.03 736.75L444.62 736.54L445.48 736.54L446.07 736.75L446.54 737.25L446.73 737.89L446.73 738.48L446.54 739.11L446.07 739.62L445.48 739.83L444.62 739.83L444.03 739.62L443.48 738.69L443.01 738.48L442.69 738.56L442.42 738.86L442.34 739.20L442.42 739.58L442.69 740.17L443.17 740.71L444.34 741.22L445.52 741.26L446.77 740.84L447.67 739.87L448.03 738.77L448.07 737.85L447.67 736.49L446.77 735.52L445.52 735.10L444.58 735.10L444.18 735.23L444.15 734.85L444.26 734.17L446.77 734.17L447.09 734.09L447.40 733.67L447.36 733.12L447.09 732.82L446.77 732.74ZM436.42 732.74L435.56 732.78L434.38 733.29L433.56 734.68L433.25 736.37L433.25 738.18L433.64 739.87L434.54 740.84L435.80 741.26L436.34 741.22L437.52 740.71L438.27 739.87L438.66 738.52L438.62 737.93L438.27 736.83L437.36 735.86L436.11 735.44L435.56 735.48L434.82 735.78L434.74 735.74L434.85 735.06L435.21 734.47L435.83 734.17L436.38 734.17L436.85 734.34L437.21 734.98L437.48 735.14L437.99 735.10L438.27 734.81L438.34 734.47L438.27 734.09L437.83 733.29L437.48 733.08ZM435.83 736.87L436.66 737.09L437.13 737.59L437.32 738.23L437.13 739.11L436.66 739.62L436.07 739.83L435.25 739.62L434.82 739.15L434.62 738.35L434.78 737.59L435.25 737.09ZM427.76 732.78L427.49 732.95L427.29 733.46L427.37 733.79L427.64 734.09L427.96 734.17L430.03 734.22L428.97 735.74L428.86 736.16L428.90 736.37L429.21 736.79L430.31 736.87L430.70 737.09L430.86 737.25L431.05 737.89L431.05 738.48L430.86 739.11L430.39 739.62L429.80 739.83L428.94 739.83L428.35 739.62L427.80 738.69L427.33 738.48L427.01 738.56L426.74 738.86L426.66 739.20L426.74 739.58L427.01 740.17L427.49 740.71L428.66 741.22L429.84 741.26L431.09 740.84L431.99 739.87L432.39 738.52L432.35 737.59L431.99 736.49L431.37 735.82L430.82 735.52L431.95 733.88L432.07 733.46L431.99 733.12L431.72 732.82L431.41 732.74ZM114.11 13.27L113.79 13.98L113.79 23.84L113.95 24.37L114.26 24.64L114.89 24.64L115.21 24.37L115.37 23.84L115.37 17.15L117.02 15.30L117.81 14.86L119.55 14.86L120.25 15.30L120.73 16.80L120.81 24.20L121.20 24.64L121.99 24.55L122.30 23.84L122.30 16.80L121.52 14.15L119.94 13.18L117.73 13.10L116.00 13.98L115.45 14.59L115.29 13.62L115.05 13.27L114.58 13.10ZM105.75 13.10L104.02 13.98L102.60 15.56L101.89 17.77L101.81 19.62L102.60 22.26L104.02 23.84L105.75 24.73L107.64 24.73L109.38 23.84L110.79 22.26L110.95 21.73L110.79 21.20L110.48 20.94L109.85 20.94L108.35 22.52L107.56 22.96L105.83 22.96L105.04 22.52L103.86 21.20L103.38 19.18L110.48 19.00L110.79 18.73L110.95 18.21L110.95 16.80L110.16 14.86L109.38 13.98L107.64 13.10ZM103.70 17.15L103.86 16.62L105.04 15.30L105.83 14.86L107.56 14.86L108.35 15.30L108.98 16.00L109.38 16.88L109.30 17.32L103.78 17.32ZM95.97 13.18L93.77 13.10L92.11 13.98L91.72 13.27L91.24 13.10L90.77 13.27L90.54 13.62L90.46 28.78L90.61 29.31L90.93 29.57L91.72 29.48L92.03 28.78L92.11 23.84L93.77 24.73L95.97 24.64L97.39 23.84L98.97 21.91L99.60 19.62L99.60 18.21L98.97 15.92L97.39 13.98ZM93.85 14.86L95.58 14.86L96.37 15.30L97.55 16.62L98.02 18.21L98.02 19.62L97.55 21.20L96.37 22.52L95.58 22.96L93.85 22.96L93.06 22.52L92.03 21.38L92.03 16.44L93.06 15.30ZM163.61 8.34L163.14 8.16L154.94 8.16L154.31 8.52L154.15 9.04L154.15 23.84L154.47 24.55L155.26 24.64L155.57 24.37L155.73 23.84L155.73 17.06L159.99 16.97L160.46 16.80L160.77 16.09L160.62 15.56L159.99 15.21L155.73 15.12L155.73 10.01L163.14 9.92L163.61 9.75L163.93 9.04ZM141.22 8.34L140.91 9.04L140.91 23.84L141.07 24.37L141.38 24.64L142.01 24.64L142.33 24.37L142.49 23.84L142.49 17.06L145.64 16.97L149.90 24.37L150.53 24.73L151.00 24.55L151.31 23.84L151.08 23.14L147.53 16.97L149.74 16.09L150.53 15.21L151.24 13.62L151.31 11.86L150.53 9.92L149.74 9.04L147.37 8.16L141.70 8.16ZM142.49 10.01L147.37 9.92L148.79 10.45L149.34 11.07L149.74 11.95L149.74 13.18L149.34 14.07L148.79 14.68L147.37 15.21L142.56 15.21ZM124.83 8.34L124.51 9.04L127.82 24.37L128.45 24.73L128.93 24.55L129.24 24.02L131.61 12.92L133.97 24.02L134.44 24.64L135.23 24.55L135.55 24.02L138.70 9.04L138.54 8.52L137.91 8.16L137.44 8.34L137.12 8.87L134.76 19.97L132.39 8.87L132.08 8.34L131.61 8.16L130.98 8.52L128.45 19.97L126.09 8.87L125.62 8.25ZM80.52 8.16L78.79 9.04L77.37 10.63L76.58 12.39L76.03 14.24L75.95 18.21L76.58 20.50L77.37 22.26L78.79 23.84L80.52 24.73L83.05 24.73L84.78 23.84L86.20 22.26L86.99 20.50L87.54 18.65L87.62 14.68L86.99 12.39L86.20 10.63L84.78 9.04L83.05 8.16ZM80.60 9.92L82.97 9.92L83.76 10.37L85.02 11.77L86.04 14.68L86.04 18.21L85.49 20.06L85.02 21.11L83.76 22.52L82.97 22.96L80.60 22.96L79.81 22.52L78.55 21.11L77.53 18.21L77.53 14.68L78.08 12.83L78.55 11.77L79.81 10.37ZM453.49 13.94L453.33 14.44L453.33 23.84L453.64 24.51L454.43 24.60L454.74 24.35L454.90 23.84L454.90 17.46L456.55 15.70L457.34 15.28L459.06 15.28L459.85 15.87L460.24 17.13L460.24 23.84L460.40 24.35L461.03 24.68L461.50 24.51L461.81 23.84L461.81 17.46L463.46 15.70L464.25 15.28L465.98 15.28L466.60 15.62L467.15 17.13L467.15 23.84L467.31 24.35L467.94 24.68L468.57 24.35L468.72 23.84L468.72 17.13L468.10 14.95L467.78 14.44L466.05 13.60L464.17 13.60L462.44 14.44L461.42 15.53L460.87 14.44L459.14 13.60L456.94 13.69L455.53 14.44L454.98 15.03L454.82 14.11L454.59 13.77L454.12 13.60ZM442.96 9.07L442.65 9.74L442.65 23.84L442.81 24.35L443.43 24.68L444.06 24.35L444.22 23.84L444.22 21.49L445.87 19.73L449.72 24.43L450.35 24.68L450.82 24.51L451.13 23.84L450.97 23.25L447.05 18.47L450.35 14.95L450.50 14.44L450.35 13.94L449.72 13.60L449.25 13.77L444.30 19.06L444.22 9.74L443.91 9.07L443.43 8.90ZM434.64 8.90L433.62 8.99L431.65 9.74L430.24 11.25L429.45 13.77L429.53 14.86L430.24 16.96L431.97 18.64L433.62 19.23L434.64 19.31L436.68 18.64L437.54 18.05L437.07 20.74L435.82 22.58L434.64 23.00L433.38 23.00L432.05 22.50L431.34 21.16L430.87 20.99L430.24 21.32L430.16 22.16L430.87 23.67L431.34 24.01L433.38 24.68L435.03 24.60L436.68 24.01L437.31 23.51L438.56 21.32L439.19 18.05L439.19 14.27L438.41 11.25L436.99 9.74ZM434.01 10.58L434.64 10.58L436.05 11.08L437.07 12.18L437.62 14.36L437.15 15.95L436.05 17.13L434.64 17.63L434.01 17.63L432.60 17.13L431.50 15.95L431.02 14.44L431.02 13.77L431.50 12.26L432.60 11.08ZM424.67 36.19L424.51 36.66L424.51 45.44L424.83 46.07L425.63 46.14L425.95 45.91L426.11 45.44L426.11 39.48L427.80 37.83L428.60 37.44L430.37 37.44L431.17 37.99L431.57 39.17L431.57 45.44L431.73 45.91L432.37 46.22L432.86 46.07L433.18 45.44L433.18 39.48L434.86 37.83L435.67 37.44L437.43 37.44L438.08 37.76L438.64 39.17L438.64 45.44L438.80 45.91L439.44 46.22L440.08 45.91L440.24 45.44L440.24 39.17L439.60 37.13L439.28 36.66L437.51 35.87L435.59 35.87L433.82 36.66L432.78 37.68L432.21 36.66L430.45 35.87L428.20 35.95L426.75 36.66L426.19 37.21L426.03 36.34L425.79 36.03L425.31 35.87ZM405.40 36.19L405.24 36.66L405.24 45.44L405.56 46.07L406.36 46.14L406.68 45.91L406.84 45.44L406.84 39.48L408.53 37.83L409.33 37.44L411.10 37.44L411.90 37.99L412.30 39.17L412.30 45.44L412.46 45.91L413.10 46.22L413.59 46.07L413.91 45.44L413.91 39.48L415.59 37.83L416.40 37.44L418.16 37.44L418.81 37.76L419.37 39.17L419.37 45.44L419.53 45.91L420.17 46.22L420.81 45.91L420.97 45.44L420.97 39.17L420.33 37.13L420.01 36.66L418.24 35.87L416.32 35.87L414.55 36.66L413.51 37.68L412.94 36.66L411.18 35.87L408.93 35.95L407.48 36.66L406.92 37.21L406.76 36.34L406.52 36.03L406.04 35.87ZM383.08 36.03L382.75 36.66L382.75 45.44L382.91 45.91L383.24 46.14L383.88 46.14L384.20 45.91L384.36 45.44L384.36 39.48L386.05 37.83L386.85 37.44L388.62 37.44L389.34 37.83L389.82 39.17L389.90 45.75L390.30 46.14L391.10 46.07L391.43 45.44L391.43 39.17L390.62 36.81L389.02 35.95L386.77 35.87L385.00 36.66L384.44 37.21L384.28 36.34L384.04 36.03L383.56 35.87ZM378.42 35.87L377.94 36.03L377.62 36.66L377.62 45.44L377.78 45.91L378.42 46.22L378.90 46.07L379.22 45.44L379.22 36.66L379.06 36.19ZM355.45 36.03L355.13 36.66L355.13 45.44L355.29 45.91L355.62 46.14L356.26 46.14L356.58 45.91L356.74 45.44L356.74 39.48L358.43 37.83L359.23 37.44L360.99 37.44L361.72 37.83L362.20 39.17L362.28 45.75L362.68 46.14L363.48 46.07L363.80 45.44L363.80 39.17L363.00 36.81L361.40 35.95L359.15 35.87L357.38 36.66L356.82 37.21L356.66 36.34L356.42 36.03L355.94 35.87ZM346.30 35.87L344.53 36.66L343.09 38.07L342.37 40.03L342.29 41.68L343.09 44.03L344.53 45.44L346.30 46.22L348.23 46.22L349.99 45.44L351.44 44.03L352.16 42.07L352.24 40.42L351.44 38.07L349.99 36.66L348.23 35.87ZM346.38 37.44L348.15 37.44L348.95 37.83L350.16 39.01L350.64 40.42L350.64 41.68L350.16 43.09L348.95 44.26L348.15 44.66L346.38 44.66L345.58 44.26L344.37 43.09L343.89 41.68L343.89 40.42L344.37 39.01L345.58 37.83ZM338.59 35.87L338.11 36.03L337.79 36.66L337.79 45.44L337.95 45.91L338.59 46.22L339.07 46.07L339.40 45.44L339.40 36.66L339.24 36.19ZM319.48 36.66L318.04 38.07L317.24 40.42L317.32 42.07L318.04 44.03L319.48 45.44L320.93 46.14L323.18 46.22L324.86 45.44L325.43 46.14L326.23 46.07L326.55 45.44L326.55 36.66L326.39 36.19L326.07 35.95L325.43 35.95L324.86 36.66L323.18 35.87L321.25 35.87ZM321.33 37.44L323.10 37.44L323.90 37.83L324.94 38.85L324.94 43.24L323.90 44.26L323.10 44.66L321.33 44.66L320.53 44.26L319.32 43.09L318.84 41.68L318.84 40.42L319.32 39.01L320.53 37.83ZM305.83 35.87L305.35 36.03L305.03 36.66L305.03 45.44L305.19 45.91L305.83 46.22L306.32 46.07L306.64 45.44L306.64 36.66L306.48 36.19ZM298.45 35.95L296.20 35.87L294.51 36.66L294.11 36.03L293.63 35.87L293.15 36.03L292.91 36.34L292.83 49.83L292.99 50.30L293.31 50.54L294.11 50.46L294.43 49.83L294.51 45.44L296.20 46.22L298.45 46.14L299.89 45.44L301.50 43.71L302.14 41.68L302.14 40.42L301.50 38.38L299.89 36.66ZM296.28 37.44L298.05 37.44L298.85 37.83L300.05 39.01L300.53 40.42L300.53 41.68L300.05 43.09L298.85 44.26L298.05 44.66L296.28 44.66L295.48 44.26L294.43 43.24L294.43 38.85L295.48 37.83ZM288.49 35.87L288.01 36.03L287.69 36.66L287.69 45.44L287.85 45.91L288.49 46.22L288.97 46.07L289.29 45.44L289.29 36.66L289.13 36.19ZM279.50 35.87L277.73 36.66L276.29 38.07L275.56 40.03L275.48 41.68L276.29 44.03L277.73 45.44L279.50 46.22L281.43 46.22L283.19 45.44L284.64 44.03L284.80 43.56L284.64 43.09L284.32 42.85L283.67 42.85L282.15 44.26L281.34 44.66L279.58 44.66L278.78 44.26L277.57 43.09L277.09 41.68L277.09 40.42L277.57 39.01L278.78 37.83L279.58 37.44L281.34 37.44L282.15 37.83L283.51 39.17L283.99 39.32L284.48 39.17L284.80 38.54L284.64 38.07L283.19 36.66L281.43 35.87ZM267.94 35.87L266.17 36.66L264.72 38.07L264.00 40.03L263.92 41.68L264.72 44.03L266.17 45.44L267.94 46.22L269.86 46.22L271.63 45.44L273.07 44.03L273.24 43.56L273.07 43.09L272.75 42.85L272.11 42.85L270.59 44.26L269.78 44.66L268.02 44.66L267.21 44.26L266.01 43.09L265.53 41.28L272.75 41.13L273.07 40.89L273.24 40.42L273.24 39.17L272.43 37.44L271.63 36.66L269.86 35.87ZM265.85 39.48L266.01 39.01L267.21 37.83L268.02 37.44L269.78 37.44L270.59 37.83L271.23 38.46L271.63 39.24L271.55 39.64L265.93 39.64ZM262.64 36.03L262.16 35.87L259.91 35.95L258.46 36.66L257.90 37.21L257.74 36.34L257.50 36.03L257.02 35.87L256.37 36.19L256.21 36.66L256.21 45.44L256.53 46.07L257.34 46.14L257.66 45.91L257.82 45.44L257.82 40.42L258.30 39.01L259.51 37.83L260.31 37.44L262.16 37.44L262.64 37.28L262.96 36.66ZM212.05 35.87L210.29 36.66L208.84 38.07L208.12 40.03L208.04 41.68L208.84 44.03L210.29 45.44L212.05 46.22L213.98 46.22L215.75 45.44L217.19 44.03L217.35 43.56L217.19 43.09L216.87 42.85L216.23 42.85L214.70 44.26L213.90 44.66L212.13 44.66L211.33 44.26L210.13 43.09L209.64 41.28L216.87 41.13L217.19 40.89L217.35 40.42L217.35 39.17L216.55 37.44L215.75 36.66L213.98 35.87ZM209.97 39.48L210.13 39.01L211.33 37.83L212.13 37.44L213.90 37.44L214.70 37.83L215.34 38.46L215.75 39.24L215.67 39.64L210.05 39.64ZM190.37 36.66L188.93 38.07L188.13 40.42L188.21 42.07L188.93 44.03L190.37 45.44L191.82 46.14L194.07 46.22L195.75 45.44L196.32 46.14L197.12 46.07L197.44 45.44L197.44 36.66L197.28 36.19L196.96 35.95L196.32 35.95L195.75 36.66L194.07 35.87L192.14 35.87ZM192.22 37.44L193.99 37.44L194.79 37.83L195.83 38.85L195.83 43.24L194.79 44.26L193.99 44.66L192.22 44.66L191.42 44.26L190.21 43.09L189.73 41.68L189.73 40.42L190.21 39.01L191.42 37.83ZM171.75 36.03L171.42 36.66L171.42 42.93L172.23 45.28L173.83 46.14L176.08 46.22L177.85 45.44L178.41 44.89L178.57 45.75L178.81 46.07L179.29 46.22L179.78 46.07L180.10 45.44L180.10 36.66L179.94 36.19L179.61 35.95L178.97 35.95L178.65 36.19L178.49 36.66L178.49 42.62L176.80 44.26L176.00 44.66L174.24 44.66L173.51 44.26L173.03 42.93L172.95 36.34L172.55 35.95ZM152.32 36.19L152.15 36.66L152.15 45.44L152.48 46.07L153.28 46.14L153.60 45.91L153.76 45.44L153.76 39.48L155.45 37.83L156.25 37.44L158.02 37.44L158.82 37.99L159.22 39.17L159.22 45.44L159.38 45.91L160.02 46.22L160.51 46.07L160.83 45.44L160.83 39.48L162.51 37.83L163.32 37.44L165.08 37.44L165.72 37.76L166.29 39.17L166.29 45.44L166.45 45.91L167.09 46.22L167.73 45.91L167.89 45.44L167.89 39.17L167.25 37.13L166.93 36.66L165.16 35.87L163.24 35.87L161.47 36.66L160.42 37.68L159.86 36.66L158.10 35.87L155.85 35.95L154.40 36.66L153.84 37.21L153.68 36.34L153.44 36.03L152.96 35.87ZM140.27 36.03L139.95 36.66L139.95 42.93L140.75 45.28L142.36 46.14L144.61 46.22L146.37 45.44L146.94 44.89L147.10 45.75L147.34 46.07L147.82 46.22L148.30 46.07L148.62 45.44L148.62 36.66L148.46 36.19L148.14 35.95L147.50 35.95L147.18 36.19L147.02 36.66L147.02 42.62L145.33 44.26L144.53 44.66L142.76 44.66L142.04 44.26L141.56 42.93L141.48 36.34L141.07 35.95ZM131.76 35.87L129.99 36.66L128.55 38.07L127.83 40.03L127.75 41.68L128.55 44.03L129.99 45.44L131.76 46.22L133.69 46.22L135.45 45.44L136.90 44.03L137.06 43.56L136.90 43.09L136.58 42.85L135.94 42.85L134.41 44.26L133.61 44.66L131.84 44.66L131.04 44.26L129.83 43.09L129.35 41.68L129.35 40.42L129.83 39.01L131.04 37.83L131.84 37.44L133.61 37.44L134.41 37.83L135.78 39.17L136.26 39.32L136.74 39.17L137.06 38.54L136.90 38.07L135.45 36.66L133.69 35.87ZM120.20 35.87L118.43 36.66L116.99 38.07L116.26 40.03L116.18 41.68L116.99 44.03L118.43 45.44L120.20 46.22L122.13 46.22L123.89 45.44L125.34 44.03L125.50 43.56L125.34 43.09L125.02 42.85L124.37 42.85L122.85 44.26L122.05 44.66L120.28 44.66L119.48 44.26L118.27 43.09L117.79 41.68L117.79 40.42L118.27 39.01L119.48 37.83L120.28 37.44L122.05 37.44L122.85 37.83L124.21 39.17L124.69 39.32L125.18 39.17L125.50 38.54L125.34 38.07L123.89 36.66L122.13 35.87ZM331.53 31.48L331.05 31.64L330.72 32.27L330.72 35.79L329.28 35.95L328.96 36.19L328.80 36.66L328.96 37.13L329.28 37.36L330.72 37.52L330.72 42.93L331.53 45.28L333.13 46.14L334.74 46.22L335.38 45.91L335.54 45.44L335.38 44.97L335.06 44.73L333.53 44.66L332.89 44.34L332.33 42.93L332.33 37.52L334.42 37.36L334.74 37.13L334.90 36.66L334.74 36.19L334.42 35.95L332.33 35.79L332.33 32.27L332.17 31.80ZM311.62 31.48L311.13 31.64L310.81 32.27L310.81 35.79L309.37 35.95L309.05 36.19L308.89 36.66L309.05 37.13L309.37 37.36L310.81 37.52L310.81 42.93L311.62 45.28L313.22 46.14L314.83 46.22L315.47 45.91L315.63 45.44L315.47 44.97L315.15 44.73L313.62 44.66L312.98 44.34L312.42 42.93L312.42 37.52L314.51 37.36L314.83 37.13L314.99 36.66L314.83 36.19L314.51 35.95L312.42 35.79L312.42 32.27L312.26 31.80ZM251.72 32.27L249.31 31.48L243.53 31.48L242.88 31.80L242.72 32.27L242.72 45.44L243.05 46.07L243.85 46.14L244.17 45.91L244.33 45.44L244.41 39.95L249.31 39.95L251.40 39.32L252.52 38.38L253.32 36.66L253.32 34.78L252.52 33.05ZM244.33 33.13L249.31 33.05L250.75 33.52L251.32 34.07L251.72 34.85L251.72 36.58L251.32 37.36L250.75 37.91L249.31 38.38L244.41 38.38ZM228.43 31.56L227.63 31.64L227.31 32.27L227.23 36.66L225.54 35.87L223.29 35.95L221.85 36.66L220.24 38.38L219.60 40.42L219.60 41.68L220.24 43.71L221.85 45.44L223.29 46.14L225.54 46.22L227.23 45.44L227.63 46.07L228.11 46.22L228.59 46.07L228.83 45.75L228.91 32.27L228.75 31.80ZM223.70 37.44L225.46 37.44L226.26 37.83L227.31 38.85L227.31 43.24L226.26 44.26L225.46 44.66L223.70 44.66L222.89 44.26L221.69 43.09L221.21 41.68L221.21 40.42L221.69 39.01L222.89 37.83ZM202.42 31.48L201.94 31.64L201.61 32.27L201.61 35.79L200.17 35.95L199.85 36.19L199.69 36.66L199.85 37.13L200.17 37.36L201.61 37.52L201.61 42.93L202.42 45.28L204.02 46.14L205.63 46.22L206.27 45.91L206.43 45.44L206.27 44.97L205.95 44.73L204.43 44.66L203.78 44.34L203.22 42.93L203.22 37.52L205.31 37.36L205.63 37.13L205.79 36.66L205.63 36.19L205.31 35.95L203.22 35.79L203.22 32.27L203.06 31.80ZM184.43 31.48L183.95 31.64L183.63 32.27L183.63 45.44L183.79 45.91L184.43 46.22L184.91 46.07L185.24 45.44L185.24 32.27L185.07 31.80ZM109.60 31.56L108.80 31.64L108.15 32.82L103.42 44.97L103.42 45.75L103.82 46.14L104.46 46.14L104.94 45.67L106.47 41.83L112.09 41.83L113.78 45.91L114.42 46.22L114.90 46.07L115.14 45.75L115.14 44.97L110.08 32.03ZM109.28 34.54L111.45 40.26L107.03 40.19ZM378.42 30.86L377.94 31.01L377.13 31.80L376.97 32.27L377.13 32.74L377.94 33.52L378.42 33.68L378.90 33.52L379.70 32.74L379.86 32.27L379.70 31.80L378.90 31.01ZM338.59 30.86L338.11 31.01L337.31 31.80L337.15 32.27L337.31 32.74L338.11 33.52L338.59 33.68L339.07 33.52L339.88 32.74L340.04 32.27L339.88 31.80L339.07 31.01ZM305.83 30.86L305.35 31.01L304.55 31.80L304.39 32.27L304.55 32.74L305.35 33.52L305.83 33.68L306.32 33.52L307.12 32.74L307.28 32.27L307.12 31.80L306.32 31.01ZM288.49 30.86L288.01 31.01L287.21 31.80L287.05 32.27L287.21 32.74L288.01 33.52L288.49 33.68L288.97 33.52L289.78 32.74L289.94 32.27L289.78 31.80L288.97 31.01ZM73.99 776.36L73.57 776.48L73.02 776.97L72.89 777.34L73.02 777.71L73.57 778.20L73.99 778.32L74.40 778.20L74.95 777.71L75.08 777.34L74.95 776.97L74.40 776.48ZM73.99 770.47L73.57 770.60L73.02 771.09L72.89 771.45L73.02 771.82L73.57 772.31L73.99 772.44L74.40 772.31L74.95 771.82L75.08 771.45L74.95 771.09L74.40 770.60ZM58.82 770.53L57.65 771.09L56.42 772.25L55.87 773.72L55.87 775.07L56.42 776.54L57.65 777.71L59.16 778.32L61.15 778.26L62.32 777.71L63.42 776.73L63.55 776.36L63.42 776.05L63.00 775.87L62.59 775.99L61.49 776.97L60.67 777.34L59.30 777.34L58.47 776.97L57.44 776.05L56.96 774.83L56.96 774.46L63.00 774.40L63.35 774.27L63.55 773.91L63.48 772.62L62.87 771.58L62.11 770.96L60.81 770.47ZM57.24 773.23L57.44 772.74L58.47 771.82L59.30 771.45L60.67 771.45L61.49 771.82L62.04 772.31L62.46 773.05L62.39 773.42L57.31 773.42ZM70.14 767.04L68.70 767.10L67.74 767.53L67.40 767.84L66.85 769.31L66.85 770.41L65.54 770.53L65.20 770.96L65.54 771.39L66.85 771.52L66.85 777.83L66.98 778.14L67.40 778.32L67.74 778.20L67.95 777.83L67.95 771.52L69.59 771.45L69.94 771.33L70.14 770.96L70.00 770.66L69.59 770.47L68.01 770.47L67.95 769.55L68.49 768.33L69.18 768.02L70.14 768.02L70.55 767.84L70.62 767.35ZM45.09 767.16L44.89 767.53L44.89 777.83L45.02 778.14L45.43 778.32L45.64 778.26L45.98 777.83L45.98 772.99L48.93 772.93L52.64 778.08L53.12 778.32L53.46 778.20L53.67 777.83L53.60 777.59L50.31 772.99L52.43 772.31L52.98 771.82L53.60 770.78L53.60 769.19L52.98 768.14L52.23 767.53L50.58 767.04L45.43 767.04ZM45.98 768.08L50.31 768.02L51.54 768.39L52.16 768.88L52.57 769.62L52.57 770.35L52.16 771.09L51.68 771.52L50.31 771.94L46.05 771.94ZM210.52 767.14L208.88 767.63L207.45 769.45L206.91 771.82L206.91 774.61L207.59 776.74L208.68 777.71L210.52 778.32L211.47 778.32L213.10 777.83L214.40 776.74L215.08 775.10L215.08 774.25L214.53 772.79L213.10 771.52L211.47 771.03L210.52 771.03L208.88 771.52L208.00 772.12L208.47 769.82L209.56 768.48L210.79 768.12L211.74 768.12L212.97 768.48L213.44 769.27L213.78 769.51L214.19 769.51L214.47 769.27L214.47 768.78L213.99 767.93L213.65 767.63L212.01 767.14ZM210.79 772.00L211.20 772.00L212.56 772.43L213.51 773.28L213.99 774.49L213.99 774.86L213.51 776.07L212.56 776.92L211.20 777.34L210.79 777.34L209.43 776.92L208.47 776.07L208.06 774.67L208.06 774.31L208.47 773.28L209.43 772.43ZM198.39 767.21L197.24 767.75L196.55 768.42L196.01 769.57L196.01 770.06L196.21 770.42L196.55 770.54L196.90 770.42L197.51 768.97L198.05 768.48L198.87 768.12L200.78 768.12L201.59 768.48L202.14 768.97L202.55 769.69L202.55 770.42L201.25 772.43L195.60 777.47L195.53 778.01L196.01 778.32L203.84 778.26L204.18 777.83L204.05 777.53L203.64 777.34L197.44 777.28L201.87 773.34L203.09 771.70L203.64 770.54L203.57 769.27L202.96 768.24L202.41 767.75L200.91 767.14ZM188.18 767.14L186.54 767.63L185.11 769.45L184.57 771.82L184.57 773.64L185.11 776.01L186.54 777.83L188.18 778.32L189.68 778.32L191.31 777.83L192.74 776.01L193.29 773.64L193.29 771.82L192.74 769.45L191.31 767.63L189.68 767.14ZM188.45 768.12L189.40 768.12L190.90 768.66L191.72 769.82L192.20 771.94L192.20 773.52L191.72 775.64L190.77 776.92L189.40 777.34L188.45 777.34L186.95 776.80L186.13 775.64L185.66 773.52L185.66 771.94L186.13 769.82L187.09 768.54ZM176.60 767.21L175.44 767.75L174.76 768.42L174.22 769.57L174.22 770.06L174.42 770.42L174.76 770.54L175.10 770.42L175.72 768.97L176.26 768.48L177.08 768.12L178.98 768.12L179.80 768.48L180.35 768.97L180.75 769.69L180.75 770.42L179.46 772.43L173.81 777.47L173.74 778.01L174.22 778.32L182.05 778.26L182.39 777.83L182.25 777.53L181.84 777.34L175.65 777.28L180.07 773.34L181.30 771.70L181.84 770.54L181.78 769.27L181.16 768.24L180.62 767.75L179.12 767.14ZM162.98 767.27L162.78 767.63L162.78 777.83L162.91 778.13L163.32 778.32L168.43 778.32L170.06 777.83L170.95 777.04L171.49 775.89L171.42 774.13L170.81 773.09L170.06 772.55L170.95 771.70L171.49 770.54L171.42 769.27L170.95 768.42L170.06 767.63L168.43 767.14L163.32 767.14ZM163.87 773.03L168.16 772.97L169.52 773.40L169.99 773.82L170.40 774.55L170.40 775.77L169.99 776.49L169.52 776.92L168.16 777.34L163.93 777.34ZM163.87 768.18L168.16 768.12L169.38 768.48L169.99 768.97L170.40 769.69L170.40 770.42L169.99 771.15L169.52 771.58L168.16 772.00L163.93 772.00ZM152.63 767.27L152.42 767.63L152.42 777.83L152.56 778.13L152.97 778.32L160.05 778.32L160.39 778.19L160.60 777.83L160.53 777.65L160.05 777.34L153.51 777.28L153.51 773.03L157.33 772.97L157.67 772.85L157.87 772.49L157.74 772.18L157.33 772.00L153.51 771.94L153.51 768.18L160.05 768.12L160.53 767.81L160.46 767.33L160.05 767.14L152.97 767.14ZM150.58 767.27L150.24 767.14L143.16 767.14L142.75 767.33L142.62 767.63L142.62 777.83L142.82 778.19L143.37 778.26L143.71 777.83L143.71 773.03L147.52 772.97L147.86 772.85L148.07 772.49L147.93 772.18L147.52 772.00L143.71 771.94L143.71 768.18L150.24 768.12L150.72 767.81L150.79 767.63ZM135.33 767.14L133.70 767.63L132.27 769.45L131.72 771.82L131.72 774.61L132.40 776.74L133.49 777.71L135.33 778.32L136.28 778.32L137.92 777.83L139.21 776.74L139.89 775.10L139.89 774.25L139.35 772.79L137.92 771.52L136.28 771.03L135.33 771.03L133.70 771.52L132.81 772.12L133.29 769.82L134.38 768.48L135.60 768.12L136.56 768.12L137.78 768.48L138.26 769.27L138.60 769.51L139.01 769.51L139.28 769.27L139.28 768.78L138.80 767.93L138.46 767.63L136.83 767.14ZM135.60 772.00L136.01 772.00L137.37 772.43L138.33 773.28L138.80 774.49L138.80 774.86L138.33 776.07L137.37 776.92L136.01 777.34L135.60 777.34L134.24 776.92L133.29 776.07L132.88 774.67L132.88 774.31L133.29 773.28L134.24 772.43ZM123.21 767.21L122.05 767.75L121.37 768.42L120.82 769.57L120.82 770.06L121.03 770.42L121.37 770.54L121.71 770.42L122.32 768.97L122.87 768.48L123.68 768.12L125.59 768.12L126.41 768.48L126.95 768.97L127.36 769.69L127.36 770.42L126.07 772.43L120.42 777.47L120.35 778.01L120.82 778.32L128.66 778.26L129.00 777.83L128.86 777.53L128.45 777.34L122.25 777.28L126.68 773.34L127.91 771.70L128.45 770.54L128.38 769.27L127.77 768.24L127.23 767.75L125.73 767.14ZM109.59 767.27L109.38 767.63L109.45 767.81L109.93 768.12L116.53 768.18L109.45 777.59L109.52 778.13L109.93 778.32L117.55 778.32L117.90 778.19L118.10 777.83L118.03 777.65L117.55 777.34L110.95 777.28L118.03 767.87L117.96 767.33L117.55 767.14L109.93 767.14ZM102.10 767.14L100.46 767.63L99.03 769.45L98.49 771.82L98.49 773.64L99.03 776.01L100.46 777.83L102.10 778.32L103.59 778.32L105.23 777.83L106.66 776.01L107.20 773.64L107.20 771.82L106.66 769.45L105.23 767.63L103.59 767.14ZM102.37 768.12L103.32 768.12L104.82 768.66L105.64 769.82L106.11 771.94L106.11 773.52L105.64 775.64L104.68 776.92L103.32 777.34L102.37 777.34L100.87 776.80L100.05 775.64L99.58 773.52L99.58 771.94L100.05 769.82L101.01 768.54ZM91.20 767.14L89.56 767.63L88.13 769.45L87.59 771.82L87.59 773.64L88.13 776.01L89.56 777.83L91.20 778.32L92.70 778.32L94.33 777.83L95.76 776.01L96.31 773.64L96.31 771.82L95.76 769.45L94.33 767.63L92.70 767.14ZM91.47 768.12L92.42 768.12L93.92 768.66L94.74 769.82L95.22 771.94L95.22 773.52L94.74 775.64L93.79 776.92L92.42 777.34L91.47 777.34L89.97 776.80L89.16 775.64L88.68 773.52L88.68 771.94L89.16 769.82L90.11 768.54ZM278.98 776.37L278.57 776.49L278.02 776.98L277.88 777.34L278.02 777.71L278.57 778.19L278.98 778.32L279.40 778.19L279.95 777.71L280.09 777.34L279.95 776.98L279.40 776.49ZM278.98 770.54L278.57 770.67L278.02 771.15L277.88 771.52L278.02 771.88L278.57 772.37L278.98 772.49L279.40 772.37L279.95 771.88L280.09 771.52L279.95 771.15L279.40 770.67ZM261.48 770.73L261.34 771.03L261.34 777.83L261.55 778.19L262.10 778.26L262.45 777.83L262.45 773.22L263.96 771.88L264.79 771.52L266.17 771.52L266.99 771.94L267.41 773.03L267.41 777.83L267.55 778.13L267.96 778.32L268.30 778.19L268.51 777.83L268.51 773.22L270.03 771.88L270.85 771.52L272.23 771.52L272.92 771.82L273.47 773.03L273.47 777.83L273.82 778.26L274.02 778.32L274.44 778.13L274.57 777.83L274.57 772.79L274.02 771.33L273.68 771.03L272.37 770.54L270.37 770.61L269.20 771.15L268.23 772.00L267.96 771.33L267.61 771.03L266.65 770.61L264.31 770.61L263.14 771.15L262.52 771.70L262.31 770.73L261.90 770.54ZM253.28 770.61L252.11 771.15L250.87 772.31L250.32 773.76L250.32 775.10L250.87 776.56L252.11 777.71L253.63 778.32L255.63 778.26L256.80 777.71L258.04 776.56L258.59 775.10L258.59 773.76L258.04 772.31L256.80 771.15L255.28 770.54ZM253.76 771.52L255.14 771.52L255.97 771.88L257.00 772.79L257.49 774.01L257.49 774.86L257.00 776.07L255.97 776.98L255.14 777.34L253.76 777.34L252.94 776.98L251.90 776.07L251.42 774.86L251.42 774.01L251.90 772.79L252.94 771.88ZM249.01 770.67L248.67 770.54L246.67 770.61L245.50 771.15L244.88 771.70L244.67 770.73L244.26 770.54L243.84 770.73L243.71 771.03L243.71 777.83L243.91 778.19L244.46 778.26L244.81 777.83L244.81 774.01L245.29 772.79L246.32 771.88L247.15 771.52L248.67 771.52L249.01 771.39L249.22 771.03ZM241.84 767.27L241.50 767.14L234.33 767.14L233.92 767.33L233.78 767.63L233.78 777.83L233.99 778.19L234.54 778.26L234.89 777.83L234.89 773.03L238.74 772.97L239.09 772.85L239.30 772.49L239.16 772.18L238.74 772.00L234.89 771.94L234.89 768.18L241.50 768.12L241.98 767.81L242.05 767.63ZM415.41 767.14L413.78 767.63L412.34 769.45L411.80 771.82L411.80 774.61L412.48 776.74L413.57 777.71L415.41 778.32L416.37 778.32L418.00 777.83L419.30 776.74L419.98 775.10L419.98 774.25L419.43 772.79L418.00 771.52L416.37 771.03L415.41 771.03L413.78 771.52L412.89 772.12L413.37 769.82L414.46 768.48L415.68 768.12L416.64 768.12L417.87 768.48L418.34 769.27L418.68 769.51L419.09 769.51L419.37 769.27L419.37 768.78L418.89 767.93L418.55 767.63L416.91 767.14ZM415.68 772.00L416.09 772.00L417.46 772.43L418.41 773.28L418.89 774.49L418.89 774.86L418.41 776.07L417.46 776.92L416.09 777.34L415.68 777.34L414.32 776.92L413.37 776.07L412.96 774.67L412.96 774.31L413.37 773.28L414.32 772.43ZM403.28 767.21L402.12 767.75L401.44 768.42L400.89 769.57L400.89 770.06L401.09 770.42L401.44 770.54L401.78 770.42L402.39 768.97L402.94 768.48L403.75 768.12L405.66 768.12L406.48 768.48L407.03 768.97L407.43 769.69L407.43 770.42L406.14 772.43L400.48 777.47L400.41 778.01L400.89 778.32L408.73 778.26L409.07 777.83L408.93 777.53L408.53 777.34L402.32 777.28L406.75 773.34L407.98 771.70L408.53 770.54L408.46 769.27L407.84 768.24L407.30 767.75L405.80 767.14ZM393.05 767.14L391.41 767.63L389.98 769.45L389.44 771.82L389.44 773.64L389.98 776.01L391.41 777.83L393.05 778.32L394.55 778.32L396.19 777.83L397.62 776.01L398.16 773.64L398.16 771.82L397.62 769.45L396.19 767.63L394.55 767.14ZM393.32 768.12L394.28 768.12L395.78 768.66L396.59 769.82L397.07 771.94L397.07 773.52L396.59 775.64L395.64 776.92L394.28 777.34L393.32 777.34L391.82 776.80L391.00 775.64L390.53 773.52L390.53 771.94L391.00 769.82L391.96 768.54ZM381.46 767.21L380.30 767.75L379.62 768.42L379.07 769.57L379.07 770.06L379.28 770.42L379.62 770.54L379.96 770.42L380.57 768.97L381.12 768.48L381.94 768.12L383.85 768.12L384.66 768.48L385.21 768.97L385.62 769.69L385.62 770.42L384.32 772.43L378.66 777.47L378.60 778.01L379.07 778.32L386.91 778.26L387.25 777.83L387.12 777.53L386.71 777.34L380.51 777.28L384.94 773.34L386.16 771.70L386.71 770.54L386.64 769.27L386.03 768.24L385.48 767.75L383.98 767.14ZM367.82 767.27L367.62 767.63L367.62 777.83L367.76 778.13L368.17 778.32L373.28 778.32L374.91 777.83L375.80 777.04L376.35 775.89L376.28 774.13L375.66 773.09L374.91 772.55L375.80 771.70L376.35 770.54L376.28 769.27L375.80 768.42L374.91 767.63L373.28 767.14L368.17 767.14ZM368.71 773.03L373.01 772.97L374.37 773.40L374.85 773.82L375.26 774.55L375.26 775.77L374.85 776.49L374.37 776.92L373.01 777.34L368.78 777.34ZM368.71 768.18L373.01 768.12L374.23 768.48L374.85 768.97L375.26 769.69L375.26 770.42L374.85 771.15L374.37 771.58L373.01 772.00L368.78 772.00ZM357.46 767.27L357.26 767.63L357.26 777.83L357.39 778.13L357.80 778.32L364.89 778.32L365.23 778.19L365.44 777.83L365.37 777.65L364.89 777.34L358.35 777.28L358.35 773.03L362.17 772.97L362.51 772.85L362.71 772.49L362.57 772.18L362.17 772.00L358.35 771.94L358.35 768.18L364.89 768.12L365.37 767.81L365.30 767.33L364.89 767.14L357.80 767.14ZM355.42 767.27L355.08 767.14L347.98 767.14L347.58 767.33L347.44 767.63L347.44 777.83L347.64 778.19L348.19 778.26L348.53 777.83L348.53 773.03L352.35 772.97L352.69 772.85L352.89 772.49L352.76 772.18L352.35 772.00L348.53 771.94L348.53 768.18L355.08 768.12L355.55 767.81L355.62 767.63ZM340.14 767.14L338.51 767.63L337.08 769.45L336.53 771.82L336.53 774.61L337.21 776.74L338.30 777.71L340.14 778.32L341.10 778.32L342.74 777.83L344.03 776.74L344.71 775.10L344.71 774.25L344.17 772.79L342.74 771.52L341.10 771.03L340.14 771.03L338.51 771.52L337.62 772.12L338.10 769.82L339.19 768.48L340.42 768.12L341.37 768.12L342.60 768.48L343.08 769.27L343.42 769.51L343.83 769.51L344.10 769.27L344.10 768.78L343.62 767.93L343.28 767.63L341.64 767.14ZM340.42 772.00L340.83 772.00L342.19 772.43L343.14 773.28L343.62 774.49L343.62 774.86L343.14 776.07L342.19 776.92L340.83 777.34L340.42 777.34L339.05 776.92L338.10 776.07L337.69 774.67L337.69 774.31L338.10 773.28L339.05 772.43ZM328.01 767.21L326.85 767.75L326.17 768.42L325.62 769.57L325.62 770.06L325.83 770.42L326.17 770.54L326.51 770.42L327.12 768.97L327.67 768.48L328.49 768.12L330.40 768.12L331.21 768.48L331.76 768.97L332.17 769.69L332.17 770.42L330.87 772.43L325.21 777.47L325.15 778.01L325.62 778.32L333.46 778.26L333.80 777.83L333.67 777.53L333.26 777.34L327.05 777.28L331.49 773.34L332.71 771.70L333.26 770.54L333.19 769.27L332.58 768.24L332.03 767.75L330.53 767.14ZM314.37 767.27L314.17 767.63L314.24 767.81L314.71 768.12L321.33 768.18L314.24 777.59L314.31 778.13L314.71 778.32L322.35 778.32L322.69 778.19L322.90 777.83L322.83 777.65L322.35 777.34L315.74 777.28L322.83 767.87L322.76 767.33L322.35 767.14L314.71 767.14ZM306.33 767.14L304.69 767.63L304.35 767.93L303.87 768.78L303.87 770.36L304.35 771.21L305.51 771.88L305.03 772.12L303.94 773.09L303.33 774.13L303.33 776.19L303.94 777.22L304.69 777.83L306.33 778.32L308.92 778.32L310.76 777.71L311.31 777.22L311.92 776.19L311.92 774.13L311.31 773.09L310.21 772.12L309.74 771.88L310.90 771.21L311.37 770.36L311.37 768.78L310.90 767.93L310.56 767.63L308.92 767.14ZM305.78 772.91L307.62 772.37L309.46 772.91L310.49 773.82L310.90 774.55L310.90 775.77L310.49 776.49L310.01 776.92L308.65 777.34L306.60 777.34L305.24 776.92L304.76 776.49L304.35 775.77L304.35 774.55L304.76 773.82ZM304.90 769.21L305.37 768.48L306.60 768.12L308.65 768.12L310.01 768.60L310.35 769.21L310.35 769.94L309.81 770.73L308.99 771.09L307.62 771.39L306.26 771.09L305.44 770.73L304.90 769.94ZM297.26 767.14L296.85 767.27L295.22 768.72L294.33 769.09L293.99 769.57L294.19 769.94L294.87 770.00L295.83 769.57L296.72 768.97L296.72 777.83L296.85 778.13L297.26 778.32L297.60 778.19L297.81 777.83L297.81 767.63L297.67 767.33ZM450.99 776.40L450.59 776.52L450.05 777.00L449.91 777.35L450.05 777.71L450.59 778.19L450.99 778.31L451.40 778.19L451.94 777.71L452.07 777.35L451.94 777.00L451.40 776.52ZM450.99 770.69L450.59 770.81L450.05 771.28L449.91 771.64L450.05 772.00L450.59 772.47L450.99 772.59L451.40 772.47L451.94 772.00L452.07 771.64L451.94 771.28L451.40 770.81ZM442.02 770.75L440.87 771.28L439.65 772.41L439.11 773.84L439.11 775.15L439.65 776.58L440.87 777.71L442.35 778.31L444.31 778.25L445.46 777.71L446.67 776.58L447.21 775.15L447.21 773.84L446.67 772.41L445.46 771.28L443.97 770.69ZM442.49 771.64L443.84 771.64L444.65 772.00L445.66 772.89L446.13 774.08L446.13 774.91L445.66 776.10L444.65 777.00L443.84 777.35L442.49 777.35L441.68 777.00L440.67 776.10L440.19 774.91L440.19 774.08L440.67 772.89L441.68 772.00ZM434.25 767.35L433.92 767.47L433.71 767.83L433.71 770.63L432.43 770.75L432.09 771.16L432.43 771.58L433.71 771.70L433.71 776.10L434.25 777.53L434.59 777.83L435.54 778.25L436.95 778.31L437.43 778.01L437.36 777.53L436.95 777.35L436.01 777.35L435.33 777.06L434.79 775.87L434.79 771.70L436.41 771.64L436.75 771.52L436.95 771.16L436.82 770.87L436.41 770.69L434.79 770.63L434.79 767.83L434.66 767.53ZM587.22 767.25L585.58 767.73L584.15 769.53L583.61 771.88L583.61 774.64L584.29 776.75L585.38 777.71L587.22 778.31L588.17 778.31L589.80 777.83L591.10 776.75L591.78 775.12L591.78 774.28L591.23 772.84L589.80 771.58L588.17 771.10L587.22 771.10L585.58 771.58L584.70 772.18L585.17 769.89L586.26 768.57L587.49 768.21L588.44 768.21L589.67 768.57L590.14 769.35L590.48 769.59L590.89 769.59L591.17 769.35L591.17 768.87L590.69 768.03L590.35 767.73L588.71 767.25ZM587.49 772.06L587.90 772.06L589.26 772.48L590.21 773.32L590.69 774.52L590.69 774.88L590.21 776.09L589.26 776.93L587.90 777.35L587.49 777.35L586.13 776.93L585.17 776.09L584.76 774.70L584.76 774.34L585.17 773.32L586.13 772.48ZM575.09 767.31L573.94 767.85L573.25 768.51L572.71 769.65L572.71 770.13L572.91 770.50L573.25 770.62L573.60 770.50L574.21 769.05L574.75 768.57L575.57 768.21L577.48 768.21L578.29 768.57L578.84 769.05L579.25 769.77L579.25 770.50L577.95 772.48L572.30 777.47L572.23 778.01L572.71 778.31L580.54 778.25L580.88 777.83L580.75 777.53L580.34 777.35L574.14 777.29L578.57 773.38L579.79 771.76L580.34 770.62L580.27 769.35L579.66 768.33L579.11 767.85L577.61 767.25ZM564.88 767.25L563.24 767.73L561.81 769.53L561.27 771.88L561.27 773.68L561.81 776.03L563.24 777.83L564.88 778.31L566.38 778.31L568.01 777.83L569.44 776.03L569.99 773.68L569.99 771.88L569.44 769.53L568.01 767.73L566.38 767.25ZM565.15 768.21L566.10 768.21L567.60 768.75L568.42 769.89L568.90 772.00L568.90 773.56L568.42 775.67L567.47 776.93L566.10 777.35L565.15 777.35L563.65 776.81L562.83 775.67L562.36 773.56L562.36 772.00L562.83 769.89L563.79 768.63ZM553.30 767.31L552.14 767.85L551.46 768.51L550.92 769.65L550.92 770.13L551.12 770.50L551.46 770.62L551.80 770.50L552.42 769.05L552.96 768.57L553.78 768.21L555.68 768.21L556.50 768.57L557.05 769.05L557.45 769.77L557.45 770.50L556.16 772.48L550.51 777.47L550.44 778.01L550.92 778.31L558.75 778.25L559.09 777.83L558.95 777.53L558.54 777.35L552.35 777.29L556.77 773.38L558.00 771.76L558.54 770.62L558.48 769.35L557.86 768.33L557.32 767.85L555.82 767.25ZM539.68 767.37L539.48 767.73L539.48 777.83L539.61 778.13L540.02 778.31L545.13 778.31L546.76 777.83L547.65 777.05L548.19 775.91L548.12 774.16L547.51 773.14L546.76 772.60L547.65 771.76L548.19 770.62L548.12 769.35L547.65 768.51L546.76 767.73L545.13 767.25L540.02 767.25ZM540.57 773.08L544.86 773.02L546.22 773.44L546.69 773.86L547.10 774.58L547.10 775.79L546.69 776.51L546.22 776.93L544.86 777.35L540.63 777.35ZM540.57 768.27L544.86 768.21L546.08 768.57L546.69 769.05L547.10 769.77L547.10 770.50L546.69 771.22L546.22 771.64L544.86 772.06L540.63 772.06ZM529.33 767.37L529.12 767.73L529.12 777.83L529.26 778.13L529.67 778.31L536.75 778.31L537.09 778.19L537.30 777.83L537.23 777.65L536.75 777.35L530.21 777.29L530.21 773.08L534.03 773.02L534.37 772.90L534.57 772.54L534.44 772.24L534.03 772.06L530.21 772.00L530.21 768.27L536.75 768.21L537.23 767.91L537.16 767.43L536.75 767.25L529.67 767.25ZM527.28 767.37L526.94 767.25L519.86 767.25L519.45 767.43L519.32 767.73L519.32 777.83L519.52 778.19L520.07 778.25L520.41 777.83L520.41 773.08L524.22 773.02L524.56 772.90L524.77 772.54L524.63 772.24L524.22 772.06L520.41 772.00L520.41 768.27L526.94 768.21L527.42 767.91L527.49 767.73ZM516.25 767.31L508.42 767.25L507.94 767.55L508.01 768.03L508.42 768.21L515.16 768.27L510.12 777.59L510.12 778.01L510.40 778.25L510.80 778.25L511.14 777.95L516.59 767.73ZM499.91 767.31L498.75 767.85L498.07 768.51L497.52 769.65L497.52 770.13L497.73 770.50L498.07 770.62L498.41 770.50L499.02 769.05L499.57 768.57L500.38 768.21L502.29 768.21L503.11 768.57L503.65 769.05L504.06 769.77L504.06 770.50L502.77 772.48L497.12 777.47L497.05 778.01L497.52 778.31L505.36 778.25L505.70 777.83L505.56 777.53L505.15 777.35L498.95 777.29L503.38 773.38L504.61 771.76L505.15 770.62L505.08 769.35L504.47 768.33L503.93 767.85L502.43 767.25ZM486.29 767.37L486.08 767.73L486.15 767.91L486.63 768.21L493.23 768.27L486.15 777.59L486.22 778.13L486.63 778.31L494.25 778.31L494.60 778.19L494.80 777.83L494.73 777.65L494.25 777.35L487.65 777.29L494.73 767.97L494.66 767.43L494.25 767.25L486.63 767.25ZM478.80 767.25L477.16 767.73L475.73 769.53L475.19 771.88L475.19 773.68L475.73 776.03L477.16 777.83L478.80 778.31L480.29 778.31L481.93 777.83L483.36 776.03L483.90 773.68L483.90 771.88L483.36 769.53L481.93 767.73L480.29 767.25ZM479.07 768.21L480.02 768.21L481.52 768.75L482.34 769.89L482.81 772.00L482.81 773.56L482.34 775.67L481.38 776.93L480.02 777.35L479.07 777.35L477.57 776.81L476.75 775.67L476.28 773.56L476.28 772.00L476.75 769.89L477.71 768.63ZM467.90 767.25L466.26 767.73L464.83 769.53L464.29 771.88L464.29 773.68L464.83 776.03L466.26 777.83L467.90 778.31L469.40 778.31L471.03 777.83L472.46 776.03L473.01 773.68L473.01 771.88L472.46 769.53L471.03 767.73L469.40 767.25ZM468.17 768.21L469.12 768.21L470.62 768.75L471.44 769.89L471.92 772.00L471.92 773.56L471.44 775.67L470.49 776.93L469.12 777.35L468.17 777.35L466.67 776.81L465.86 775.67L465.38 773.56L465.38 772.00L465.86 769.89L466.81 768.63ZM554.80 192.38L553.33 192.81L553.08 193.00L552.39 193.94L551.91 195.77L551.91 197.02L552.26 198.58L553.08 199.79L553.59 200.10L554.49 200.37L555.48 200.41L556.95 199.98L557.20 199.79L557.89 198.85L558.36 197.02L558.36 195.77L558.02 194.21L557.20 193.00L556.69 192.69L555.78 192.42ZM554.88 193.86L555.40 193.86L555.91 194.01L556.43 194.64L556.73 195.93L556.73 196.86L556.43 198.15L555.91 198.77L555.40 198.93L554.88 198.93L554.37 198.77L553.85 198.15L553.55 196.86L553.55 195.93L553.85 194.64L554.37 194.01ZM547.92 192.38L546.45 192.81L546.20 193.00L545.51 193.94L545.03 195.77L545.03 197.02L545.38 198.58L546.20 199.79L546.71 200.10L547.61 200.37L548.60 200.41L550.07 199.98L550.32 199.79L551.01 198.85L551.48 197.02L551.48 195.77L551.14 194.21L550.32 193.00L549.81 192.69L548.90 192.42ZM548.00 193.86L548.52 193.86L549.03 194.01L549.55 194.64L549.85 195.93L549.85 196.86L549.55 198.15L549.03 198.77L548.52 198.93L548.00 198.93L547.49 198.77L546.97 198.15L546.67 196.86L546.67 195.93L546.97 194.64L547.49 194.01ZM540.43 192.42L539.57 192.81L538.97 193.35L538.54 194.13L538.50 194.68L538.63 195.07L539.06 195.38L539.32 195.42L539.75 195.30L540.09 194.91L540.13 194.48L540.30 194.17L540.82 193.86L541.94 193.86L542.28 194.01L542.63 194.48L542.63 194.87L541.72 196.16L538.28 199.28L538.15 199.67L538.20 199.90L538.54 200.29L538.97 200.41L544.05 200.37L544.48 200.06L544.60 199.67L544.48 199.28L544.22 199.05L543.79 198.93L540.95 198.89L543.10 196.98L543.79 196.04L544.22 195.22L544.22 194.13L543.79 193.35L543.19 192.81L542.07 192.38ZM553.76 221.46L552.30 221.89L552.04 222.08L551.36 223.02L550.88 224.85L550.88 226.10L551.23 227.66L552.04 228.87L552.56 229.18L553.46 229.45L554.45 229.49L555.91 229.06L556.17 228.87L556.86 227.93L557.33 226.10L557.33 224.85L556.99 223.29L556.17 222.08L555.66 221.77L554.75 221.50ZM553.85 222.94L554.37 222.94L554.88 223.09L555.40 223.72L555.70 225.01L555.70 225.94L555.40 227.23L554.88 227.85L554.37 228.01L553.85 228.01L553.33 227.85L552.82 227.23L552.52 225.94L552.52 225.01L552.82 223.72L553.33 223.09ZM545.25 221.50L544.82 221.81L544.69 222.12L544.35 224.81L544.48 225.40L544.73 225.63L545.16 225.75L545.59 225.63L545.98 225.32L546.63 225.12L547.49 225.12L548.13 225.32L548.60 225.75L548.82 226.33L548.82 226.80L548.56 227.46L548.22 227.77L547.49 228.01L546.63 228.01L545.89 227.77L545.51 227.11L545.25 226.88L544.82 226.76L544.39 226.88L544.13 227.11L544.00 227.50L544.05 227.74L544.48 228.52L545.08 229.06L546.54 229.49L547.87 229.45L549.03 229.06L549.98 228.20L550.41 227.15L550.45 226.25L549.98 224.93L549.03 224.07L547.57 223.64L546.20 223.72L546.20 223.13L546.28 222.94L549.21 222.90L549.64 222.59L549.76 222.20L549.72 221.96L549.38 221.57L548.95 221.46ZM540.69 221.46L540.26 221.57L539.19 222.55L538.54 222.82L538.28 223.06L538.15 223.45L538.28 223.84L538.71 224.15L539.23 224.15L539.79 223.87L539.87 223.91L539.87 228.75L540.00 229.14L540.26 229.37L540.69 229.49L541.12 229.37L541.38 229.14L541.51 228.75L541.51 222.20L541.38 221.81L541.12 221.57ZM553.76 250.54L552.30 250.97L552.04 251.16L551.36 252.10L550.88 253.93L550.88 255.18L551.23 256.74L552.04 257.95L552.56 258.26L553.46 258.53L554.45 258.57L555.91 258.14L556.17 257.95L556.86 257.01L557.33 255.18L557.33 253.93L556.99 252.37L556.17 251.16L555.66 250.85L554.75 250.58ZM553.85 252.02L554.37 252.02L554.88 252.17L555.40 252.80L555.70 254.09L555.70 255.02L555.40 256.31L554.88 256.93L554.37 257.09L553.85 257.09L553.33 256.93L552.82 256.31L552.52 255.02L552.52 254.09L552.82 252.80L553.33 252.17ZM546.88 250.54L545.42 250.97L545.16 251.16L544.48 252.10L544.00 253.93L544.00 255.18L544.35 256.74L545.16 257.95L545.68 258.26L546.58 258.53L547.57 258.57L549.03 258.14L549.29 257.95L549.98 257.01L550.45 255.18L550.45 253.93L550.11 252.37L549.29 251.16L548.78 250.85L547.87 250.58ZM546.97 252.02L547.49 252.02L548.00 252.17L548.52 252.80L548.82 254.09L548.82 255.02L548.52 256.31L548.00 256.93L547.49 257.09L546.97 257.09L546.45 256.93L545.94 256.31L545.64 255.02L545.64 254.09L545.94 252.80L546.45 252.17ZM540.69 250.54L540.26 250.65L539.19 251.63L538.54 251.90L538.28 252.14L538.15 252.53L538.28 252.92L538.71 253.23L539.23 253.23L539.79 252.95L539.87 252.99L539.87 257.83L540.00 258.22L540.26 258.45L540.69 258.57L541.12 258.45L541.38 258.22L541.51 257.83L541.51 251.28L541.38 250.89L541.12 250.65ZM547.92 279.62L546.45 280.05L546.20 280.24L545.51 281.18L545.03 283.01L545.03 284.26L545.38 285.82L546.20 287.03L546.71 287.34L547.61 287.61L548.60 287.65L550.07 287.22L550.32 287.03L551.01 286.09L551.48 284.26L551.48 283.01L551.14 281.45L550.32 280.24L549.81 279.93L548.90 279.66ZM548.00 281.10L548.52 281.10L549.03 281.25L549.55 281.88L549.85 283.17L549.85 284.10L549.55 285.39L549.03 286.01L548.52 286.17L548.00 286.17L547.49 286.01L546.97 285.39L546.67 284.10L546.67 283.17L546.97 281.88L547.49 281.25ZM540.39 279.66L539.23 280.05L538.97 280.28L538.54 281.06L538.54 282.15L538.97 282.93L539.23 283.17L538.63 283.71L538.20 284.49L538.20 285.90L538.63 286.68L539.23 287.22L540.69 287.65L542.37 287.61L543.53 287.22L544.13 286.68L544.56 285.90L544.56 284.49L544.13 283.71L543.53 283.17L543.79 282.93L544.22 282.15L544.22 281.06L543.79 280.28L543.27 279.93L542.07 279.62ZM539.79 284.84L539.96 284.53L540.39 284.14L541.25 283.87L541.51 283.87L542.37 284.14L542.80 284.53L542.97 284.84L542.97 285.54L542.71 285.93L541.98 286.17L540.78 286.17L539.96 285.86L539.79 285.54ZM540.13 281.41L540.26 281.25L540.78 281.10L541.98 281.10L542.58 281.33L542.63 281.80L542.45 282.03L542.20 282.15L541.25 282.31L540.30 282.03L540.13 281.80ZM547.57 308.70L546.11 309.13L545.85 309.32L545.16 310.26L544.69 312.09L544.69 313.34L545.03 314.90L545.85 316.11L546.37 316.42L547.27 316.69L548.26 316.73L549.72 316.30L549.98 316.11L550.67 315.17L551.14 313.34L551.14 312.09L550.80 310.53L549.98 309.32L549.46 309.01L548.56 308.74ZM547.66 310.18L548.17 310.18L548.69 310.33L549.21 310.96L549.51 312.25L549.51 313.18L549.21 314.47L548.69 315.09L548.17 315.25L547.66 315.25L547.14 315.09L546.63 314.47L546.32 313.18L546.32 312.25L546.63 310.96L547.14 310.33ZM541.72 308.70L540.73 308.74L539.83 309.01L539.32 309.32L538.50 310.53L538.15 312.09L538.20 314.12L538.63 315.44L539.57 316.30L541.04 316.73L541.68 316.69L542.84 316.30L543.79 315.44L544.26 314.12L544.22 313.53L543.79 312.48L542.84 311.62L541.38 311.19L540.73 311.23L540.00 311.43L540.09 310.96L540.61 310.33L541.12 310.18L541.64 310.18L542.15 310.33L542.41 310.76L542.84 311.08L543.36 311.08L543.79 310.76L543.92 310.37L543.87 310.14L543.44 309.36L542.93 309.01ZM541.12 312.67L542.02 312.91L542.37 313.22L542.63 313.88L542.37 314.70L542.02 315.01L541.29 315.25L540.39 315.01L540.05 314.70L539.83 313.92L540.05 313.22L540.39 312.91ZM547.92 337.78L546.45 338.21L546.20 338.40L545.51 339.34L545.03 341.17L545.03 342.42L545.38 343.98L546.20 345.19L546.71 345.50L547.61 345.77L548.60 345.81L550.07 345.38L550.32 345.19L551.01 344.25L551.48 342.42L551.48 341.17L551.14 339.61L550.32 338.40L549.81 338.09L548.90 337.82ZM548.00 339.26L548.52 339.26L549.03 339.41L549.55 340.04L549.85 341.33L549.85 342.26L549.55 343.55L549.03 344.17L548.52 344.33L548.00 344.33L547.49 344.17L546.97 343.55L546.67 342.26L546.67 341.33L546.97 340.04L547.49 339.41ZM542.41 337.78L541.98 337.89L541.64 338.21L538.41 342.30L538.15 342.89L538.28 343.28L538.71 343.59L541.55 343.63L541.64 345.30L541.98 345.69L542.41 345.81L542.84 345.69L543.19 345.30L543.23 343.67L544.39 343.59L544.82 343.28L544.95 342.89L544.82 342.50L544.56 342.26L544.13 342.14L543.23 342.11L543.19 338.28L542.84 337.89ZM541.55 340.90L541.59 342.11L540.65 342.14L540.61 342.07ZM547.92 366.86L546.45 367.29L546.20 367.48L545.51 368.42L545.03 370.25L545.03 371.50L545.38 373.06L546.20 374.27L546.71 374.58L547.61 374.85L548.60 374.89L550.07 374.46L550.32 374.27L551.01 373.33L551.48 371.50L551.48 370.25L551.14 368.69L550.32 367.48L549.81 367.17L548.90 366.90ZM548.00 368.34L548.52 368.34L549.03 368.49L549.55 369.12L549.85 370.41L549.85 371.34L549.55 372.63L549.03 373.25L548.52 373.41L548.00 373.41L547.49 373.25L546.97 372.63L546.67 371.34L546.67 370.41L546.97 369.12L547.49 368.49ZM539.40 366.90L538.97 367.21L538.84 367.60L538.97 367.99L539.23 368.22L539.66 368.34L541.81 368.38L540.69 369.70L540.56 370.09L540.61 370.33L541.12 370.80L542.28 370.83L542.63 370.99L542.97 371.73L542.97 372.20L542.71 372.86L542.37 373.17L541.64 373.41L540.78 373.41L540.05 373.17L539.66 372.51L539.40 372.28L538.97 372.16L538.54 372.28L538.28 372.51L538.15 372.90L538.20 373.14L538.63 373.92L539.23 374.46L540.69 374.89L542.02 374.85L543.19 374.46L544.13 373.60L544.56 372.55L544.60 371.65L544.13 370.33L543.53 369.78L542.88 369.47L544.13 367.99L544.26 367.60L544.22 367.36L543.87 366.97L543.44 366.86ZM547.92 395.94L546.45 396.37L546.20 396.56L545.51 397.50L545.03 399.33L545.03 400.58L545.38 402.14L546.20 403.35L546.71 403.66L547.61 403.93L548.60 403.97L550.07 403.54L550.32 403.35L551.01 402.41L551.48 400.58L551.48 399.33L551.14 397.77L550.32 396.56L549.81 396.25L548.90 395.98ZM548.00 397.42L548.52 397.42L549.03 397.57L549.55 398.20L549.85 399.49L549.85 400.42L549.55 401.71L549.03 402.33L548.52 402.49L548.00 402.49L547.49 402.33L546.97 401.71L546.67 400.42L546.67 399.49L546.97 398.20L547.49 397.57ZM540.43 395.98L539.57 396.37L538.97 396.91L538.54 397.69L538.50 398.24L538.63 398.63L539.06 398.94L539.32 398.98L539.75 398.86L540.09 398.47L540.13 398.04L540.30 397.73L540.82 397.42L541.94 397.42L542.28 397.57L542.63 398.04L542.63 398.43L541.72 399.72L538.28 402.84L538.15 403.23L538.20 403.46L538.54 403.85L538.97 403.97L544.05 403.93L544.48 403.62L544.60 403.23L544.48 402.84L544.22 402.61L543.79 402.49L540.95 402.45L543.10 400.54L543.79 399.60L544.22 398.78L544.22 397.69L543.79 396.91L543.19 396.37L542.07 395.94ZM545.25 425.06L544.82 425.37L544.69 425.68L544.35 428.37L544.48 428.96L544.73 429.19L545.16 429.31L545.59 429.19L545.98 428.88L546.63 428.68L547.49 428.68L548.13 428.88L548.60 429.31L548.82 429.89L548.82 430.36L548.56 431.02L548.22 431.33L547.49 431.57L546.63 431.57L545.89 431.33L545.51 430.67L545.25 430.44L544.82 430.32L544.39 430.44L544.13 430.67L544.00 431.06L544.05 431.30L544.48 432.08L545.08 432.62L546.54 433.05L547.87 433.01L549.03 432.62L549.98 431.76L550.41 430.71L550.45 429.81L549.98 428.49L549.03 427.63L547.57 427.20L546.20 427.28L546.20 426.69L546.28 426.50L549.21 426.46L549.64 426.15L549.76 425.76L549.72 425.52L549.38 425.13L548.95 425.02ZM540.69 425.02L540.26 425.13L539.19 426.11L538.54 426.38L538.28 426.62L538.15 427.01L538.28 427.40L538.71 427.71L539.23 427.71L539.79 427.43L539.87 427.47L539.87 432.31L540.00 432.70L540.26 432.93L540.69 433.05L541.12 432.93L541.38 432.70L541.51 432.31L541.51 425.76L541.38 425.37L541.12 425.13ZM546.88 454.10L545.42 454.53L545.16 454.72L544.48 455.66L544.00 457.49L544.00 458.74L544.35 460.30L545.16 461.51L545.68 461.82L546.58 462.09L547.57 462.13L549.03 461.70L549.29 461.51L549.98 460.57L550.45 458.74L550.45 457.49L550.11 455.93L549.29 454.72L548.78 454.41L547.87 454.14ZM546.97 455.58L547.49 455.58L548.00 455.73L548.52 456.36L548.82 457.65L548.82 458.58L548.52 459.87L548.00 460.49L547.49 460.65L546.97 460.65L546.45 460.49L545.94 459.87L545.64 458.58L545.64 457.65L545.94 456.36L546.45 455.73ZM540.69 454.10L540.26 454.21L539.19 455.19L538.54 455.46L538.28 455.70L538.15 456.09L538.28 456.48L538.71 456.79L539.23 456.79L539.79 456.51L539.87 456.55L539.87 461.39L540.00 461.78L540.26 462.01L540.69 462.13L541.12 462.01L541.38 461.78L541.51 461.39L541.51 454.84L541.38 454.45L541.12 454.21ZM539.40 483.22L538.97 483.53L538.84 483.84L538.50 486.53L538.63 487.12L538.89 487.35L539.32 487.47L539.75 487.35L540.13 487.04L540.78 486.84L541.64 486.84L542.28 487.04L542.76 487.47L542.97 488.05L542.97 488.52L542.71 489.18L542.37 489.49L541.64 489.73L540.78 489.73L540.05 489.49L539.66 488.83L539.40 488.60L538.97 488.48L538.54 488.60L538.28 488.83L538.15 489.22L538.20 489.46L538.63 490.24L539.23 490.78L540.69 491.21L542.02 491.17L543.19 490.78L544.13 489.92L544.56 488.87L544.60 487.97L544.13 486.65L543.19 485.79L541.72 485.36L540.35 485.44L540.35 484.85L540.43 484.66L543.36 484.62L543.79 484.31L543.92 483.92L543.87 483.68L543.53 483.29L543.10 483.18ZM539.40 512.30L538.97 512.61L538.84 513.00L538.97 513.39L539.23 513.62L539.66 513.74L541.81 513.78L540.69 515.10L540.56 515.49L540.61 515.73L541.12 516.20L542.28 516.23L542.63 516.39L542.97 517.13L542.97 517.60L542.71 518.26L542.37 518.57L541.64 518.81L540.78 518.81L540.05 518.57L539.66 517.91L539.40 517.68L538.97 517.56L538.54 517.68L538.28 517.91L538.15 518.30L538.20 518.54L538.63 519.32L539.23 519.86L540.69 520.29L542.02 520.25L543.19 519.86L544.13 519.00L544.56 517.95L544.60 517.05L544.13 515.73L543.53 515.18L542.88 514.87L544.13 513.39L544.26 513.00L544.22 512.76L543.87 512.37L543.44 512.26ZM540.69 541.34L540.26 541.45L539.19 542.43L538.54 542.70L538.28 542.94L538.15 543.33L538.28 543.72L538.71 544.03L539.23 544.03L539.79 543.75L539.87 543.79L539.87 548.63L540.00 549.02L540.26 549.25L540.69 549.37L541.12 549.25L541.38 549.02L541.51 548.63L541.51 542.08L541.38 541.69L541.12 541.45ZM546.54 576.34L546.11 576.46L545.51 577.01L545.38 577.40L545.51 577.79L546.11 578.33L546.54 578.45L546.97 578.33L547.57 577.79L547.70 577.40L547.57 577.01L546.97 576.46ZM549.72 570.46L549.29 570.77L549.16 571.08L548.82 573.77L548.95 574.36L549.21 574.59L549.64 574.71L550.07 574.59L550.45 574.28L551.10 574.08L551.96 574.08L552.60 574.28L553.08 574.71L553.29 575.29L553.29 575.76L553.03 576.42L552.69 576.73L551.96 576.97L551.10 576.97L550.37 576.73L549.98 576.07L549.72 575.84L549.29 575.72L548.86 575.84L548.60 576.07L548.47 576.46L548.52 576.70L548.95 577.48L549.55 578.02L551.01 578.45L552.34 578.41L553.51 578.02L554.45 577.16L554.88 576.11L554.92 575.21L554.45 573.89L553.51 573.03L552.04 572.60L550.67 572.68L550.67 572.09L550.75 571.90L553.68 571.86L554.11 571.55L554.24 571.16L554.19 570.92L553.85 570.53L553.42 570.42ZM541.04 570.42L539.57 570.85L539.32 571.04L538.63 571.98L538.15 573.81L538.15 575.06L538.50 576.62L539.32 577.83L539.83 578.14L540.73 578.41L541.72 578.45L543.19 578.02L543.44 577.83L544.13 576.89L544.60 575.06L544.60 573.81L544.26 572.25L543.44 571.04L542.93 570.73L542.02 570.46ZM541.12 571.90L541.64 571.90L542.15 572.05L542.67 572.68L542.97 573.97L542.97 574.90L542.67 576.19L542.15 576.81L541.64 576.97L541.12 576.97L540.61 576.81L540.09 576.19L539.79 574.90L539.79 573.97L540.09 572.68L540.61 572.05ZM546.54 605.42L546.11 605.54L545.51 606.09L545.38 606.48L545.51 606.87L546.11 607.41L546.54 607.53L546.97 607.41L547.57 606.87L547.70 606.48L547.57 606.09L546.97 605.54ZM552.04 599.50L551.61 599.61L550.54 600.59L549.89 600.86L549.64 601.10L549.51 601.49L549.64 601.88L550.07 602.19L550.58 602.19L551.14 601.91L551.23 601.95L551.23 606.79L551.36 607.18L551.61 607.41L552.04 607.53L552.47 607.41L552.73 607.18L552.86 606.79L552.86 600.24L552.73 599.85L552.47 599.61ZM541.04 599.50L539.57 599.93L539.32 600.12L538.63 601.06L538.15 602.89L538.15 604.14L538.50 605.70L539.32 606.91L539.83 607.22L540.73 607.49L541.72 607.53L543.19 607.10L543.44 606.91L544.13 605.97L544.60 604.14L544.60 602.89L544.26 601.33L543.44 600.12L542.93 599.81L542.02 599.54ZM541.12 600.98L541.64 600.98L542.15 601.13L542.67 601.76L542.97 603.05L542.97 603.98L542.67 605.27L542.15 605.89L541.64 606.05L541.12 606.05L540.61 605.89L540.09 605.27L539.79 603.98L539.79 603.05L540.09 601.76L540.61 601.13Z"/>
</svg>
</body></html>
